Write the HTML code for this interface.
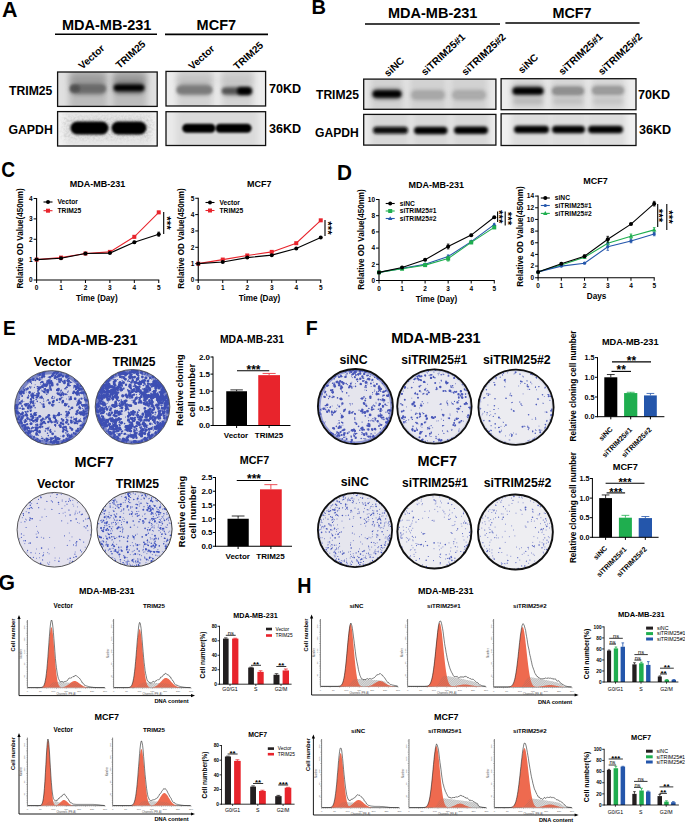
<!DOCTYPE html>
<html><head><meta charset="utf-8"><style>
html,body{margin:0;padding:0;background:#fff;}
body{width:685px;height:823px;overflow:hidden;}
svg{display:block;font-family:"Liberation Sans",sans-serif;font-weight:700;}
</style></head><body>
<svg width="685" height="823" viewBox="0 0 685 823">
<defs>
<filter id="bl1" x="-50%" y="-100%" width="200%" height="300%"><feGaussianBlur stdDeviation="1.6"/></filter>
<filter id="bl2" x="-50%" y="-100%" width="200%" height="300%"><feGaussianBlur stdDeviation="3"/></filter>
<filter id="bl3" x="-50%" y="-100%" width="200%" height="300%"><feGaussianBlur stdDeviation="0.9"/></filter>
<filter id="grain" x="-20%" y="-40%" width="140%" height="180%"><feGaussianBlur in="SourceGraphic" stdDeviation="3" result="b"/><feTurbulence type="fractalNoise" baseFrequency="0.45" numOctaves="2" seed="7" result="n"/><feColorMatrix in="n" type="matrix" values="0 0 0 0 0.6  0 0 0 0 0.6  0 0 0 0 0.6  2.5 0 0 0 -0.95" result="s"/><feComposite in="s" in2="b" operator="in"/></filter>
<filter id="bl4" x="-50%" y="-100%" width="200%" height="300%"><feGaussianBlur stdDeviation="2.2"/></filter>
<clipPath id="c57_72"><rect x="57.6" y="72" width="99.6" height="34.4"/></clipPath>
<clipPath id="c57_111"><rect x="57.6" y="111.6" width="99.6" height="34.4"/></clipPath>
<clipPath id="c166_71"><rect x="166" y="71.4" width="99.6" height="34.6"/></clipPath>
<clipPath id="c166_111"><rect x="166" y="111.7" width="99.6" height="33.8"/></clipPath>
<clipPath id="c363_79"><rect x="363.7" y="79.1" width="132.2" height="30.2"/></clipPath>
<clipPath id="c363_114"><rect x="363.7" y="114.4" width="132.2" height="30.7"/></clipPath>
<clipPath id="c501_78"><rect x="501.1" y="78.7" width="134.9" height="31"/></clipPath>
<clipPath id="c501_113"><rect x="501.1" y="113.8" width="134.9" height="31.7"/></clipPath>
<pattern id="hatch" width="1.6" height="1.6" patternUnits="userSpaceOnUse" patternTransform="rotate(45)"><line x1="0" y1="0" x2="0" y2="1.6" stroke="#6d6d6d" stroke-width="0.45"/></pattern>
<clipPath id="pq21"><circle cx="51.85" cy="407.8" r="37.2"/></clipPath>
<filter id="pb21" x="-5%" y="-5%" width="110%" height="110%"><feGaussianBlur stdDeviation="0.3"/></filter>
<clipPath id="pq22"><circle cx="132.5" cy="406.8" r="37.3"/></clipPath>
<filter id="pb22" x="-5%" y="-5%" width="110%" height="110%"><feGaussianBlur stdDeviation="0.3"/></filter>
<clipPath id="pl23"><circle cx="54.4" cy="529.75" r="37.2"/></clipPath>
<clipPath id="pl24"><circle cx="134.5" cy="529.1" r="37.5"/></clipPath>
<clipPath id="pq31"><circle cx="355.4" cy="406.5" r="38"/></clipPath>
<filter id="pb31" x="-5%" y="-5%" width="110%" height="110%"><feGaussianBlur stdDeviation="0.3"/></filter>
<clipPath id="pq32"><circle cx="434.4" cy="406.5" r="37.7"/></clipPath>
<filter id="pb32" x="-5%" y="-5%" width="110%" height="110%"><feGaussianBlur stdDeviation="0.3"/></filter>
<clipPath id="pq33"><circle cx="516" cy="407.25" r="38.1"/></clipPath>
<filter id="pb33" x="-5%" y="-5%" width="110%" height="110%"><feGaussianBlur stdDeviation="0.3"/></filter>
<clipPath id="pl34"><circle cx="355" cy="530" r="37.5"/></clipPath>
<clipPath id="pl35"><circle cx="434.4" cy="531.5" r="37.5"/></clipPath>
<clipPath id="pl36"><circle cx="515.4" cy="532" r="37.9"/></clipPath>
</defs>
<text transform="translate(2.08 16.89) scale(0.99 1)" font-size="21.7">A</text>
<text transform="translate(311.56 13.97) scale(0.95 1)" font-size="21.1">B</text>
<text transform="translate(1.18 177.21) scale(0.9 1)" font-size="21.3">C</text>
<text transform="translate(337.12 180.1) scale(0.93 1)" font-size="22.3">D</text>
<text transform="translate(2.93 334.89) scale(0.93 1)" font-size="20.4">E</text>
<text transform="translate(305.7 334.71) scale(0.93 1)" font-size="21">F</text>
<text transform="translate(-1.51 589.54) scale(1 1)" font-size="21.2">G</text>
<text transform="translate(297.19 592.58) scale(0.92 1)" font-size="21.4">H</text>
<text x="62" y="30.4" font-size="14.5">MDA-MB-231</text>
<line x1="55" y1="34.3" x2="157" y2="34.3" stroke="#000" stroke-width="1.6"/>
<text x="196.6" y="30.4" font-size="14.5">MCF7</text>
<line x1="165" y1="34.4" x2="268" y2="34.4" stroke="#000" stroke-width="1.6"/>
<text x="82.3" y="69.8" font-size="10.1" transform="rotate(-42 82.3 69.8)">Vector</text>
<text x="119.6" y="69" font-size="10.1" transform="rotate(-42 119.6 69)">TRIM25</text>
<text x="192.3" y="70.3" font-size="10.1" transform="rotate(-42 192.3 70.3)">Vector</text>
<text x="237.3" y="70.3" font-size="10.1" transform="rotate(-42 237.3 70.3)">TRIM25</text>
<text x="9" y="95.4" font-size="12.2">TRIM25</text>
<text x="8.4" y="134.4" font-size="12.3">GAPDH</text>
<text x="269" y="93" font-size="12.6">70KD</text>
<text x="269" y="133" font-size="12.6">36KD</text>
<g clip-path="url(#c57_72)">
<rect x="57.6" y="72" width="99.6" height="34.4" fill="#e0e0e0"/>
<rect x="69" y="68" width="39" height="42.4" fill="#bcbcbc" filter="url(#bl2)"/>
<rect x="112" y="68" width="35" height="42.4" fill="#bcbcbc" filter="url(#bl2)"/>
<rect x="70" y="74" width="36" height="12" rx="6" fill="#9c9c9c" filter="url(#bl2)"/>
<rect x="113" y="74" width="33" height="12" rx="6" fill="#989898" filter="url(#bl2)"/>
<rect x="70" y="83.5" width="36" height="11" rx="5.5" fill="#7a7a7a" filter="url(#bl4)"/>
<rect x="70.5" y="84.75" width="35" height="7.5" rx="3.75" fill="#6a6a6a" filter="url(#bl1)"/>
<rect x="70.5" y="85" width="9.5" height="7" rx="3.5" fill="#505050" filter="url(#bl1)"/>
<rect x="113" y="82.5" width="32" height="11" rx="5.5" fill="#5a5a5a" filter="url(#bl4)"/>
<rect x="114" y="84.8" width="30" height="6" rx="3" fill="#050505" filter="url(#bl1)"/>
</g>
<rect x="57.6" y="72" width="99.6" height="34.4" fill="none" stroke="#111" stroke-width="1.3"/>
<g clip-path="url(#c57_111)">
<rect x="57.6" y="111.6" width="99.6" height="34.4" fill="#f3f3f3"/>
<rect x="64" y="107.6" width="88" height="42.4" fill="#e6e6e6" filter="url(#bl2)"/>
<rect x="66" y="119" width="84" height="18" rx="9" fill="#dedede" filter="url(#bl2)"/>
<rect x="63" y="116" width="90" height="24" fill="#000" filter="url(#grain)"/>
<rect x="70.5" y="121.5" width="38" height="13" rx="6.5" fill="#000" filter="url(#bl3)"/>
<rect x="111.5" y="121.5" width="35" height="13" rx="6.5" fill="#000" filter="url(#bl3)"/>
</g>
<rect x="57.6" y="111.6" width="99.6" height="34.4" fill="none" stroke="#111" stroke-width="1.3"/>
<g clip-path="url(#c166_71)">
<rect x="166" y="71.4" width="99.6" height="34.6" fill="#ececec"/>
<rect x="176.8" y="67.4" width="36" height="42.6" fill="#d3d3d3" filter="url(#bl2)"/>
<rect x="221.3" y="67.4" width="32.2" height="42.6" fill="#d3d3d3" filter="url(#bl2)"/>
<rect x="177" y="76" width="36" height="8" rx="4" fill="#c0c0c0" filter="url(#bl2)"/>
<rect x="221" y="76" width="32" height="8" rx="4" fill="#c4c4c4" filter="url(#bl2)"/>
<rect x="177" y="84" width="35" height="11" rx="5.5" fill="#8a8a8a" filter="url(#bl4)"/>
<rect x="177" y="86.5" width="35" height="7" rx="3.5" fill="#7a7a7a" filter="url(#bl1)"/>
<rect x="222" y="86.5" width="30" height="9" rx="4.5" fill="#8a8a8a" filter="url(#bl4)"/>
<rect x="222" y="88" width="18" height="6" rx="3" fill="#555555" filter="url(#bl1)"/>
<rect x="237" y="87" width="15" height="8" rx="4" fill="#030303" filter="url(#bl1)"/>
</g>
<rect x="166" y="71.4" width="99.6" height="34.6" fill="none" stroke="#111" stroke-width="1.3"/>
<g clip-path="url(#c166_111)">
<rect x="166" y="111.7" width="99.6" height="33.8" fill="#eaeaea"/>
<rect x="176" y="107.7" width="82" height="41.8" fill="#dadada" filter="url(#bl2)"/>
<rect x="182.2" y="123.7" width="33.3" height="9" rx="4.5" fill="#000" filter="url(#bl3)"/>
<rect x="215.5" y="123.7" width="36.1" height="9" rx="4.5" fill="#000" filter="url(#bl3)"/>
</g>
<rect x="166" y="111.7" width="99.6" height="33.8" fill="none" stroke="#111" stroke-width="1.3"/>
<text x="388" y="18.4" font-size="14.5">MDA-MB-231</text>
<line x1="365" y1="24" x2="500" y2="24" stroke="#000" stroke-width="1.6"/>
<text x="552.4" y="17.5" font-size="14.4">MCF7</text>
<line x1="505.4" y1="23" x2="639.6" y2="23" stroke="#000" stroke-width="1.6"/>
<text x="388" y="77.3" font-size="10.2" transform="rotate(-43 388 77.3)">siNC</text>
<text x="425" y="76" font-size="10.2" transform="rotate(-43 425 76)">siTRIM25#1</text>
<text x="465.5" y="76" font-size="10.2" transform="rotate(-43 465.5 76)">siTRIM25#2</text>
<text x="522" y="74" font-size="10.2" transform="rotate(-43 522 74)">siNC</text>
<text x="562.5" y="75.5" font-size="10.2" transform="rotate(-43 562.5 75.5)">siTRIM25#1</text>
<text x="602" y="75.5" font-size="10.2" transform="rotate(-43 602 75.5)">siTRIM25#2</text>
<text x="316" y="99.4" font-size="12.1">TRIM25</text>
<text x="315" y="136.6" font-size="12.1">GAPDH</text>
<text x="638" y="99" font-size="12.6">70KD</text>
<text x="639" y="134.4" font-size="12.6">36KD</text>
<g clip-path="url(#c363_79)">
<rect x="363.7" y="79.1" width="132.2" height="30.2" fill="#e8e8e8"/>
<rect x="370" y="75.1" width="34" height="38.2" fill="#d2d2d2" filter="url(#bl2)"/>
<rect x="409" y="75.1" width="38" height="38.2" fill="#d2d2d2" filter="url(#bl2)"/>
<rect x="450" y="75.1" width="38" height="38.2" fill="#d2d2d2" filter="url(#bl2)"/>
<rect x="372" y="89" width="30" height="10" rx="5" fill="#5a5a5a" filter="url(#bl4)"/>
<rect x="373" y="90.75" width="28" height="6.5" rx="3.25" fill="#050505" filter="url(#bl1)"/>
<rect x="411" y="90" width="34" height="10" rx="5" fill="#a6a6a6" filter="url(#bl4)"/>
<rect x="413" y="92" width="30" height="6" rx="3" fill="#a8a8a8" filter="url(#bl1)"/>
<rect x="452" y="90" width="34" height="10" rx="5" fill="#a8a8a8" filter="url(#bl4)"/>
<rect x="454" y="92" width="30" height="6" rx="3" fill="#acacac" filter="url(#bl1)"/>
</g>
<rect x="363.7" y="79.1" width="132.2" height="30.2" fill="none" stroke="#111" stroke-width="1.3"/>
<g clip-path="url(#c363_114)">
<rect x="363.7" y="114.4" width="132.2" height="30.7" fill="#ededed"/>
<rect x="370" y="110.4" width="40" height="38.7" fill="#d8d8d8" filter="url(#bl2)"/>
<rect x="412" y="110.4" width="38" height="38.7" fill="#d8d8d8" filter="url(#bl2)"/>
<rect x="452" y="110.4" width="38" height="38.7" fill="#d8d8d8" filter="url(#bl2)"/>
<rect x="373" y="126.8" width="35" height="7" rx="3.5" fill="#0a0a0a" filter="url(#bl1)"/>
<rect x="414" y="126.75" width="33.5" height="7.5" rx="3.75" fill="#050505" filter="url(#bl1)"/>
<rect x="454" y="126.55" width="34" height="7.5" rx="3.75" fill="#050505" filter="url(#bl1)"/>
</g>
<rect x="363.7" y="114.4" width="132.2" height="30.7" fill="none" stroke="#111" stroke-width="1.3"/>
<g clip-path="url(#c501_78)">
<rect x="501.1" y="78.7" width="134.9" height="31" fill="#ececec"/>
<rect x="511" y="74.7" width="34" height="39" fill="#d8d8d8" filter="url(#bl2)"/>
<rect x="550" y="74.7" width="36" height="39" fill="#d8d8d8" filter="url(#bl2)"/>
<rect x="591" y="74.7" width="34" height="39" fill="#d8d8d8" filter="url(#bl2)"/>
<rect x="512" y="86" width="32" height="10" rx="5" fill="#606060" filter="url(#bl4)"/>
<rect x="513" y="87.75" width="30" height="6.5" rx="3.25" fill="#050505" filter="url(#bl1)"/>
<rect x="552" y="86.5" width="32" height="9" rx="4.5" fill="#8a8a8a" filter="url(#bl4)"/>
<rect x="553" y="88" width="30" height="6" rx="3" fill="#909090" filter="url(#bl1)"/>
<rect x="592" y="86" width="32" height="9" rx="4.5" fill="#959595" filter="url(#bl4)"/>
<rect x="593" y="87.5" width="30" height="6" rx="3" fill="#9c9c9c" filter="url(#bl1)"/>
<rect x="513" y="97.5" width="30" height="7" rx="3.5" fill="#b8b8b8" filter="url(#bl4)"/>
<rect x="553" y="97.5" width="30" height="7" rx="3.5" fill="#c0c0c0" filter="url(#bl4)"/>
<rect x="593" y="97.5" width="30" height="7" rx="3.5" fill="#c4c4c4" filter="url(#bl4)"/>
</g>
<rect x="501.1" y="78.7" width="134.9" height="31" fill="none" stroke="#111" stroke-width="1.3"/>
<g clip-path="url(#c501_113)">
<rect x="501.1" y="113.8" width="134.9" height="31.7" fill="#f0f0f0"/>
<rect x="511" y="109.8" width="40" height="39.7" fill="#dddddd" filter="url(#bl2)"/>
<rect x="550" y="109.8" width="37" height="39.7" fill="#dddddd" filter="url(#bl2)"/>
<rect x="586" y="109.8" width="40" height="39.7" fill="#dddddd" filter="url(#bl2)"/>
<rect x="514" y="125.85" width="35" height="7.5" rx="3.75" fill="#030303" filter="url(#bl1)"/>
<rect x="552" y="125.85" width="33" height="7.5" rx="3.75" fill="#030303" filter="url(#bl1)"/>
<rect x="588" y="125.85" width="35" height="7.5" rx="3.75" fill="#050505" filter="url(#bl1)"/>
</g>
<rect x="501.1" y="113.8" width="134.9" height="31.7" fill="none" stroke="#111" stroke-width="1.3"/>
<line x1="36.6" y1="198" x2="36.6" y2="280.5" stroke="#000" stroke-width="1.1"/>
<line x1="36.1" y1="280" x2="159.25" y2="280" stroke="#000" stroke-width="1.1"/>
<line x1="33.6" y1="280" x2="36.6" y2="280" stroke="#000" stroke-width="1"/>
<text x="32.6" y="282.3" font-size="6.5" text-anchor="end">0</text>
<line x1="33.6" y1="259.62" x2="36.6" y2="259.62" stroke="#000" stroke-width="1"/>
<text x="32.6" y="261.93" font-size="6.5" text-anchor="end">1</text>
<line x1="33.6" y1="239.25" x2="36.6" y2="239.25" stroke="#000" stroke-width="1"/>
<text x="32.6" y="241.55" font-size="6.5" text-anchor="end">2</text>
<line x1="33.6" y1="218.88" x2="36.6" y2="218.88" stroke="#000" stroke-width="1"/>
<text x="32.6" y="221.18" font-size="6.5" text-anchor="end">3</text>
<line x1="33.6" y1="198.5" x2="36.6" y2="198.5" stroke="#000" stroke-width="1"/>
<text x="32.6" y="200.8" font-size="6.5" text-anchor="end">4</text>
<line x1="36.6" y1="280" x2="36.6" y2="283" stroke="#000" stroke-width="1"/>
<text x="36.6" y="290" font-size="6.5" text-anchor="middle">0</text>
<line x1="61.03" y1="280" x2="61.03" y2="283" stroke="#000" stroke-width="1"/>
<text x="61.03" y="290" font-size="6.5" text-anchor="middle">1</text>
<line x1="85.46" y1="280" x2="85.46" y2="283" stroke="#000" stroke-width="1"/>
<text x="85.46" y="290" font-size="6.5" text-anchor="middle">2</text>
<line x1="109.89" y1="280" x2="109.89" y2="283" stroke="#000" stroke-width="1"/>
<text x="109.89" y="290" font-size="6.5" text-anchor="middle">3</text>
<line x1="134.32" y1="280" x2="134.32" y2="283" stroke="#000" stroke-width="1"/>
<text x="134.32" y="290" font-size="6.5" text-anchor="middle">4</text>
<line x1="158.75" y1="280" x2="158.75" y2="283" stroke="#000" stroke-width="1"/>
<text x="158.75" y="290" font-size="6.5" text-anchor="middle">5</text>
<text x="96.8" y="301" font-size="8.2" text-anchor="middle">Time (Day)</text>
<text x="22.8" y="238.5" font-size="8.15" text-anchor="middle" transform="rotate(-90 22.8 238.5)">Relative OD Value(450nm)</text>
<text x="97.5" y="187" font-size="9" text-anchor="middle">MDA-MB-231</text>
<path d="M36.6 259.6 61 257.6 85.5 253.5 109.9 251.9 134.3 236.8 158.8 212.4" fill="none" stroke="#e8242c" stroke-width="1.1"/>
<rect x="34.6" y="257.62" width="4" height="4" fill="#e8242c"/>
<rect x="59.03" y="255.59" width="4" height="4" fill="#e8242c"/>
<rect x="83.46" y="251.51" width="4" height="4" fill="#e8242c"/>
<rect x="107.89" y="249.88" width="4" height="4" fill="#e8242c"/>
<line x1="134.32" y1="238.03" x2="134.32" y2="235.58" stroke="#e8242c" stroke-width="0.8"/>
<line x1="133.02" y1="235.58" x2="135.62" y2="235.58" stroke="#e8242c" stroke-width="0.8"/>
<line x1="133.02" y1="238.03" x2="135.62" y2="238.03" stroke="#e8242c" stroke-width="0.8"/>
<rect x="132.32" y="234.81" width="4" height="4" fill="#e8242c"/>
<line x1="158.75" y1="213.37" x2="158.75" y2="211.34" stroke="#e8242c" stroke-width="0.8"/>
<line x1="157.45" y1="211.34" x2="160.05" y2="211.34" stroke="#e8242c" stroke-width="0.8"/>
<line x1="157.45" y1="213.37" x2="160.05" y2="213.37" stroke="#e8242c" stroke-width="0.8"/>
<rect x="156.75" y="210.36" width="4" height="4" fill="#e8242c"/>
<path d="M36.6 259.6 61 258.2 85.5 253.5 109.9 253.1 134.3 242.3 158.8 234.2" fill="none" stroke="#000" stroke-width="1.1"/>
<circle cx="36.6" cy="259.62" r="2" fill="#000"/>
<circle cx="61.03" cy="258.2" r="2" fill="#000"/>
<circle cx="85.46" cy="253.51" r="2" fill="#000"/>
<circle cx="109.89" cy="253.1" r="2" fill="#000"/>
<line x1="134.32" y1="243.32" x2="134.32" y2="241.29" stroke="#000" stroke-width="0.8"/>
<line x1="133.02" y1="241.29" x2="135.62" y2="241.29" stroke="#000" stroke-width="0.8"/>
<line x1="133.02" y1="243.32" x2="135.62" y2="243.32" stroke="#000" stroke-width="0.8"/>
<circle cx="134.32" cy="242.31" r="2" fill="#000"/>
<line x1="158.75" y1="236.19" x2="158.75" y2="232.12" stroke="#000" stroke-width="0.8"/>
<line x1="157.45" y1="232.12" x2="160.05" y2="232.12" stroke="#000" stroke-width="0.8"/>
<line x1="157.45" y1="236.19" x2="160.05" y2="236.19" stroke="#000" stroke-width="0.8"/>
<circle cx="158.75" cy="234.16" r="2" fill="#000"/>
<line x1="43.5" y1="202" x2="52.5" y2="202" stroke="#000" stroke-width="1.1"/>
<circle cx="48" cy="202" r="2" fill="#000"/>
<text x="57.5" y="204.3" font-size="6.7">Vector</text>
<line x1="43.5" y1="210.7" x2="52.5" y2="210.7" stroke="#e8242c" stroke-width="1.1"/>
<rect x="46" y="208.7" width="4" height="4" fill="#e8242c"/>
<text x="57.5" y="213" font-size="6.7">TRIM25</text>
<line x1="163.7" y1="212" x2="163.7" y2="234" stroke="#000" stroke-width="1.1"/>
<text x="162.94" y="223" font-size="11.5" text-anchor="middle" transform="rotate(90 162.94 223)">***</text>
<line x1="198.25" y1="197.75" x2="198.25" y2="280.5" stroke="#000" stroke-width="1.1"/>
<line x1="197.75" y1="280" x2="321.25" y2="280" stroke="#000" stroke-width="1.1"/>
<line x1="195.25" y1="280" x2="198.25" y2="280" stroke="#000" stroke-width="1"/>
<text x="194.25" y="282.3" font-size="6.5" text-anchor="end">0</text>
<line x1="195.25" y1="263.65" x2="198.25" y2="263.65" stroke="#000" stroke-width="1"/>
<text x="194.25" y="265.95" font-size="6.5" text-anchor="end">1</text>
<line x1="195.25" y1="247.3" x2="198.25" y2="247.3" stroke="#000" stroke-width="1"/>
<text x="194.25" y="249.6" font-size="6.5" text-anchor="end">2</text>
<line x1="195.25" y1="230.95" x2="198.25" y2="230.95" stroke="#000" stroke-width="1"/>
<text x="194.25" y="233.25" font-size="6.5" text-anchor="end">3</text>
<line x1="195.25" y1="214.6" x2="198.25" y2="214.6" stroke="#000" stroke-width="1"/>
<text x="194.25" y="216.9" font-size="6.5" text-anchor="end">4</text>
<line x1="195.25" y1="198.25" x2="198.25" y2="198.25" stroke="#000" stroke-width="1"/>
<text x="194.25" y="200.55" font-size="6.5" text-anchor="end">5</text>
<line x1="198.25" y1="280" x2="198.25" y2="283" stroke="#000" stroke-width="1"/>
<text x="198.25" y="290" font-size="6.5" text-anchor="middle">0</text>
<line x1="222.75" y1="280" x2="222.75" y2="283" stroke="#000" stroke-width="1"/>
<text x="222.75" y="290" font-size="6.5" text-anchor="middle">1</text>
<line x1="247.25" y1="280" x2="247.25" y2="283" stroke="#000" stroke-width="1"/>
<text x="247.25" y="290" font-size="6.5" text-anchor="middle">2</text>
<line x1="271.75" y1="280" x2="271.75" y2="283" stroke="#000" stroke-width="1"/>
<text x="271.75" y="290" font-size="6.5" text-anchor="middle">3</text>
<line x1="296.25" y1="280" x2="296.25" y2="283" stroke="#000" stroke-width="1"/>
<text x="296.25" y="290" font-size="6.5" text-anchor="middle">4</text>
<line x1="320.75" y1="280" x2="320.75" y2="283" stroke="#000" stroke-width="1"/>
<text x="320.75" y="290" font-size="6.5" text-anchor="middle">5</text>
<text x="259.5" y="301" font-size="8.2" text-anchor="middle">Time (Day)</text>
<text x="183.8" y="238.5" font-size="8.15" text-anchor="middle" transform="rotate(-90 183.8 238.5)">Relative OD Value(450nm)</text>
<text x="259.3" y="187" font-size="9" text-anchor="middle">MCF7</text>
<path d="M198.2 263.6 222.8 259.6 247.2 255.5 271.8 251.9 296.2 243.2 320.8 220.3" fill="none" stroke="#e8242c" stroke-width="1.1"/>
<rect x="196.25" y="261.65" width="4" height="4" fill="#e8242c"/>
<rect x="220.75" y="257.56" width="4" height="4" fill="#e8242c"/>
<rect x="245.25" y="253.47" width="4" height="4" fill="#e8242c"/>
<rect x="269.75" y="249.88" width="4" height="4" fill="#e8242c"/>
<rect x="294.25" y="241.21" width="4" height="4" fill="#e8242c"/>
<rect x="318.75" y="218.32" width="4" height="4" fill="#e8242c"/>
<path d="M198.2 263.6 222.8 262 247.2 257.6 271.8 255.1 296.2 248.6 320.8 237.5" fill="none" stroke="#000" stroke-width="1.1"/>
<circle cx="198.25" cy="263.65" r="2" fill="#000"/>
<circle cx="222.75" cy="262.01" r="2" fill="#000"/>
<circle cx="247.25" cy="257.6" r="2" fill="#000"/>
<circle cx="271.75" cy="255.15" r="2" fill="#000"/>
<circle cx="296.25" cy="248.61" r="2" fill="#000"/>
<circle cx="320.75" cy="237.49" r="2" fill="#000"/>
<line x1="205.5" y1="202.5" x2="214.5" y2="202.5" stroke="#000" stroke-width="1.1"/>
<circle cx="210" cy="202.5" r="2" fill="#000"/>
<text x="219.5" y="204.8" font-size="6.7">Vector</text>
<line x1="205.5" y1="210.5" x2="214.5" y2="210.5" stroke="#e8242c" stroke-width="1.1"/>
<rect x="208" y="208.5" width="4" height="4" fill="#e8242c"/>
<text x="219.5" y="212.8" font-size="6.7">TRIM25</text>
<line x1="325" y1="220" x2="325" y2="236" stroke="#000" stroke-width="1.1"/>
<text x="323.94" y="228" font-size="11.5" text-anchor="middle" transform="rotate(90 323.94 228)">***</text>
<line x1="379" y1="199" x2="379" y2="281" stroke="#000" stroke-width="1.1"/>
<line x1="378.5" y1="280.5" x2="494.75" y2="280.5" stroke="#000" stroke-width="1.1"/>
<line x1="376" y1="280.5" x2="379" y2="280.5" stroke="#000" stroke-width="1"/>
<text x="375" y="282.8" font-size="6.5" text-anchor="end">0</text>
<line x1="376" y1="264.3" x2="379" y2="264.3" stroke="#000" stroke-width="1"/>
<text x="375" y="266.6" font-size="6.5" text-anchor="end">2</text>
<line x1="376" y1="248.1" x2="379" y2="248.1" stroke="#000" stroke-width="1"/>
<text x="375" y="250.4" font-size="6.5" text-anchor="end">4</text>
<line x1="376" y1="231.9" x2="379" y2="231.9" stroke="#000" stroke-width="1"/>
<text x="375" y="234.2" font-size="6.5" text-anchor="end">6</text>
<line x1="376" y1="215.7" x2="379" y2="215.7" stroke="#000" stroke-width="1"/>
<text x="375" y="218" font-size="6.5" text-anchor="end">8</text>
<line x1="376" y1="199.5" x2="379" y2="199.5" stroke="#000" stroke-width="1"/>
<text x="375" y="201.8" font-size="6.5" text-anchor="end">10</text>
<line x1="379" y1="280.5" x2="379" y2="283.5" stroke="#000" stroke-width="1"/>
<text x="379" y="290.5" font-size="6.5" text-anchor="middle">0</text>
<line x1="402.05" y1="280.5" x2="402.05" y2="283.5" stroke="#000" stroke-width="1"/>
<text x="402.05" y="290.5" font-size="6.5" text-anchor="middle">1</text>
<line x1="425.1" y1="280.5" x2="425.1" y2="283.5" stroke="#000" stroke-width="1"/>
<text x="425.1" y="290.5" font-size="6.5" text-anchor="middle">2</text>
<line x1="448.15" y1="280.5" x2="448.15" y2="283.5" stroke="#000" stroke-width="1"/>
<text x="448.15" y="290.5" font-size="6.5" text-anchor="middle">3</text>
<line x1="471.2" y1="280.5" x2="471.2" y2="283.5" stroke="#000" stroke-width="1"/>
<text x="471.2" y="290.5" font-size="6.5" text-anchor="middle">4</text>
<line x1="494.25" y1="280.5" x2="494.25" y2="283.5" stroke="#000" stroke-width="1"/>
<text x="494.25" y="290.5" font-size="6.5" text-anchor="middle">5</text>
<text x="436.5" y="301.5" font-size="8.2" text-anchor="middle">Time (Day)</text>
<text x="363.8" y="239.5" font-size="8.15" text-anchor="middle" transform="rotate(-90 363.8 239.5)">Relative OD Value(450nm)</text>
<text x="436.3" y="188" font-size="9" text-anchor="middle">MDA-MB-231</text>
<path d="M379 272.4 402.1 268.4 425.1 264.3 448.1 256.6 471.2 241.6 494.2 224.6" fill="none" stroke="#2456ab" stroke-width="1.1"/>
<path d="M379 270.1 381.2 273.9 376.8 273.9" fill="#2456ab" stroke="none" stroke-width="1"/>
<path d="M402.1 266.1 404.2 269.9 399.9 269.9" fill="#2456ab" stroke="none" stroke-width="1"/>
<line x1="425.1" y1="265.11" x2="425.1" y2="263.49" stroke="#2456ab" stroke-width="0.8"/>
<line x1="423.8" y1="263.49" x2="426.4" y2="263.49" stroke="#2456ab" stroke-width="0.8"/>
<line x1="423.8" y1="265.11" x2="426.4" y2="265.11" stroke="#2456ab" stroke-width="0.8"/>
<path d="M425.1 262 427.3 265.8 422.9 265.8" fill="#2456ab" stroke="none" stroke-width="1"/>
<line x1="448.15" y1="258.23" x2="448.15" y2="254.98" stroke="#2456ab" stroke-width="0.8"/>
<line x1="446.85" y1="254.98" x2="449.45" y2="254.98" stroke="#2456ab" stroke-width="0.8"/>
<line x1="446.85" y1="258.23" x2="449.45" y2="258.23" stroke="#2456ab" stroke-width="0.8"/>
<path d="M448.1 254.3 450.3 258.1 445.9 258.1" fill="#2456ab" stroke="none" stroke-width="1"/>
<line x1="471.2" y1="242.43" x2="471.2" y2="240.81" stroke="#2456ab" stroke-width="0.8"/>
<line x1="469.9" y1="240.81" x2="472.5" y2="240.81" stroke="#2456ab" stroke-width="0.8"/>
<line x1="469.9" y1="242.43" x2="472.5" y2="242.43" stroke="#2456ab" stroke-width="0.8"/>
<path d="M471.2 239.3 473.4 243.1 469 243.1" fill="#2456ab" stroke="none" stroke-width="1"/>
<line x1="494.25" y1="225.42" x2="494.25" y2="223.8" stroke="#2456ab" stroke-width="0.8"/>
<line x1="492.95" y1="223.8" x2="495.55" y2="223.8" stroke="#2456ab" stroke-width="0.8"/>
<line x1="492.95" y1="225.42" x2="495.55" y2="225.42" stroke="#2456ab" stroke-width="0.8"/>
<path d="M494.2 222.3 496.4 226.1 492.1 226.1" fill="#2456ab" stroke="none" stroke-width="1"/>
<path d="M379 272.4 402.1 268.8 425.1 265.1 448.1 258.6 471.2 242.4 494.2 227.4" fill="none" stroke="#1fae4f" stroke-width="1.1"/>
<rect x="377" y="270.4" width="4" height="4" fill="#1fae4f"/>
<rect x="400.05" y="266.75" width="4" height="4" fill="#1fae4f"/>
<line x1="425.1" y1="265.92" x2="425.1" y2="264.3" stroke="#1fae4f" stroke-width="0.8"/>
<line x1="423.8" y1="264.3" x2="426.4" y2="264.3" stroke="#1fae4f" stroke-width="0.8"/>
<line x1="423.8" y1="265.92" x2="426.4" y2="265.92" stroke="#1fae4f" stroke-width="0.8"/>
<rect x="423.1" y="263.11" width="4" height="4" fill="#1fae4f"/>
<line x1="448.15" y1="261.06" x2="448.15" y2="256.2" stroke="#1fae4f" stroke-width="0.8"/>
<line x1="446.85" y1="256.2" x2="449.45" y2="256.2" stroke="#1fae4f" stroke-width="0.8"/>
<line x1="446.85" y1="261.06" x2="449.45" y2="261.06" stroke="#1fae4f" stroke-width="0.8"/>
<rect x="446.15" y="256.63" width="4" height="4" fill="#1fae4f"/>
<line x1="471.2" y1="243.64" x2="471.2" y2="241.22" stroke="#1fae4f" stroke-width="0.8"/>
<line x1="469.9" y1="241.22" x2="472.5" y2="241.22" stroke="#1fae4f" stroke-width="0.8"/>
<line x1="469.9" y1="243.64" x2="472.5" y2="243.64" stroke="#1fae4f" stroke-width="0.8"/>
<rect x="469.2" y="240.43" width="4" height="4" fill="#1fae4f"/>
<line x1="494.25" y1="228.25" x2="494.25" y2="226.63" stroke="#1fae4f" stroke-width="0.8"/>
<line x1="492.95" y1="226.63" x2="495.55" y2="226.63" stroke="#1fae4f" stroke-width="0.8"/>
<line x1="492.95" y1="228.25" x2="495.55" y2="228.25" stroke="#1fae4f" stroke-width="0.8"/>
<rect x="492.25" y="225.44" width="4" height="4" fill="#1fae4f"/>
<path d="M379 272.4 402.1 267.5 425.1 259.8 448.1 246.5 471.2 235.1 494.2 217.3" fill="none" stroke="#000" stroke-width="1.1"/>
<circle cx="379" cy="272.4" r="2" fill="#000"/>
<circle cx="402.05" cy="267.54" r="2" fill="#000"/>
<line x1="425.1" y1="260.65" x2="425.1" y2="259.04" stroke="#000" stroke-width="0.8"/>
<line x1="423.8" y1="259.04" x2="426.4" y2="259.04" stroke="#000" stroke-width="0.8"/>
<line x1="423.8" y1="260.65" x2="426.4" y2="260.65" stroke="#000" stroke-width="0.8"/>
<circle cx="425.1" cy="259.85" r="2" fill="#000"/>
<line x1="448.15" y1="248.91" x2="448.15" y2="244.05" stroke="#000" stroke-width="0.8"/>
<line x1="446.85" y1="244.05" x2="449.45" y2="244.05" stroke="#000" stroke-width="0.8"/>
<line x1="446.85" y1="248.91" x2="449.45" y2="248.91" stroke="#000" stroke-width="0.8"/>
<circle cx="448.15" cy="246.48" r="2" fill="#000"/>
<line x1="471.2" y1="235.95" x2="471.2" y2="234.33" stroke="#000" stroke-width="0.8"/>
<line x1="469.9" y1="234.33" x2="472.5" y2="234.33" stroke="#000" stroke-width="0.8"/>
<line x1="469.9" y1="235.95" x2="472.5" y2="235.95" stroke="#000" stroke-width="0.8"/>
<circle cx="471.2" cy="235.14" r="2" fill="#000"/>
<line x1="494.25" y1="218.13" x2="494.25" y2="216.51" stroke="#000" stroke-width="0.8"/>
<line x1="492.95" y1="216.51" x2="495.55" y2="216.51" stroke="#000" stroke-width="0.8"/>
<line x1="492.95" y1="218.13" x2="495.55" y2="218.13" stroke="#000" stroke-width="0.8"/>
<circle cx="494.25" cy="217.32" r="2" fill="#000"/>
<line x1="385.7" y1="203.5" x2="394.7" y2="203.5" stroke="#000" stroke-width="1.1"/>
<circle cx="390.2" cy="203.5" r="2" fill="#000"/>
<text x="399.7" y="205.8" font-size="6.7">siNC</text>
<line x1="385.7" y1="211" x2="394.7" y2="211" stroke="#1fae4f" stroke-width="1.1"/>
<rect x="388.2" y="209" width="4" height="4" fill="#1fae4f"/>
<text x="399.7" y="213.3" font-size="6.7">siTRIM25#1</text>
<line x1="385.7" y1="218.5" x2="394.7" y2="218.5" stroke="#2456ab" stroke-width="1.1"/>
<path d="M390.2 216.2 392.4 220 388 220" fill="#2456ab" stroke="none" stroke-width="1"/>
<text x="399.7" y="220.8" font-size="6.7">siTRIM25#2</text>
<line x1="497.6" y1="211.5" x2="497.6" y2="222" stroke="#000" stroke-width="1.1"/>
<text x="495.13" y="216.75" font-size="11.5" text-anchor="middle" transform="rotate(90 495.13 216.75)">***</text>
<line x1="505.2" y1="211.5" x2="505.2" y2="225.5" stroke="#000" stroke-width="1.1"/>
<text x="504.13" y="218.5" font-size="11.5" text-anchor="middle" transform="rotate(90 504.13 218.5)">***</text>
<line x1="538.1" y1="195.6" x2="538.1" y2="278.25" stroke="#000" stroke-width="1.1"/>
<line x1="537.6" y1="277.75" x2="654.7" y2="277.75" stroke="#000" stroke-width="1.1"/>
<line x1="535.1" y1="277.75" x2="538.1" y2="277.75" stroke="#000" stroke-width="1"/>
<text x="534.1" y="280.05" font-size="6.5" text-anchor="end">0</text>
<line x1="535.1" y1="266.09" x2="538.1" y2="266.09" stroke="#000" stroke-width="1"/>
<text x="534.1" y="268.39" font-size="6.5" text-anchor="end">2</text>
<line x1="535.1" y1="254.42" x2="538.1" y2="254.42" stroke="#000" stroke-width="1"/>
<text x="534.1" y="256.72" font-size="6.5" text-anchor="end">4</text>
<line x1="535.1" y1="242.76" x2="538.1" y2="242.76" stroke="#000" stroke-width="1"/>
<text x="534.1" y="245.06" font-size="6.5" text-anchor="end">6</text>
<line x1="535.1" y1="231.09" x2="538.1" y2="231.09" stroke="#000" stroke-width="1"/>
<text x="534.1" y="233.39" font-size="6.5" text-anchor="end">8</text>
<line x1="535.1" y1="219.43" x2="538.1" y2="219.43" stroke="#000" stroke-width="1"/>
<text x="534.1" y="221.73" font-size="6.5" text-anchor="end">10</text>
<line x1="535.1" y1="207.76" x2="538.1" y2="207.76" stroke="#000" stroke-width="1"/>
<text x="534.1" y="210.06" font-size="6.5" text-anchor="end">12</text>
<line x1="535.1" y1="196.1" x2="538.1" y2="196.1" stroke="#000" stroke-width="1"/>
<text x="534.1" y="198.4" font-size="6.5" text-anchor="end">14</text>
<line x1="538.1" y1="277.75" x2="538.1" y2="280.75" stroke="#000" stroke-width="1"/>
<text x="538.1" y="287.75" font-size="6.5" text-anchor="middle">0</text>
<line x1="561.32" y1="277.75" x2="561.32" y2="280.75" stroke="#000" stroke-width="1"/>
<text x="561.32" y="287.75" font-size="6.5" text-anchor="middle">1</text>
<line x1="584.54" y1="277.75" x2="584.54" y2="280.75" stroke="#000" stroke-width="1"/>
<text x="584.54" y="287.75" font-size="6.5" text-anchor="middle">2</text>
<line x1="607.76" y1="277.75" x2="607.76" y2="280.75" stroke="#000" stroke-width="1"/>
<text x="607.76" y="287.75" font-size="6.5" text-anchor="middle">3</text>
<line x1="630.98" y1="277.75" x2="630.98" y2="280.75" stroke="#000" stroke-width="1"/>
<text x="630.98" y="287.75" font-size="6.5" text-anchor="middle">4</text>
<line x1="654.2" y1="277.75" x2="654.2" y2="280.75" stroke="#000" stroke-width="1"/>
<text x="654.2" y="287.75" font-size="6.5" text-anchor="middle">5</text>
<text x="596.6" y="298.75" font-size="8.2" text-anchor="middle">Days</text>
<text x="522.5" y="236.5" font-size="8.15" text-anchor="middle" transform="rotate(-90 522.5 236.5)">Relative OD Value(450nm)</text>
<text x="595.5" y="184" font-size="9" text-anchor="middle">MCF7</text>
<path d="M538.1 271.9 561.3 264.9 584.5 257.3 607.8 243.3 631 236.3 654.2 229.9" fill="none" stroke="#1fae4f" stroke-width="1.1"/>
<path d="M538.1 269.6 540.3 273.4 535.9 273.4" fill="#1fae4f" stroke="none" stroke-width="1"/>
<line x1="561.32" y1="265.5" x2="561.32" y2="264.34" stroke="#1fae4f" stroke-width="0.8"/>
<line x1="560.02" y1="264.34" x2="562.62" y2="264.34" stroke="#1fae4f" stroke-width="0.8"/>
<line x1="560.02" y1="265.5" x2="562.62" y2="265.5" stroke="#1fae4f" stroke-width="0.8"/>
<path d="M561.3 262.6 563.5 266.4 559.1 266.4" fill="#1fae4f" stroke="none" stroke-width="1"/>
<line x1="584.54" y1="258.5" x2="584.54" y2="256.17" stroke="#1fae4f" stroke-width="0.8"/>
<line x1="583.24" y1="256.17" x2="585.84" y2="256.17" stroke="#1fae4f" stroke-width="0.8"/>
<line x1="583.24" y1="258.5" x2="585.84" y2="258.5" stroke="#1fae4f" stroke-width="0.8"/>
<path d="M584.5 255 586.7 258.8 582.3 258.8" fill="#1fae4f" stroke="none" stroke-width="1"/>
<line x1="607.76" y1="245.67" x2="607.76" y2="241.01" stroke="#1fae4f" stroke-width="0.8"/>
<line x1="606.46" y1="241.01" x2="609.06" y2="241.01" stroke="#1fae4f" stroke-width="0.8"/>
<line x1="606.46" y1="245.67" x2="609.06" y2="245.67" stroke="#1fae4f" stroke-width="0.8"/>
<path d="M607.8 241 610 244.8 605.6 244.8" fill="#1fae4f" stroke="none" stroke-width="1"/>
<line x1="630.98" y1="238.67" x2="630.98" y2="234.01" stroke="#1fae4f" stroke-width="0.8"/>
<line x1="629.68" y1="234.01" x2="632.28" y2="234.01" stroke="#1fae4f" stroke-width="0.8"/>
<line x1="629.68" y1="238.67" x2="632.28" y2="238.67" stroke="#1fae4f" stroke-width="0.8"/>
<path d="M631 234 633.2 237.8 628.8 237.8" fill="#1fae4f" stroke="none" stroke-width="1"/>
<line x1="654.2" y1="232.26" x2="654.2" y2="227.59" stroke="#1fae4f" stroke-width="0.8"/>
<line x1="652.9" y1="227.59" x2="655.5" y2="227.59" stroke="#1fae4f" stroke-width="0.8"/>
<line x1="652.9" y1="232.26" x2="655.5" y2="232.26" stroke="#1fae4f" stroke-width="0.8"/>
<path d="M654.2 227.6 656.4 231.4 652 231.4" fill="#1fae4f" stroke="none" stroke-width="1"/>
<path d="M538.1 271.9 561.3 266.1 584.5 263.2 607.8 246.8 631 241 654.2 234" fill="none" stroke="#2456ab" stroke-width="1.1"/>
<circle cx="538.1" cy="271.92" r="1.6" fill="#2456ab"/>
<line x1="561.32" y1="266.67" x2="561.32" y2="265.5" stroke="#2456ab" stroke-width="0.8"/>
<line x1="560.02" y1="265.5" x2="562.62" y2="265.5" stroke="#2456ab" stroke-width="0.8"/>
<line x1="560.02" y1="266.67" x2="562.62" y2="266.67" stroke="#2456ab" stroke-width="0.8"/>
<circle cx="561.32" cy="266.09" r="1.6" fill="#2456ab"/>
<line x1="584.54" y1="263.75" x2="584.54" y2="262.59" stroke="#2456ab" stroke-width="0.8"/>
<line x1="583.24" y1="262.59" x2="585.84" y2="262.59" stroke="#2456ab" stroke-width="0.8"/>
<line x1="583.24" y1="263.75" x2="585.84" y2="263.75" stroke="#2456ab" stroke-width="0.8"/>
<circle cx="584.54" cy="263.17" r="1.6" fill="#2456ab"/>
<line x1="607.76" y1="250.34" x2="607.76" y2="243.34" stroke="#2456ab" stroke-width="0.8"/>
<line x1="606.46" y1="243.34" x2="609.06" y2="243.34" stroke="#2456ab" stroke-width="0.8"/>
<line x1="606.46" y1="250.34" x2="609.06" y2="250.34" stroke="#2456ab" stroke-width="0.8"/>
<circle cx="607.76" cy="246.84" r="1.6" fill="#2456ab"/>
<line x1="630.98" y1="242.76" x2="630.98" y2="239.26" stroke="#2456ab" stroke-width="0.8"/>
<line x1="629.68" y1="239.26" x2="632.28" y2="239.26" stroke="#2456ab" stroke-width="0.8"/>
<line x1="629.68" y1="242.76" x2="632.28" y2="242.76" stroke="#2456ab" stroke-width="0.8"/>
<circle cx="630.98" cy="241.01" r="1.6" fill="#2456ab"/>
<line x1="654.2" y1="235.76" x2="654.2" y2="232.26" stroke="#2456ab" stroke-width="0.8"/>
<line x1="652.9" y1="232.26" x2="655.5" y2="232.26" stroke="#2456ab" stroke-width="0.8"/>
<line x1="652.9" y1="235.76" x2="655.5" y2="235.76" stroke="#2456ab" stroke-width="0.8"/>
<circle cx="654.2" cy="234.01" r="1.6" fill="#2456ab"/>
<path d="M538.1 271.9 561.3 263.8 584.5 256.2 607.8 239.3 631 224.1 654.2 203.7" fill="none" stroke="#000" stroke-width="1.1"/>
<circle cx="538.1" cy="271.92" r="2" fill="#000"/>
<line x1="561.32" y1="264.34" x2="561.32" y2="263.17" stroke="#000" stroke-width="0.8"/>
<line x1="560.02" y1="263.17" x2="562.62" y2="263.17" stroke="#000" stroke-width="0.8"/>
<line x1="560.02" y1="264.34" x2="562.62" y2="264.34" stroke="#000" stroke-width="0.8"/>
<circle cx="561.32" cy="263.75" r="2" fill="#000"/>
<line x1="584.54" y1="257.34" x2="584.54" y2="255" stroke="#000" stroke-width="0.8"/>
<line x1="583.24" y1="255" x2="585.84" y2="255" stroke="#000" stroke-width="0.8"/>
<line x1="583.24" y1="257.34" x2="585.84" y2="257.34" stroke="#000" stroke-width="0.8"/>
<circle cx="584.54" cy="256.17" r="2" fill="#000"/>
<line x1="607.76" y1="242.17" x2="607.76" y2="236.34" stroke="#000" stroke-width="0.8"/>
<line x1="606.46" y1="236.34" x2="609.06" y2="236.34" stroke="#000" stroke-width="0.8"/>
<line x1="606.46" y1="242.17" x2="609.06" y2="242.17" stroke="#000" stroke-width="0.8"/>
<circle cx="607.76" cy="239.26" r="2" fill="#000"/>
<line x1="630.98" y1="224.68" x2="630.98" y2="223.51" stroke="#000" stroke-width="0.8"/>
<line x1="629.68" y1="223.51" x2="632.28" y2="223.51" stroke="#000" stroke-width="0.8"/>
<line x1="629.68" y1="224.68" x2="632.28" y2="224.68" stroke="#000" stroke-width="0.8"/>
<circle cx="630.98" cy="224.09" r="2" fill="#000"/>
<line x1="654.2" y1="206.01" x2="654.2" y2="201.35" stroke="#000" stroke-width="0.8"/>
<line x1="652.9" y1="201.35" x2="655.5" y2="201.35" stroke="#000" stroke-width="0.8"/>
<line x1="652.9" y1="206.01" x2="655.5" y2="206.01" stroke="#000" stroke-width="0.8"/>
<circle cx="654.2" cy="203.68" r="2" fill="#000"/>
<line x1="540.8" y1="198" x2="549.8" y2="198" stroke="#000" stroke-width="1.1"/>
<circle cx="545.3" cy="198" r="2" fill="#000"/>
<text x="554.8" y="200.3" font-size="6.7">siNC</text>
<line x1="540.8" y1="205.5" x2="549.8" y2="205.5" stroke="#2456ab" stroke-width="1.1"/>
<circle cx="545.3" cy="205.5" r="1.6" fill="#2456ab"/>
<text x="554.8" y="207.8" font-size="6.7">siTRIM25#1</text>
<line x1="540.8" y1="213.4" x2="549.8" y2="213.4" stroke="#1fae4f" stroke-width="1.1"/>
<path d="M545.3 211.1 547.5 214.9 543.1 214.9" fill="#1fae4f" stroke="none" stroke-width="1"/>
<text x="554.8" y="215.7" font-size="6.7">siTRIM25#2</text>
<line x1="657.7" y1="204" x2="657.7" y2="227" stroke="#000" stroke-width="1.1"/>
<text x="655.13" y="215.5" font-size="11.5" text-anchor="middle" transform="rotate(90 655.13 215.5)">***</text>
<line x1="666.8" y1="204" x2="666.8" y2="230" stroke="#000" stroke-width="1.1"/>
<text x="664.63" y="217" font-size="11.5" text-anchor="middle" transform="rotate(90 664.63 217)">***</text>
<rect x="226.25" y="391.25" width="20.75" height="34.25" fill="#000"/>
<line x1="236.62" y1="391.25" x2="236.62" y2="389.88" stroke="#000" stroke-width="0.8"/>
<line x1="230.4" y1="389.88" x2="242.85" y2="389.88" stroke="#000" stroke-width="0.8"/>
<rect x="258.25" y="375.15" width="21.75" height="50.35" fill="#e8242c"/>
<line x1="269.12" y1="375.15" x2="269.12" y2="373.44" stroke="#e8242c" stroke-width="0.8"/>
<line x1="262.6" y1="373.44" x2="275.65" y2="373.44" stroke="#e8242c" stroke-width="0.8"/>
<line x1="213" y1="356.5" x2="213" y2="426" stroke="#000" stroke-width="1"/>
<line x1="212.5" y1="425.5" x2="290.5" y2="425.5" stroke="#000" stroke-width="1"/>
<line x1="210.5" y1="425.5" x2="213" y2="425.5" stroke="#000" stroke-width="1"/>
<text x="210" y="428.3" font-size="8" text-anchor="end">0.0</text>
<line x1="210.5" y1="408.38" x2="213" y2="408.38" stroke="#000" stroke-width="1"/>
<text x="210" y="411.18" font-size="8" text-anchor="end">0.5</text>
<line x1="210.5" y1="391.25" x2="213" y2="391.25" stroke="#000" stroke-width="1"/>
<text x="210" y="394.05" font-size="8" text-anchor="end">1.0</text>
<line x1="210.5" y1="374.12" x2="213" y2="374.12" stroke="#000" stroke-width="1"/>
<text x="210" y="376.93" font-size="8" text-anchor="end">1.5</text>
<line x1="210.5" y1="357" x2="213" y2="357" stroke="#000" stroke-width="1"/>
<text x="210" y="359.8" font-size="8" text-anchor="end">2.0</text>
<line x1="236.6" y1="425.5" x2="236.6" y2="428" stroke="#000" stroke-width="1"/>
<line x1="269.1" y1="425.5" x2="269.1" y2="428" stroke="#000" stroke-width="1"/>
<line x1="237" y1="370.75" x2="269.25" y2="370.75" stroke="#000" stroke-width="1.2"/>
<text x="253.5" y="373.6" font-size="12" text-anchor="middle">***</text>
<text x="252" y="343" font-size="10.4" text-anchor="middle">MDA-MB-231</text>
<text x="183.2" y="390" font-size="9.3" text-anchor="middle" transform="rotate(-90 183.2 390)">Relative cloning</text>
<text x="194.5" y="390.5" font-size="9.5" text-anchor="middle" transform="rotate(-90 194.5 390.5)">cell number</text>
<text x="236" y="438" font-size="8" text-anchor="middle">Vector</text>
<text x="269" y="438" font-size="8" text-anchor="middle">TRIM25</text>
<rect x="227.5" y="518.75" width="21.25" height="27.5" fill="#000"/>
<line x1="238.12" y1="518.75" x2="238.12" y2="516" stroke="#000" stroke-width="0.8"/>
<line x1="231.75" y1="516" x2="244.5" y2="516" stroke="#000" stroke-width="0.8"/>
<rect x="260" y="489.32" width="21.75" height="56.93" fill="#e8242c"/>
<line x1="270.88" y1="489.32" x2="270.88" y2="484.65" stroke="#e8242c" stroke-width="0.8"/>
<line x1="264.35" y1="484.65" x2="277.4" y2="484.65" stroke="#e8242c" stroke-width="0.8"/>
<line x1="215.5" y1="477" x2="215.5" y2="546.75" stroke="#000" stroke-width="1"/>
<line x1="215" y1="546.25" x2="292" y2="546.25" stroke="#000" stroke-width="1"/>
<line x1="213" y1="546.25" x2="215.5" y2="546.25" stroke="#000" stroke-width="1"/>
<text x="212.5" y="549.05" font-size="8" text-anchor="end">0.0</text>
<line x1="213" y1="532.5" x2="215.5" y2="532.5" stroke="#000" stroke-width="1"/>
<text x="212.5" y="535.3" font-size="8" text-anchor="end">0.5</text>
<line x1="213" y1="518.75" x2="215.5" y2="518.75" stroke="#000" stroke-width="1"/>
<text x="212.5" y="521.55" font-size="8" text-anchor="end">1.0</text>
<line x1="213" y1="505" x2="215.5" y2="505" stroke="#000" stroke-width="1"/>
<text x="212.5" y="507.8" font-size="8" text-anchor="end">1.5</text>
<line x1="213" y1="491.25" x2="215.5" y2="491.25" stroke="#000" stroke-width="1"/>
<text x="212.5" y="494.05" font-size="8" text-anchor="end">2.0</text>
<line x1="213" y1="477.5" x2="215.5" y2="477.5" stroke="#000" stroke-width="1"/>
<text x="212.5" y="480.3" font-size="8" text-anchor="end">2.5</text>
<line x1="238.1" y1="546.25" x2="238.1" y2="549" stroke="#000" stroke-width="1"/>
<line x1="270.9" y1="546.25" x2="270.9" y2="549" stroke="#000" stroke-width="1"/>
<line x1="236.75" y1="480.5" x2="271.25" y2="480.5" stroke="#000" stroke-width="1.2"/>
<text x="254" y="483.4" font-size="12" text-anchor="middle">***</text>
<text x="254.5" y="463.75" font-size="10.8" text-anchor="middle">MCF7</text>
<text x="185" y="511.5" font-size="9.3" text-anchor="middle" transform="rotate(-90 185 511.5)">Relative cloning</text>
<text x="196.2" y="512" font-size="9.5" text-anchor="middle" transform="rotate(-90 196.2 512)">cell number</text>
<text x="237.75" y="558.75" font-size="8" text-anchor="middle">Vector</text>
<text x="270.5" y="558.75" font-size="8" text-anchor="middle">TRIM25</text>
<rect x="604.3" y="377.3" width="13" height="39.4" fill="#000"/>
<line x1="610.8" y1="377.3" x2="610.8" y2="374.54" stroke="#000" stroke-width="0.8"/>
<line x1="606.9" y1="374.54" x2="614.7" y2="374.54" stroke="#000" stroke-width="0.8"/>
<rect x="624.1" y="393.06" width="13.2" height="23.64" fill="#1fae4f"/>
<line x1="630.7" y1="393.06" x2="630.7" y2="392.27" stroke="#1fae4f" stroke-width="0.8"/>
<line x1="626.74" y1="392.27" x2="634.66" y2="392.27" stroke="#1fae4f" stroke-width="0.8"/>
<rect x="644" y="395.42" width="12.8" height="21.28" fill="#2456ab"/>
<line x1="650.4" y1="395.42" x2="650.4" y2="393.45" stroke="#2456ab" stroke-width="0.8"/>
<line x1="646.56" y1="393.45" x2="654.24" y2="393.45" stroke="#2456ab" stroke-width="0.8"/>
<line x1="597.5" y1="357.1" x2="597.5" y2="417.2" stroke="#000" stroke-width="1"/>
<line x1="597" y1="416.7" x2="664.4" y2="416.7" stroke="#000" stroke-width="1"/>
<line x1="595" y1="416.7" x2="597.5" y2="416.7" stroke="#000" stroke-width="1"/>
<text x="594.5" y="419.22" font-size="7.2" text-anchor="end">0.0</text>
<line x1="595" y1="397" x2="597.5" y2="397" stroke="#000" stroke-width="1"/>
<text x="594.5" y="399.52" font-size="7.2" text-anchor="end">0.5</text>
<line x1="595" y1="377.3" x2="597.5" y2="377.3" stroke="#000" stroke-width="1"/>
<text x="594.5" y="379.82" font-size="7.2" text-anchor="end">1.0</text>
<line x1="595" y1="357.6" x2="597.5" y2="357.6" stroke="#000" stroke-width="1"/>
<text x="594.5" y="360.12" font-size="7.2" text-anchor="end">1.5</text>
<line x1="610.8" y1="416.7" x2="610.8" y2="419.3" stroke="#000" stroke-width="1"/>
<line x1="630.7" y1="416.7" x2="630.7" y2="419.3" stroke="#000" stroke-width="1"/>
<line x1="650.4" y1="416.7" x2="650.4" y2="419.3" stroke="#000" stroke-width="1"/>
<line x1="612" y1="361.9" x2="651" y2="361.9" stroke="#000" stroke-width="1.1"/>
<text x="631.5" y="364.8" font-size="12" text-anchor="middle">**</text>
<line x1="611.5" y1="371.4" x2="631" y2="371.4" stroke="#000" stroke-width="1.1"/>
<text x="621.2" y="374.3" font-size="12" text-anchor="middle">**</text>
<text x="630.25" y="345.1" font-size="9.2" text-anchor="middle">MDA-MB-231</text>
<text x="575.8" y="386" font-size="8.2" text-anchor="middle" transform="rotate(-90 575.8 386)">Relative cloning cell number</text>
<text x="613.1" y="429.8" font-size="7.1" text-anchor="end" transform="rotate(-45 613.1 429.8)">siNC</text>
<text x="632.6" y="430.3" font-size="7.1" text-anchor="end" transform="rotate(-45 632.6 430.3)">siTRIM25#1</text>
<text x="652" y="430.3" font-size="7.1" text-anchor="end" transform="rotate(-45 652 430.3)">siTRIM25#2</text>
<rect x="599.2" y="498.1" width="12.8" height="39.2" fill="#000"/>
<line x1="605.6" y1="498.1" x2="605.6" y2="494.96" stroke="#000" stroke-width="0.8"/>
<line x1="601.76" y1="494.96" x2="609.44" y2="494.96" stroke="#000" stroke-width="0.8"/>
<rect x="618.9" y="517.7" width="13" height="19.6" fill="#1fae4f"/>
<line x1="625.4" y1="517.7" x2="625.4" y2="515.35" stroke="#1fae4f" stroke-width="0.8"/>
<line x1="621.5" y1="515.35" x2="629.3" y2="515.35" stroke="#1fae4f" stroke-width="0.8"/>
<rect x="638.7" y="518.09" width="13.3" height="19.21" fill="#2456ab"/>
<line x1="645.35" y1="518.09" x2="645.35" y2="516.52" stroke="#2456ab" stroke-width="0.8"/>
<line x1="641.36" y1="516.52" x2="649.34" y2="516.52" stroke="#2456ab" stroke-width="0.8"/>
<line x1="592.4" y1="478" x2="592.4" y2="537.8" stroke="#000" stroke-width="1"/>
<line x1="591.9" y1="537.3" x2="658.6" y2="537.3" stroke="#000" stroke-width="1"/>
<line x1="589.9" y1="537.3" x2="592.4" y2="537.3" stroke="#000" stroke-width="1"/>
<text x="589.4" y="539.82" font-size="7.2" text-anchor="end">0.0</text>
<line x1="589.9" y1="517.7" x2="592.4" y2="517.7" stroke="#000" stroke-width="1"/>
<text x="589.4" y="520.22" font-size="7.2" text-anchor="end">0.5</text>
<line x1="589.9" y1="498.1" x2="592.4" y2="498.1" stroke="#000" stroke-width="1"/>
<text x="589.4" y="500.62" font-size="7.2" text-anchor="end">1.0</text>
<line x1="589.9" y1="478.5" x2="592.4" y2="478.5" stroke="#000" stroke-width="1"/>
<text x="589.4" y="481.02" font-size="7.2" text-anchor="end">1.5</text>
<line x1="605.6" y1="537.3" x2="605.6" y2="539.9" stroke="#000" stroke-width="1"/>
<line x1="625.4" y1="537.3" x2="625.4" y2="539.9" stroke="#000" stroke-width="1"/>
<line x1="645.3" y1="537.3" x2="645.3" y2="539.9" stroke="#000" stroke-width="1"/>
<line x1="605.6" y1="483.2" x2="644.5" y2="483.2" stroke="#000" stroke-width="1.1"/>
<text x="625" y="486" font-size="11.2" text-anchor="middle">***</text>
<line x1="606.6" y1="492.9" x2="625.1" y2="492.9" stroke="#000" stroke-width="1.1"/>
<text x="615.9" y="495.7" font-size="11.2" text-anchor="middle">***</text>
<text x="625.3" y="469.6" font-size="9.2" text-anchor="middle">MCF7</text>
<text x="575.8" y="507.6" font-size="8.2" text-anchor="middle" transform="rotate(-90 575.8 507.6)">Relative cloning  cell number</text>
<text x="607.7" y="548.8" font-size="7.1" text-anchor="end" transform="rotate(-45 607.7 548.8)">siNC</text>
<text x="627.1" y="549.8" font-size="7.1" text-anchor="end" transform="rotate(-45 627.1 549.8)">siTRIM25#1</text>
<text x="647.2" y="549.8" font-size="7.1" text-anchor="end" transform="rotate(-45 647.2 549.8)">siTRIM25#2</text>
<rect x="223" y="638.6" width="5.6" height="45.6" fill="#231f20"/>
<line x1="225.8" y1="638.6" x2="225.8" y2="637.88" stroke="#231f20" stroke-width="0.8"/>
<line x1="224.12" y1="637.88" x2="227.48" y2="637.88" stroke="#231f20" stroke-width="0.8"/>
<rect x="232.1" y="638.6" width="6.3" height="45.6" fill="#e8242c"/>
<line x1="235.25" y1="638.6" x2="235.25" y2="638.24" stroke="#e8242c" stroke-width="0.8"/>
<line x1="233.36" y1="638.24" x2="237.14" y2="638.24" stroke="#e8242c" stroke-width="0.8"/>
<rect x="248.2" y="667.55" width="5.7" height="16.65" fill="#231f20"/>
<line x1="251.05" y1="667.55" x2="251.05" y2="667.19" stroke="#231f20" stroke-width="0.8"/>
<line x1="249.34" y1="667.19" x2="252.76" y2="667.19" stroke="#231f20" stroke-width="0.8"/>
<rect x="257.4" y="671.9" width="6.3" height="12.3" fill="#e8242c"/>
<line x1="260.55" y1="671.9" x2="260.55" y2="670.81" stroke="#e8242c" stroke-width="0.8"/>
<line x1="258.66" y1="670.81" x2="262.44" y2="670.81" stroke="#e8242c" stroke-width="0.8"/>
<rect x="273.5" y="674.79" width="6" height="9.41" fill="#231f20"/>
<line x1="276.5" y1="674.79" x2="276.5" y2="673.71" stroke="#231f20" stroke-width="0.8"/>
<line x1="274.7" y1="673.71" x2="278.3" y2="673.71" stroke="#231f20" stroke-width="0.8"/>
<rect x="282.6" y="670.45" width="6.4" height="13.75" fill="#e8242c"/>
<line x1="285.8" y1="670.45" x2="285.8" y2="669" stroke="#e8242c" stroke-width="0.8"/>
<line x1="283.88" y1="669" x2="287.72" y2="669" stroke="#e8242c" stroke-width="0.8"/>
<line x1="219.5" y1="625.8" x2="219.5" y2="684.6" stroke="#000" stroke-width="0.8"/>
<line x1="219.1" y1="684.2" x2="291.6" y2="684.2" stroke="#000" stroke-width="0.8"/>
<line x1="217.5" y1="684.2" x2="219.5" y2="684.2" stroke="#000" stroke-width="0.8"/>
<text x="217" y="685.88" font-size="4.8" text-anchor="end">0</text>
<line x1="217.5" y1="669.73" x2="219.5" y2="669.73" stroke="#000" stroke-width="0.8"/>
<text x="217" y="671.4" font-size="4.8" text-anchor="end">20</text>
<line x1="217.5" y1="655.25" x2="219.5" y2="655.25" stroke="#000" stroke-width="0.8"/>
<text x="217" y="656.93" font-size="4.8" text-anchor="end">40</text>
<line x1="217.5" y1="640.77" x2="219.5" y2="640.77" stroke="#000" stroke-width="0.8"/>
<text x="217" y="642.45" font-size="4.8" text-anchor="end">60</text>
<line x1="217.5" y1="626.3" x2="219.5" y2="626.3" stroke="#000" stroke-width="0.8"/>
<text x="217" y="627.98" font-size="4.8" text-anchor="end">80</text>
<line x1="225.8" y1="635.3" x2="235.7" y2="635.3" stroke="#000" stroke-width="0.8"/>
<text x="230.75" y="634.7" font-size="5.7" text-anchor="middle" font-weight="400">ns</text>
<line x1="251" y1="665.3" x2="261" y2="665.3" stroke="#000" stroke-width="0.8"/>
<text x="256" y="667" font-size="7.8" text-anchor="middle">**</text>
<line x1="276.3" y1="666.5" x2="286.3" y2="666.5" stroke="#000" stroke-width="0.8"/>
<text x="281.3" y="668.2" font-size="7.8" text-anchor="middle">**</text>
<text x="255.5" y="617.9" font-size="7.2" text-anchor="middle">MDA-MB-231</text>
<text x="230" y="691.4" font-size="5.2" text-anchor="middle" font-weight="400">G0/G1</text>
<line x1="230" y1="684.2" x2="230" y2="686" stroke="#000" stroke-width="0.7"/>
<text x="255.8" y="691.4" font-size="5.2" text-anchor="middle" font-weight="400">S</text>
<line x1="255.8" y1="684.2" x2="255.8" y2="686" stroke="#000" stroke-width="0.7"/>
<text x="281" y="691.4" font-size="5.2" text-anchor="middle" font-weight="400">G2/M</text>
<line x1="281" y1="684.2" x2="281" y2="686" stroke="#000" stroke-width="0.7"/>
<rect x="266" y="627.7" width="6" height="2.6" fill="#231f20"/>
<text x="275.5" y="630.7" font-size="4.8" font-weight="400">Vector</text>
<rect x="266" y="634.2" width="6" height="2.6" fill="#e8242c"/>
<text x="275.5" y="637.2" font-size="4.8" font-weight="400">TRIM25</text>
<text x="205" y="655" font-size="6.4" text-anchor="middle" transform="rotate(-90 205 655)">Cell number(%)</text>
<rect x="224.9" y="756.51" width="6.1" height="47.69" fill="#231f20"/>
<line x1="227.95" y1="756.51" x2="227.95" y2="756.14" stroke="#231f20" stroke-width="0.8"/>
<line x1="226.12" y1="756.14" x2="229.78" y2="756.14" stroke="#231f20" stroke-width="0.8"/>
<rect x="234.1" y="760.91" width="6.6" height="43.29" fill="#e8242c"/>
<line x1="237.4" y1="760.91" x2="237.4" y2="759.81" stroke="#e8242c" stroke-width="0.8"/>
<line x1="235.42" y1="759.81" x2="239.38" y2="759.81" stroke="#e8242c" stroke-width="0.8"/>
<rect x="250.2" y="786.59" width="5.8" height="17.61" fill="#231f20"/>
<line x1="253.1" y1="786.59" x2="253.1" y2="785.86" stroke="#231f20" stroke-width="0.8"/>
<line x1="251.36" y1="785.86" x2="254.84" y2="785.86" stroke="#231f20" stroke-width="0.8"/>
<rect x="259" y="790.99" width="6.8" height="13.21" fill="#e8242c"/>
<line x1="262.4" y1="790.99" x2="262.4" y2="790.26" stroke="#e8242c" stroke-width="0.8"/>
<line x1="260.36" y1="790.26" x2="264.44" y2="790.26" stroke="#e8242c" stroke-width="0.8"/>
<rect x="275.2" y="796.13" width="6.4" height="8.07" fill="#231f20"/>
<line x1="278.4" y1="796.13" x2="278.4" y2="795.39" stroke="#231f20" stroke-width="0.8"/>
<line x1="276.48" y1="795.39" x2="280.32" y2="795.39" stroke="#231f20" stroke-width="0.8"/>
<rect x="284.7" y="787.69" width="6.6" height="16.51" fill="#e8242c"/>
<line x1="288" y1="787.69" x2="288" y2="787.32" stroke="#e8242c" stroke-width="0.8"/>
<line x1="286.02" y1="787.32" x2="289.98" y2="787.32" stroke="#e8242c" stroke-width="0.8"/>
<line x1="221.5" y1="745" x2="221.5" y2="804.6" stroke="#000" stroke-width="0.8"/>
<line x1="221.1" y1="804.2" x2="294.6" y2="804.2" stroke="#000" stroke-width="0.8"/>
<line x1="219.5" y1="804.2" x2="221.5" y2="804.2" stroke="#000" stroke-width="0.8"/>
<text x="219" y="805.88" font-size="4.8" text-anchor="end">0</text>
<line x1="219.5" y1="789.53" x2="221.5" y2="789.53" stroke="#000" stroke-width="0.8"/>
<text x="219" y="791.21" font-size="4.8" text-anchor="end">20</text>
<line x1="219.5" y1="774.85" x2="221.5" y2="774.85" stroke="#000" stroke-width="0.8"/>
<text x="219" y="776.53" font-size="4.8" text-anchor="end">40</text>
<line x1="219.5" y1="760.17" x2="221.5" y2="760.17" stroke="#000" stroke-width="0.8"/>
<text x="219" y="761.85" font-size="4.8" text-anchor="end">60</text>
<line x1="219.5" y1="745.5" x2="221.5" y2="745.5" stroke="#000" stroke-width="0.8"/>
<text x="219" y="747.18" font-size="4.8" text-anchor="end">80</text>
<line x1="227.6" y1="754" x2="237.6" y2="754" stroke="#000" stroke-width="0.8"/>
<text x="232.6" y="755.7" font-size="7.8" text-anchor="middle">**</text>
<line x1="253" y1="783.5" x2="263.2" y2="783.5" stroke="#000" stroke-width="0.8"/>
<text x="258.1" y="785.2" font-size="7.8" text-anchor="middle">**</text>
<line x1="278.2" y1="785" x2="288.2" y2="785" stroke="#000" stroke-width="0.8"/>
<text x="283.2" y="786.7" font-size="7.8" text-anchor="middle">***</text>
<text x="257.6" y="737.1" font-size="6.9" text-anchor="middle">MCF7</text>
<text x="232.6" y="812.4" font-size="5.2" text-anchor="middle" font-weight="400">G0/G1</text>
<line x1="232.6" y1="804.2" x2="232.6" y2="806" stroke="#000" stroke-width="0.7"/>
<text x="257.8" y="812.4" font-size="5.2" text-anchor="middle" font-weight="400">S</text>
<line x1="257.8" y1="804.2" x2="257.8" y2="806" stroke="#000" stroke-width="0.7"/>
<text x="283.1" y="812.4" font-size="5.2" text-anchor="middle" font-weight="400">G2/M</text>
<line x1="283.1" y1="804.2" x2="283.1" y2="806" stroke="#000" stroke-width="0.7"/>
<rect x="267.8" y="747.3" width="6.2" height="2.6" fill="#231f20"/>
<text x="277.8" y="750.3" font-size="4.8" font-weight="400">Vector</text>
<rect x="267.8" y="752.9" width="6.2" height="2.6" fill="#e8242c"/>
<text x="277.8" y="755.9" font-size="4.8" font-weight="400">TRIM25</text>
<text x="207" y="775" font-size="6.4" text-anchor="middle" transform="rotate(-90 207 775)">Cell number(%)</text>
<rect x="607" y="650.59" width="4.1" height="31.41" fill="#231f20"/>
<line x1="609.05" y1="650.59" x2="609.05" y2="650.04" stroke="#231f20" stroke-width="0.8"/>
<line x1="607.82" y1="650.04" x2="610.28" y2="650.04" stroke="#231f20" stroke-width="0.8"/>
<rect x="613.8" y="648.39" width="4.3" height="33.61" fill="#1fae4f"/>
<line x1="615.95" y1="648.39" x2="615.95" y2="647.01" stroke="#1fae4f" stroke-width="0.8"/>
<line x1="614.66" y1="647.01" x2="617.24" y2="647.01" stroke="#1fae4f" stroke-width="0.8"/>
<rect x="620.6" y="646.74" width="4.4" height="35.26" fill="#2456ab"/>
<line x1="622.8" y1="646.74" x2="622.8" y2="642.88" stroke="#2456ab" stroke-width="0.8"/>
<line x1="621.48" y1="642.88" x2="624.12" y2="642.88" stroke="#2456ab" stroke-width="0.8"/>
<rect x="632.3" y="664.37" width="4.3" height="17.63" fill="#231f20"/>
<line x1="634.45" y1="664.37" x2="634.45" y2="662.72" stroke="#231f20" stroke-width="0.8"/>
<line x1="633.16" y1="662.72" x2="635.74" y2="662.72" stroke="#231f20" stroke-width="0.8"/>
<rect x="639.1" y="663.27" width="4.5" height="18.73" fill="#1fae4f"/>
<line x1="641.35" y1="663.27" x2="641.35" y2="662.16" stroke="#1fae4f" stroke-width="0.8"/>
<line x1="640" y1="662.16" x2="642.7" y2="662.16" stroke="#1fae4f" stroke-width="0.8"/>
<rect x="646.1" y="664.92" width="4.4" height="17.08" fill="#2456ab"/>
<line x1="648.3" y1="664.92" x2="648.3" y2="661.61" stroke="#2456ab" stroke-width="0.8"/>
<line x1="646.98" y1="661.61" x2="649.62" y2="661.61" stroke="#2456ab" stroke-width="0.8"/>
<rect x="657.8" y="676.49" width="4" height="5.51" fill="#231f20"/>
<line x1="659.8" y1="676.49" x2="659.8" y2="675.94" stroke="#231f20" stroke-width="0.8"/>
<line x1="658.6" y1="675.94" x2="661" y2="675.94" stroke="#231f20" stroke-width="0.8"/>
<rect x="664.6" y="679.8" width="4.4" height="2.2" fill="#1fae4f"/>
<line x1="666.8" y1="679.8" x2="666.8" y2="679.52" stroke="#1fae4f" stroke-width="0.8"/>
<line x1="665.48" y1="679.52" x2="668.12" y2="679.52" stroke="#1fae4f" stroke-width="0.8"/>
<rect x="671.6" y="679.8" width="4.4" height="2.2" fill="#2456ab"/>
<line x1="673.8" y1="679.8" x2="673.8" y2="679.52" stroke="#2456ab" stroke-width="0.8"/>
<line x1="672.48" y1="679.52" x2="675.12" y2="679.52" stroke="#2456ab" stroke-width="0.8"/>
<line x1="604.1" y1="626.4" x2="604.1" y2="682.4" stroke="#000" stroke-width="0.8"/>
<line x1="603.7" y1="682" x2="678.4" y2="682" stroke="#000" stroke-width="0.8"/>
<line x1="602.1" y1="682" x2="604.1" y2="682" stroke="#000" stroke-width="0.8"/>
<text x="601.6" y="683.68" font-size="4.8" text-anchor="end">0</text>
<line x1="602.1" y1="670.98" x2="604.1" y2="670.98" stroke="#000" stroke-width="0.8"/>
<text x="601.6" y="672.66" font-size="4.8" text-anchor="end">20</text>
<line x1="602.1" y1="659.96" x2="604.1" y2="659.96" stroke="#000" stroke-width="0.8"/>
<text x="601.6" y="661.64" font-size="4.8" text-anchor="end">40</text>
<line x1="602.1" y1="648.94" x2="604.1" y2="648.94" stroke="#000" stroke-width="0.8"/>
<text x="601.6" y="650.62" font-size="4.8" text-anchor="end">60</text>
<line x1="602.1" y1="637.92" x2="604.1" y2="637.92" stroke="#000" stroke-width="0.8"/>
<text x="601.6" y="639.6" font-size="4.8" text-anchor="end">80</text>
<line x1="602.1" y1="626.9" x2="604.1" y2="626.9" stroke="#000" stroke-width="0.8"/>
<text x="601.6" y="628.58" font-size="4.8" text-anchor="end">100</text>
<line x1="609.2" y1="638.3" x2="622.8" y2="638.3" stroke="#000" stroke-width="0.8"/>
<text x="616" y="637.7" font-size="5.7" text-anchor="middle" font-weight="400">ns</text>
<line x1="609.2" y1="644.1" x2="616" y2="644.1" stroke="#000" stroke-width="0.8"/>
<text x="612.6" y="643.5" font-size="5.7" text-anchor="middle" font-weight="400">ns</text>
<line x1="634.4" y1="654.6" x2="647.8" y2="654.6" stroke="#000" stroke-width="0.8"/>
<text x="641.1" y="654" font-size="5.7" text-anchor="middle" font-weight="400">ns</text>
<line x1="634.4" y1="660.1" x2="641.3" y2="660.1" stroke="#000" stroke-width="0.8"/>
<text x="637.85" y="659.5" font-size="5.7" text-anchor="middle" font-weight="400">ns</text>
<line x1="660" y1="668.2" x2="673.8" y2="668.2" stroke="#000" stroke-width="0.8"/>
<text x="666.9" y="669.9" font-size="7.8" text-anchor="middle">**</text>
<line x1="660" y1="674" x2="667" y2="674" stroke="#000" stroke-width="0.8"/>
<text x="663.5" y="675.7" font-size="7.8" text-anchor="middle">**</text>
<text x="641.3" y="617.2" font-size="7.6" text-anchor="middle">MDA-MB-231</text>
<text x="615.5" y="690.6" font-size="5.2" text-anchor="middle" font-weight="400">G0/G1</text>
<line x1="615.5" y1="682" x2="615.5" y2="683.8" stroke="#000" stroke-width="0.7"/>
<text x="641" y="690.6" font-size="5.2" text-anchor="middle" font-weight="400">S</text>
<line x1="641" y1="682" x2="641" y2="683.8" stroke="#000" stroke-width="0.7"/>
<text x="666.5" y="690.6" font-size="5.2" text-anchor="middle" font-weight="400">G2/M</text>
<line x1="666.5" y1="682" x2="666.5" y2="683.8" stroke="#000" stroke-width="0.7"/>
<rect x="646.1" y="626.6" width="6.9" height="3" fill="#231f20"/>
<text x="657" y="629.8" font-size="5.3" font-weight="400">siNC</text>
<rect x="646.1" y="632.1" width="6.9" height="3" fill="#1fae4f"/>
<text x="657" y="635.3" font-size="5.3" font-weight="400">siTRIM25#1</text>
<rect x="646.1" y="637.5" width="6.9" height="3" fill="#2456ab"/>
<text x="657" y="640.7" font-size="5.3" font-weight="400">siTRIM25#2</text>
<text x="588.5" y="654" font-size="6.9" text-anchor="middle" transform="rotate(-90 588.5 654)">Cell number(%)</text>
<rect x="606.9" y="769.91" width="4" height="35.09" fill="#231f20"/>
<line x1="608.9" y1="769.91" x2="608.9" y2="769.35" stroke="#231f20" stroke-width="0.8"/>
<line x1="607.7" y1="769.35" x2="610.1" y2="769.35" stroke="#231f20" stroke-width="0.8"/>
<rect x="613.6" y="768.24" width="4.5" height="36.76" fill="#1fae4f"/>
<line x1="615.85" y1="768.24" x2="615.85" y2="766.29" stroke="#1fae4f" stroke-width="0.8"/>
<line x1="614.5" y1="766.29" x2="617.2" y2="766.29" stroke="#1fae4f" stroke-width="0.8"/>
<rect x="620.6" y="766.57" width="4.5" height="38.43" fill="#2456ab"/>
<line x1="622.85" y1="766.57" x2="622.85" y2="766.29" stroke="#2456ab" stroke-width="0.8"/>
<line x1="621.5" y1="766.29" x2="624.2" y2="766.29" stroke="#2456ab" stroke-width="0.8"/>
<rect x="632.3" y="793.86" width="4.3" height="11.14" fill="#231f20"/>
<line x1="634.45" y1="793.86" x2="634.45" y2="791.63" stroke="#231f20" stroke-width="0.8"/>
<line x1="633.16" y1="791.63" x2="635.74" y2="791.63" stroke="#231f20" stroke-width="0.8"/>
<rect x="639.3" y="790.52" width="4.5" height="14.48" fill="#1fae4f"/>
<line x1="641.55" y1="790.52" x2="641.55" y2="788.29" stroke="#1fae4f" stroke-width="0.8"/>
<line x1="640.2" y1="788.29" x2="642.9" y2="788.29" stroke="#1fae4f" stroke-width="0.8"/>
<rect x="646" y="791.63" width="4.5" height="13.37" fill="#2456ab"/>
<line x1="648.25" y1="791.63" x2="648.25" y2="791.08" stroke="#2456ab" stroke-width="0.8"/>
<line x1="646.9" y1="791.08" x2="649.6" y2="791.08" stroke="#2456ab" stroke-width="0.8"/>
<rect x="657.5" y="796.09" width="4.5" height="8.91" fill="#231f20"/>
<line x1="659.75" y1="796.09" x2="659.75" y2="794.42" stroke="#231f20" stroke-width="0.8"/>
<line x1="658.4" y1="794.42" x2="661.1" y2="794.42" stroke="#231f20" stroke-width="0.8"/>
<rect x="664.2" y="801.66" width="4.5" height="3.34" fill="#1fae4f"/>
<line x1="666.45" y1="801.66" x2="666.45" y2="800.82" stroke="#1fae4f" stroke-width="0.8"/>
<line x1="665.1" y1="800.82" x2="667.8" y2="800.82" stroke="#1fae4f" stroke-width="0.8"/>
<rect x="671.1" y="802.22" width="4.5" height="2.78" fill="#2456ab"/>
<line x1="673.35" y1="802.22" x2="673.35" y2="801.66" stroke="#2456ab" stroke-width="0.8"/>
<line x1="672" y1="801.66" x2="674.7" y2="801.66" stroke="#2456ab" stroke-width="0.8"/>
<line x1="604.2" y1="748.8" x2="604.2" y2="805.4" stroke="#000" stroke-width="0.8"/>
<line x1="603.8" y1="805" x2="678.9" y2="805" stroke="#000" stroke-width="0.8"/>
<line x1="602.2" y1="805" x2="604.2" y2="805" stroke="#000" stroke-width="0.8"/>
<text x="601.7" y="806.68" font-size="4.8" text-anchor="end">0</text>
<line x1="602.2" y1="793.86" x2="604.2" y2="793.86" stroke="#000" stroke-width="0.8"/>
<text x="601.7" y="795.54" font-size="4.8" text-anchor="end">20</text>
<line x1="602.2" y1="782.72" x2="604.2" y2="782.72" stroke="#000" stroke-width="0.8"/>
<text x="601.7" y="784.4" font-size="4.8" text-anchor="end">40</text>
<line x1="602.2" y1="771.58" x2="604.2" y2="771.58" stroke="#000" stroke-width="0.8"/>
<text x="601.7" y="773.26" font-size="4.8" text-anchor="end">60</text>
<line x1="602.2" y1="760.44" x2="604.2" y2="760.44" stroke="#000" stroke-width="0.8"/>
<text x="601.7" y="762.12" font-size="4.8" text-anchor="end">80</text>
<line x1="602.2" y1="749.3" x2="604.2" y2="749.3" stroke="#000" stroke-width="0.8"/>
<text x="601.7" y="750.98" font-size="4.8" text-anchor="end">100</text>
<line x1="608.7" y1="759" x2="622.9" y2="759" stroke="#000" stroke-width="0.8"/>
<text x="615.8" y="760.7" font-size="7.8" text-anchor="middle">***</text>
<line x1="608.7" y1="765" x2="616.1" y2="765" stroke="#000" stroke-width="0.8"/>
<text x="612.4" y="764.4" font-size="5.7" text-anchor="middle" font-weight="400">ns</text>
<line x1="634" y1="781.4" x2="647.5" y2="781.4" stroke="#000" stroke-width="0.8"/>
<text x="640.75" y="780.8" font-size="5.7" text-anchor="middle" font-weight="400">ns</text>
<line x1="634" y1="787.4" x2="640.8" y2="787.4" stroke="#000" stroke-width="0.8"/>
<text x="637.4" y="786.8" font-size="5.7" text-anchor="middle" font-weight="400">ns</text>
<line x1="659.5" y1="786.9" x2="673.3" y2="786.9" stroke="#000" stroke-width="0.8"/>
<text x="666.4" y="788.6" font-size="7.8" text-anchor="middle">**</text>
<line x1="659.5" y1="793.4" x2="666.9" y2="793.4" stroke="#000" stroke-width="0.8"/>
<text x="663.2" y="795.1" font-size="7.8" text-anchor="middle">**</text>
<text x="641.1" y="740" font-size="7.4" text-anchor="middle">MCF7</text>
<text x="615.4" y="813.6" font-size="5.2" text-anchor="middle" font-weight="400">G0/G1</text>
<line x1="615.4" y1="805" x2="615.4" y2="806.8" stroke="#000" stroke-width="0.7"/>
<text x="640.8" y="813.6" font-size="5.2" text-anchor="middle" font-weight="400">S</text>
<line x1="640.8" y1="805" x2="640.8" y2="806.8" stroke="#000" stroke-width="0.7"/>
<text x="666.2" y="813.6" font-size="5.2" text-anchor="middle" font-weight="400">G2/M</text>
<line x1="666.2" y1="805" x2="666.2" y2="806.8" stroke="#000" stroke-width="0.7"/>
<rect x="646" y="749.7" width="6.7" height="3" fill="#231f20"/>
<text x="656.5" y="752.9" font-size="5.3" font-weight="400">siNC</text>
<rect x="646" y="755.3" width="6.7" height="3" fill="#1fae4f"/>
<text x="656.5" y="758.5" font-size="5.3" font-weight="400">siTRIM25#1</text>
<rect x="646" y="760.5" width="6.7" height="3" fill="#2456ab"/>
<text x="656.5" y="763.7" font-size="5.3" font-weight="400">siTRIM25#2</text>
<text x="588.7" y="777" font-size="6.9" text-anchor="middle" transform="rotate(-90 588.7 777)">Cell number(%)</text>
<text x="79" y="594.4" font-size="9">MDA-MB-231</text>
<text x="53.6" y="608" font-size="6.3">Vector</text>
<text x="143" y="608.4" font-size="6.2">TRIM25</text>
<line x1="19" y1="617" x2="19" y2="695.6" stroke="#000" stroke-width="0.9"/>
<line x1="19" y1="695.6" x2="193" y2="695.6" stroke="#000" stroke-width="0.9"/>
<path d="M19 615 17.4 619 20.6 619" fill="#000" stroke="none" stroke-width="1"/>
<path d="M195 695.6 191 694 191 697.2" fill="#000" stroke="none" stroke-width="1"/>
<text x="15.2" y="635" font-size="5.7" text-anchor="middle" transform="rotate(-90 15.2 635)">Cell number</text>
<text x="154.4" y="703" font-size="5.7">DNA content</text>
<line x1="27.4" y1="620" x2="27.4" y2="687.6" stroke="#333" stroke-width="0.6"/>
<line x1="27.4" y1="687.6" x2="105" y2="687.6" stroke="#333" stroke-width="0.6"/>
<path d="M26 622h1.4M26.6 624.2h0.8M26.6 626.5h0.8M26.6 628.8h0.8M26.6 631h0.8M26 633.2h1.4M26.6 635.5h0.8M26.6 637.8h0.8M26.6 640h0.8M26.6 642.2h0.8M26 644.5h1.4M26.6 646.8h0.8M26.6 649h0.8M26.6 651.2h0.8M26.6 653.5h0.8M26 655.8h1.4M26.6 658h0.8M26.6 660.2h0.8M26.6 662.5h0.8M26.6 664.8h0.8M26 667h1.4M26.6 669.2h0.8M26.6 671.5h0.8M26.6 673.8h0.8M26.6 676h0.8M26 678.2h1.4M26.6 680.5h0.8M26.6 682.8h0.8M26.6 685h0.8M27.4 687.6v1.4M29.3 687.6v0.8M31.3 687.6v0.8M33.2 687.6v0.8M35.2 687.6v0.8M37.1 687.6v1.4M39 687.6v0.8M41 687.6v0.8M42.9 687.6v0.8M44.9 687.6v0.8M46.8 687.6v1.4M48.7 687.6v0.8M50.7 687.6v0.8M52.6 687.6v0.8M54.6 687.6v0.8M56.5 687.6v1.4M58.4 687.6v0.8M60.4 687.6v0.8M62.3 687.6v0.8M64.3 687.6v0.8M66.2 687.6v1.4M68.1 687.6v0.8M70.1 687.6v0.8M72 687.6v0.8M74 687.6v0.8M75.9 687.6v1.4M77.8 687.6v0.8M79.8 687.6v0.8M81.7 687.6v0.8M83.7 687.6v0.8M85.6 687.6v1.4M87.5 687.6v0.8M89.5 687.6v0.8M91.4 687.6v0.8M93.4 687.6v0.8M95.3 687.6v1.4M97.2 687.6v0.8M99.2 687.6v0.8M101.1 687.6v0.8M103.1 687.6v0.8M105 687.6v1.4" stroke="#555" stroke-width="0.35"/>
<text x="27.4" y="692.2" font-size="2.4" text-anchor="middle" font-weight="400" fill="#666">0</text>
<text x="40.33" y="692.2" font-size="2.4" text-anchor="middle" font-weight="400" fill="#666">50</text>
<text x="53.27" y="692.2" font-size="2.4" text-anchor="middle" font-weight="400" fill="#666">100</text>
<text x="66.2" y="692.2" font-size="2.4" text-anchor="middle" font-weight="400" fill="#666">150</text>
<text x="79.13" y="692.2" font-size="2.4" text-anchor="middle" font-weight="400" fill="#666">200</text>
<text x="92.07" y="692.2" font-size="2.4" text-anchor="middle" font-weight="400" fill="#666">250</text>
<text x="105" y="692.2" font-size="2.4" text-anchor="middle" font-weight="400" fill="#666">300</text>
<text x="66.2" y="695.2" font-size="2.6" text-anchor="middle" font-weight="400" fill="#555">Channels (PE-A)</text>
<text x="25.4" y="676.31" font-size="2.4" text-anchor="middle" font-weight="400" fill="#666" transform="rotate(-90 25.4 676.31)">40</text>
<text x="25.4" y="664.02" font-size="2.4" text-anchor="middle" font-weight="400" fill="#666" transform="rotate(-90 25.4 664.02)">80</text>
<text x="25.4" y="651.73" font-size="2.4" text-anchor="middle" font-weight="400" fill="#666" transform="rotate(-90 25.4 651.73)">120</text>
<text x="25.4" y="639.44" font-size="2.4" text-anchor="middle" font-weight="400" fill="#666" transform="rotate(-90 25.4 639.44)">160</text>
<text x="25.4" y="627.15" font-size="2.4" text-anchor="middle" font-weight="400" fill="#666" transform="rotate(-90 25.4 627.15)">200</text>
<text x="22.4" y="653.8" font-size="2.6" text-anchor="middle" font-weight="400" fill="#555" transform="rotate(-90 22.4 653.8)">Number</text>
<path d="M42.9 687.6 42.9 687.5 43.4 687.5 43.9 687.5 44.4 687.5 44.9 687.4 45.4 687.3 45.9 687.2 46.4 687.1 46.9 686.9 47.4 686.7 47.9 686.4 48.4 686.1 48.9 685.7 49.4 685.2 49.9 684.7 50.4 684.2 50.9 683.8 51.4 683.4 51.9 683 52.4 682.7 52.9 682.5 53.4 682.3 53.9 682.2 54.4 682.1 54.9 682.1 55.4 682.1 55.9 682 56.4 682 56.9 682 57.4 682.1 57.9 682.1 58.4 682.1 58.9 682.1 59.4 682.1 59.9 682.2 60.4 682.2 60.9 682.2 61.4 682.2 61.9 682.3 62.4 682.3 62.9 682.3 63.4 682.4 63.9 682.4 64.4 682.4 64.9 682.4 65.4 682.5 65.9 682.5 66.4 682.5 66.9 682.6 67.4 682.6 67.9 682.6 68.4 682.6 68.9 682.7 69.4 682.7 69.9 682.7 70.4 682.7 70.9 682.8 71.4 682.8 71.9 682.8 72.4 682.9 72.9 682.9 73.4 682.9 73.9 683 74.4 683 74.9 683 75.4 683.1 75.9 683.1 76.4 683.2 76.9 683.3 77.4 683.3 77.9 683.4 78.4 683.6 78.9 683.7 79.4 683.9 79.9 684.1 80.4 684.4 80.9 684.7 81.4 685.1 81.9 685.4 82.4 685.8 82.9 686.1 83.4 686.4 83.9 686.7 84.4 686.9 84.9 687.1 85.4 687.2 85.9 687.3 86.4 687.4 86.9 687.4 87.4 687.5 87.9 687.5 88.4 687.5 88.4 687.6" fill="#dcdcdc" stroke="none" stroke-width="1"/>
<path d="M40.9 687.6 40.9 687.5 41.4 687.4 41.9 687.3 42.4 687.1 42.9 686.8 43.4 686.3 43.9 685.5 44.4 684.3 44.9 682.7 45.4 680.5 45.9 677.6 46.4 673.9 46.9 669.4 47.4 664.2 47.9 658.3 48.4 652.1 48.9 645.8 49.4 639.8 49.9 634.6 50.4 630.5 50.9 627.9 51.4 627 51.9 627.9 52.4 630.5 52.9 634.6 53.4 639.8 53.9 645.8 54.4 652.1 54.9 658.3 55.4 664.2 55.9 669.4 56.4 673.9 56.9 677.6 57.4 680.5 57.9 682.7 58.4 684.3 58.9 685.5 59.4 686.3 59.9 686.8 60.4 687.1 60.9 687.3 61.4 687.4 61.9 687.5 61.9 687.6" fill="#ee6a4f" stroke="none" stroke-width="1"/>
<path d="M59.4 687.6 59.4 687.5 59.9 687.5 60.4 687.5 60.9 687.4 61.4 687.4 61.9 687.3 62.4 687.3 62.9 687.2 63.4 687.1 63.9 686.9 64.4 686.8 64.9 686.6 65.4 686.4 65.9 686.1 66.4 685.9 66.9 685.6 67.4 685.3 67.9 684.9 68.4 684.5 68.9 684.2 69.4 683.8 69.9 683.4 70.4 683 70.9 682.6 71.4 682.2 71.9 681.9 72.4 681.6 72.9 681.4 73.4 681.2 73.9 681.1 74.4 681 74.9 681 75.4 681.1 75.9 681.2 76.4 681.4 76.9 681.7 77.4 682 77.9 682.3 78.4 682.7 78.9 683 79.4 683.4 79.9 683.8 80.4 684.2 80.9 684.6 81.4 685 81.9 685.3 82.4 685.6 82.9 685.9 83.4 686.2 83.9 686.4 84.4 686.6 84.9 686.8 85.4 687 85.9 687.1 86.4 687.2 86.9 687.3 87.4 687.4 87.9 687.4 88.4 687.5 88.9 687.5 89.4 687.5 89.9 687.5 89.9 687.6" fill="#ee6a4f" stroke="none" stroke-width="1"/>
<path d="M42.9 687.6 42.9 687.5 43.4 687.5 43.9 687.5 44.4 687.5 44.9 687.4 45.4 687.3 45.9 687.2 46.4 687.1 46.9 686.9 47.4 686.7 47.9 686.4 48.4 686.1 48.9 685.7 49.4 685.2 49.9 684.7 50.4 684.2 50.9 683.8 51.4 683.4 51.9 683 52.4 682.7 52.9 682.5 53.4 682.3 53.9 682.2 54.4 682.1 54.9 682.1 55.4 682.1 55.9 682 56.4 682 56.9 682 57.4 682.1 57.9 682.1 58.4 682.1 58.9 682.1 59.4 682.1 59.9 682.2 60.4 682.2 60.9 682.2 61.4 682.2 61.9 682.3 62.4 682.3 62.9 682.3 63.4 682.4 63.9 682.4 64.4 682.4 64.9 682.4 65.4 682.5 65.9 682.5 66.4 682.5 66.9 682.6 67.4 682.6 67.9 682.6 68.4 682.6 68.9 682.7 69.4 682.7 69.9 682.7 70.4 682.7 70.9 682.8 71.4 682.8 71.9 682.8 72.4 682.9 72.9 682.9 73.4 682.9 73.9 683 74.4 683 74.9 683 75.4 683.1 75.9 683.1 76.4 683.2 76.9 683.3 77.4 683.3 77.9 683.4 78.4 683.6 78.9 683.7 79.4 683.9 79.9 684.1 80.4 684.4 80.9 684.7 81.4 685.1 81.9 685.4 82.4 685.8 82.9 686.1 83.4 686.4 83.9 686.7 84.4 686.9 84.9 687.1 85.4 687.2 85.9 687.3 86.4 687.4 86.9 687.4 87.4 687.5 87.9 687.5 88.4 687.5 88.4 687.6" fill="url(#hatch)" stroke="none" stroke-width="1"/>
<path d="M27.9 687.6 28.4 687.6 28.9 687.6 29.4 687.6 29.9 687.6 30.4 687.6 30.9 687.6 31.4 687.6 31.9 687.6 32.4 687.6 32.9 687.6 33.4 687.6 33.9 687.6 34.4 687.6 34.9 687.6 35.4 687.6 35.9 687.6 36.4 687.6 36.9 687.6 37.4 687.6 37.9 687.6 38.4 687.6 38.9 687.6 39.4 687.6 39.9 687.6 40.4 687.5 40.9 687.5 41.4 687.4 41.9 687.3 42.4 687.1 42.9 686.7 43.4 686.2 43.9 685.4 44.4 684.2 44.9 682.5 45.4 680.2 45.9 677.2 46.4 673.4 46.9 668.7 47.4 663.2 47.9 656.7 48.4 650 48.9 642.8 49.4 636.3 49.9 629.9 50.4 625 50.9 621.7 51.4 620 51.9 620.6 52.4 622.8 52.9 627.1 53.4 632.4 53.9 638.7 54.4 645 54.9 651.7 55.4 658.4 55.9 663.3 56.4 667.4 56.9 671 57.4 674.2 57.9 676.5 58.4 678.7 58.9 679.5 59.4 680.4 59.9 681.3 60.4 682.1 60.9 681.7 61.4 681.2 61.9 682 62.4 681.6 62.9 681.8 63.4 682.2 63.9 682.2 64.4 681.5 64.9 681 65.4 681.5 65.9 681 66.4 681.3 66.9 680.6 67.4 680.5 67.9 679.6 68.4 678.8 68.9 678.7 69.4 677.9 69.9 678.1 70.4 678.3 70.9 677.7 71.4 677.8 71.9 677.6 72.4 677.1 72.9 676.5 73.4 676.6 73.9 676.8 74.4 675.9 74.9 676.1 75.4 675.5 75.9 675.3 76.4 675.9 76.9 676.3 77.4 676.6 77.9 676.9 78.4 677.3 78.9 677.9 79.4 678.4 79.9 678.6 80.4 679.5 80.9 680.4 81.4 680.9 81.9 682.1 82.4 683 82.9 682.9 83.4 683.6 83.9 684.1 84.4 685.2 84.9 685.5 85.4 685.6 85.9 685.7 86.4 685.9 86.9 686.1 87.4 686.2 87.9 686.4 88.4 686.5 88.9 686.6 89.4 686.7 89.9 686.8 90.4 686.9 90.9 687 91.4 687.1 91.9 687.2 92.4 687.2 92.9 687.3 93.4 687.4 93.9 687.4 94.4 687.4 94.9 687.5 95.4 687.5 95.9 687.5 96.4 687.5 96.9 687.6 97.4 687.6 97.9 687.6 98.4 687.6 98.9 687.6 99.4 687.6 99.9 687.6 100.4 687.6 100.9 687.6 101.4 687.6 101.9 687.6 102.4 687.6 102.9 687.6 103.4 687.6 103.9 687.6 104.4 687.6" fill="none" stroke="#111" stroke-width="0.55"/>
<line x1="113.6" y1="619" x2="113.6" y2="687.6" stroke="#333" stroke-width="0.6"/>
<line x1="113.6" y1="687.6" x2="191" y2="687.6" stroke="#333" stroke-width="0.6"/>
<path d="M112.2 621h1.4M112.8 623.2h0.8M112.8 625.5h0.8M112.8 627.8h0.8M112.8 630h0.8M112.2 632.2h1.4M112.8 634.5h0.8M112.8 636.8h0.8M112.8 639h0.8M112.8 641.2h0.8M112.2 643.5h1.4M112.8 645.8h0.8M112.8 648h0.8M112.8 650.2h0.8M112.8 652.5h0.8M112.2 654.8h1.4M112.8 657h0.8M112.8 659.2h0.8M112.8 661.5h0.8M112.8 663.8h0.8M112.2 666h1.4M112.8 668.2h0.8M112.8 670.5h0.8M112.8 672.8h0.8M112.8 675h0.8M112.2 677.2h1.4M112.8 679.5h0.8M112.8 681.8h0.8M112.8 684h0.8M112.8 686.2h0.8M113.6 687.6v1.4M115.5 687.6v0.8M117.5 687.6v0.8M119.4 687.6v0.8M121.3 687.6v0.8M123.3 687.6v1.4M125.2 687.6v0.8M127.1 687.6v0.8M129.1 687.6v0.8M131 687.6v0.8M133 687.6v1.4M134.9 687.6v0.8M136.8 687.6v0.8M138.8 687.6v0.8M140.7 687.6v0.8M142.6 687.6v1.4M144.6 687.6v0.8M146.5 687.6v0.8M148.4 687.6v0.8M150.4 687.6v0.8M152.3 687.6v1.4M154.2 687.6v0.8M156.2 687.6v0.8M158.1 687.6v0.8M160 687.6v0.8M162 687.6v1.4M163.9 687.6v0.8M165.8 687.6v0.8M167.8 687.6v0.8M169.7 687.6v0.8M171.7 687.6v1.4M173.6 687.6v0.8M175.5 687.6v0.8M177.5 687.6v0.8M179.4 687.6v0.8M181.3 687.6v1.4M183.3 687.6v0.8M185.2 687.6v0.8M187.1 687.6v0.8M189.1 687.6v0.8M191 687.6v1.4" stroke="#555" stroke-width="0.35"/>
<text x="113.6" y="692.2" font-size="2.4" text-anchor="middle" font-weight="400" fill="#666">0</text>
<text x="126.5" y="692.2" font-size="2.4" text-anchor="middle" font-weight="400" fill="#666">50</text>
<text x="139.4" y="692.2" font-size="2.4" text-anchor="middle" font-weight="400" fill="#666">100</text>
<text x="152.3" y="692.2" font-size="2.4" text-anchor="middle" font-weight="400" fill="#666">150</text>
<text x="165.2" y="692.2" font-size="2.4" text-anchor="middle" font-weight="400" fill="#666">200</text>
<text x="178.1" y="692.2" font-size="2.4" text-anchor="middle" font-weight="400" fill="#666">250</text>
<text x="191" y="692.2" font-size="2.4" text-anchor="middle" font-weight="400" fill="#666">300</text>
<text x="152.3" y="695.2" font-size="2.6" text-anchor="middle" font-weight="400" fill="#555">Channels (PE-A)</text>
<text x="111.6" y="676.13" font-size="2.4" text-anchor="middle" font-weight="400" fill="#666" transform="rotate(-90 111.6 676.13)">40</text>
<text x="111.6" y="663.65" font-size="2.4" text-anchor="middle" font-weight="400" fill="#666" transform="rotate(-90 111.6 663.65)">80</text>
<text x="111.6" y="651.18" font-size="2.4" text-anchor="middle" font-weight="400" fill="#666" transform="rotate(-90 111.6 651.18)">120</text>
<text x="111.6" y="638.71" font-size="2.4" text-anchor="middle" font-weight="400" fill="#666" transform="rotate(-90 111.6 638.71)">160</text>
<text x="111.6" y="626.24" font-size="2.4" text-anchor="middle" font-weight="400" fill="#666" transform="rotate(-90 111.6 626.24)">200</text>
<text x="108.6" y="653.3" font-size="2.6" text-anchor="middle" font-weight="400" fill="#555" transform="rotate(-90 108.6 653.3)">Number</text>
<path d="M132.1 687.6 132.1 687.5 132.6 687.5 133.1 687.5 133.6 687.5 134.1 687.4 134.6 687.3 135.1 687.2 135.6 687.1 136.1 686.9 136.6 686.7 137.1 686.4 137.6 686 138.1 685.7 138.6 685.2 139.1 684.8 139.6 684.3 140.1 683.9 140.6 683.6 141.1 683.3 141.6 683 142.1 682.9 142.6 682.7 143.1 682.6 143.6 682.6 144.1 682.5 144.6 682.5 145.1 682.5 145.6 682.5 146.1 682.5 146.6 682.5 147.1 682.5 147.6 682.5 148.1 682.6 148.6 682.6 149.1 682.6 149.6 682.6 150.1 682.7 150.6 682.7 151.1 682.7 151.6 682.7 152.1 682.8 152.6 682.8 153.1 682.8 153.6 682.8 154.1 682.9 154.6 682.9 155.1 682.9 155.6 682.9 156.1 683 156.6 683 157.1 683 157.6 683 158.1 683.1 158.6 683.1 159.1 683.1 159.6 683.1 160.1 683.2 160.6 683.2 161.1 683.2 161.6 683.2 162.1 683.3 162.6 683.3 163.1 683.3 163.6 683.3 164.1 683.4 164.6 683.4 165.1 683.4 165.6 683.5 166.1 683.5 166.6 683.6 167.1 683.7 167.6 683.7 168.1 683.8 168.6 684 169.1 684.1 169.6 684.3 170.1 684.5 170.6 684.8 171.1 685.1 171.6 685.4 172.1 685.7 172.6 686.1 173.1 686.4 173.6 686.6 174.1 686.8 174.6 687 175.1 687.2 175.6 687.3 176.1 687.4 176.6 687.4 177.1 687.5 177.6 687.5 178.1 687.5 178.1 687.6" fill="#dcdcdc" stroke="none" stroke-width="1"/>
<path d="M128.1 687.6 128.1 687.5 128.6 687.5 129.1 687.4 129.6 687.3 130.1 687.1 130.6 686.7 131.1 686.2 131.6 685.5 132.1 684.5 132.6 683 133.1 681.1 133.6 678.6 134.1 675.5 134.6 671.6 135.1 667.2 135.6 662.1 136.1 656.6 136.6 650.9 137.1 645.3 137.6 640 138.1 635.5 138.6 632 139.1 629.8 139.6 629 140.1 629.8 140.6 632 141.1 635.5 141.6 640 142.1 645.3 142.6 650.9 143.1 656.6 143.6 662.1 144.1 667.2 144.6 671.6 145.1 675.5 145.6 678.6 146.1 681.1 146.6 683 147.1 684.5 147.6 685.5 148.1 686.2 148.6 686.7 149.1 687.1 149.6 687.3 150.1 687.4 150.6 687.5 151.1 687.5 151.1 687.6" fill="#ee6a4f" stroke="none" stroke-width="1"/>
<path d="M149.6 687.6 149.6 687.5 150.1 687.5 150.6 687.5 151.1 687.4 151.6 687.4 152.1 687.3 152.6 687.3 153.1 687.2 153.6 687 154.1 686.9 154.6 686.7 155.1 686.5 155.6 686.3 156.1 686 156.6 685.7 157.1 685.4 157.6 685 158.1 684.6 158.6 684.1 159.1 683.6 159.6 683.1 160.1 682.6 160.6 682 161.1 681.4 161.6 680.9 162.1 680.4 162.6 679.8 163.1 679.4 163.6 679 164.1 678.6 164.6 678.3 165.1 678.1 165.6 678 166.1 678 166.6 678.1 167.1 678.2 167.6 678.4 168.1 678.8 168.6 679.1 169.1 679.6 169.6 680 170.1 680.6 170.6 681.1 171.1 681.7 171.6 682.2 172.1 682.8 172.6 683.3 173.1 683.8 173.6 684.3 174.1 684.7 174.6 685.2 175.1 685.5 175.6 685.9 176.1 686.1 176.6 686.4 177.1 686.6 177.6 686.8 178.1 687 178.6 687.1 179.1 687.2 179.6 687.3 180.1 687.4 180.6 687.4 181.1 687.5 181.6 687.5 182.1 687.5 182.6 687.5 182.6 687.6" fill="#ee6a4f" stroke="none" stroke-width="1"/>
<path d="M132.1 687.6 132.1 687.5 132.6 687.5 133.1 687.5 133.6 687.5 134.1 687.4 134.6 687.3 135.1 687.2 135.6 687.1 136.1 686.9 136.6 686.7 137.1 686.4 137.6 686 138.1 685.7 138.6 685.2 139.1 684.8 139.6 684.3 140.1 683.9 140.6 683.6 141.1 683.3 141.6 683 142.1 682.9 142.6 682.7 143.1 682.6 143.6 682.6 144.1 682.5 144.6 682.5 145.1 682.5 145.6 682.5 146.1 682.5 146.6 682.5 147.1 682.5 147.6 682.5 148.1 682.6 148.6 682.6 149.1 682.6 149.6 682.6 150.1 682.7 150.6 682.7 151.1 682.7 151.6 682.7 152.1 682.8 152.6 682.8 153.1 682.8 153.6 682.8 154.1 682.9 154.6 682.9 155.1 682.9 155.6 682.9 156.1 683 156.6 683 157.1 683 157.6 683 158.1 683.1 158.6 683.1 159.1 683.1 159.6 683.1 160.1 683.2 160.6 683.2 161.1 683.2 161.6 683.2 162.1 683.3 162.6 683.3 163.1 683.3 163.6 683.3 164.1 683.4 164.6 683.4 165.1 683.4 165.6 683.5 166.1 683.5 166.6 683.6 167.1 683.7 167.6 683.7 168.1 683.8 168.6 684 169.1 684.1 169.6 684.3 170.1 684.5 170.6 684.8 171.1 685.1 171.6 685.4 172.1 685.7 172.6 686.1 173.1 686.4 173.6 686.6 174.1 686.8 174.6 687 175.1 687.2 175.6 687.3 176.1 687.4 176.6 687.4 177.1 687.5 177.6 687.5 178.1 687.5 178.1 687.6" fill="url(#hatch)" stroke="none" stroke-width="1"/>
<path d="M114.1 687.6 114.6 687.6 115.1 687.6 115.6 687.6 116.1 687.6 116.6 687.6 117.1 687.6 117.6 687.6 118.1 687.6 118.6 687.6 119.1 687.6 119.6 687.6 120.1 687.6 120.6 687.6 121.1 687.6 121.6 687.6 122.1 687.6 122.6 687.6 123.1 687.6 123.6 687.6 124.1 687.6 124.6 687.6 125.1 687.6 125.6 687.6 126.1 687.6 126.6 687.6 127.1 687.6 127.6 687.6 128.1 687.5 128.6 687.5 129.1 687.4 129.6 687.3 130.1 687.1 130.6 686.7 131.1 686.2 131.6 685.5 132.1 684.4 132.6 682.9 133.1 681 133.6 678.4 134.1 675.2 134.6 671.3 135.1 666.7 135.6 661.4 136.1 655.6 136.6 649.4 137.1 642.9 137.6 637.3 138.1 632.1 138.6 627 139.1 624 139.6 622.4 140.1 622.9 140.6 625.3 141.1 628.4 141.6 633.9 142.1 639.6 142.6 645.9 143.1 651.4 143.6 657.3 144.1 662.4 144.6 666.4 145.1 670.5 145.6 673.5 146.1 675.5 146.6 678.1 147.1 680 147.6 681.1 148.1 681.3 148.6 681.6 149.1 682.3 149.6 682.6 150.1 683 150.6 682.9 151.1 683.3 151.6 682.7 152.1 682.1 152.6 681.7 153.1 681.6 153.6 681.3 154.1 682.1 154.6 682.3 155.1 681.4 155.6 681 156.1 681.1 156.6 680.4 157.1 680.2 157.6 679.7 158.1 679.8 158.6 679.8 159.1 679.3 159.6 679.2 160.1 678.5 160.6 677.2 161.1 677 161.6 677 162.1 676.8 162.6 676.3 163.1 675.1 163.6 674.7 164.1 674.5 164.6 674.5 165.1 673.4 165.6 673.4 166.1 673.7 166.6 674.1 167.1 674.5 167.6 674.7 168.1 674.5 168.6 675.2 169.1 676 169.6 676.3 170.1 677.1 170.6 677 171.1 678.4 171.6 679.1 172.1 679.5 172.6 680.6 173.1 680.8 173.6 681.8 174.1 682.9 174.6 683.6 175.1 684.6 175.6 684.9 176.1 685.4 176.6 685 177.1 684.9 177.6 685.6 178.1 685.8 178.6 686 179.1 686.2 179.6 686.3 180.1 686.5 180.6 686.6 181.1 686.7 181.6 686.8 182.1 686.9 182.6 687 183.1 687.1 183.6 687.2 184.1 687.3 184.6 687.3 185.1 687.4 185.6 687.4 186.1 687.5 186.6 687.5 187.1 687.5 187.6 687.5 188.1 687.5 188.6 687.6 189.1 687.6 189.6 687.6 190.1 687.6" fill="none" stroke="#111" stroke-width="0.55"/>
<text x="94.4" y="720" font-size="9">MCF7</text>
<text x="53.6" y="731.6" font-size="6.3">Vector</text>
<text x="143" y="732" font-size="6.2">TRIM25</text>
<line x1="19" y1="735" x2="19" y2="814" stroke="#000" stroke-width="0.9"/>
<line x1="19" y1="814" x2="193" y2="814" stroke="#000" stroke-width="0.9"/>
<path d="M19 733 17.4 737 20.6 737" fill="#000" stroke="none" stroke-width="1"/>
<path d="M195 814 191 812.4 191 815.6" fill="#000" stroke="none" stroke-width="1"/>
<text x="15.2" y="753.5" font-size="5.7" text-anchor="middle" transform="rotate(-90 15.2 753.5)">Cell number</text>
<text x="154.4" y="821.4" font-size="5.7">DNA content</text>
<line x1="27.4" y1="737.6" x2="27.4" y2="805.6" stroke="#333" stroke-width="0.6"/>
<line x1="27.4" y1="805.6" x2="105" y2="805.6" stroke="#333" stroke-width="0.6"/>
<path d="M26 739.6h1.4M26.6 741.9h0.8M26.6 744.1h0.8M26.6 746.4h0.8M26.6 748.6h0.8M26 750.9h1.4M26.6 753.1h0.8M26.6 755.4h0.8M26.6 757.6h0.8M26.6 759.9h0.8M26 762.1h1.4M26.6 764.4h0.8M26.6 766.6h0.8M26.6 768.9h0.8M26.6 771.1h0.8M26 773.4h1.4M26.6 775.6h0.8M26.6 777.9h0.8M26.6 780.1h0.8M26.6 782.4h0.8M26 784.6h1.4M26.6 786.9h0.8M26.6 789.1h0.8M26.6 791.4h0.8M26.6 793.6h0.8M26 795.9h1.4M26.6 798.1h0.8M26.6 800.4h0.8M26.6 802.6h0.8M27.4 805.6v1.4M29.3 805.6v0.8M31.3 805.6v0.8M33.2 805.6v0.8M35.2 805.6v0.8M37.1 805.6v1.4M39 805.6v0.8M41 805.6v0.8M42.9 805.6v0.8M44.9 805.6v0.8M46.8 805.6v1.4M48.7 805.6v0.8M50.7 805.6v0.8M52.6 805.6v0.8M54.6 805.6v0.8M56.5 805.6v1.4M58.4 805.6v0.8M60.4 805.6v0.8M62.3 805.6v0.8M64.3 805.6v0.8M66.2 805.6v1.4M68.1 805.6v0.8M70.1 805.6v0.8M72 805.6v0.8M74 805.6v0.8M75.9 805.6v1.4M77.8 805.6v0.8M79.8 805.6v0.8M81.7 805.6v0.8M83.7 805.6v0.8M85.6 805.6v1.4M87.5 805.6v0.8M89.5 805.6v0.8M91.4 805.6v0.8M93.4 805.6v0.8M95.3 805.6v1.4M97.2 805.6v0.8M99.2 805.6v0.8M101.1 805.6v0.8M103.1 805.6v0.8M105 805.6v1.4" stroke="#555" stroke-width="0.35"/>
<text x="27.4" y="810.2" font-size="2.4" text-anchor="middle" font-weight="400" fill="#666">0</text>
<text x="40.33" y="810.2" font-size="2.4" text-anchor="middle" font-weight="400" fill="#666">50</text>
<text x="53.27" y="810.2" font-size="2.4" text-anchor="middle" font-weight="400" fill="#666">100</text>
<text x="66.2" y="810.2" font-size="2.4" text-anchor="middle" font-weight="400" fill="#666">150</text>
<text x="79.13" y="810.2" font-size="2.4" text-anchor="middle" font-weight="400" fill="#666">200</text>
<text x="92.07" y="810.2" font-size="2.4" text-anchor="middle" font-weight="400" fill="#666">250</text>
<text x="105" y="810.2" font-size="2.4" text-anchor="middle" font-weight="400" fill="#666">300</text>
<text x="66.2" y="813.2" font-size="2.6" text-anchor="middle" font-weight="400" fill="#555">Channels (PE-A)</text>
<text x="25.4" y="794.24" font-size="2.4" text-anchor="middle" font-weight="400" fill="#666" transform="rotate(-90 25.4 794.24)">40</text>
<text x="25.4" y="781.87" font-size="2.4" text-anchor="middle" font-weight="400" fill="#666" transform="rotate(-90 25.4 781.87)">80</text>
<text x="25.4" y="769.51" font-size="2.4" text-anchor="middle" font-weight="400" fill="#666" transform="rotate(-90 25.4 769.51)">120</text>
<text x="25.4" y="757.15" font-size="2.4" text-anchor="middle" font-weight="400" fill="#666" transform="rotate(-90 25.4 757.15)">160</text>
<text x="25.4" y="744.78" font-size="2.4" text-anchor="middle" font-weight="400" fill="#666" transform="rotate(-90 25.4 744.78)">200</text>
<text x="22.4" y="771.6" font-size="2.6" text-anchor="middle" font-weight="400" fill="#555" transform="rotate(-90 22.4 771.6)">Number</text>
<path d="M40.4 805.6 40.4 805.5 40.9 805.5 41.4 805.5 41.9 805.4 42.4 805.4 42.9 805.3 43.4 805.2 43.9 805 44.4 804.8 44.9 804.6 45.4 804.3 45.9 804 46.4 803.6 46.9 803.2 47.4 802.8 47.9 802.4 48.4 802.1 48.9 801.8 49.4 801.6 49.9 801.5 50.4 801.4 50.9 801.3 51.4 801.3 51.9 801.3 52.4 801.3 52.9 801.3 53.4 801.3 53.9 801.4 54.4 801.4 54.9 801.4 55.4 801.5 55.9 801.6 56.4 801.6 56.9 801.7 57.4 801.8 57.9 801.9 58.4 802.1 58.9 802.2 59.4 802.4 59.9 802.6 60.4 802.9 60.9 803.2 61.4 803.5 61.9 803.8 62.4 804.1 62.9 804.4 63.4 804.6 63.9 804.8 64.4 805 64.9 805.2 65.4 805.3 65.9 805.4 66.4 805.4 66.9 805.5 67.4 805.5 67.9 805.5 67.9 805.6" fill="#dcdcdc" stroke="none" stroke-width="1"/>
<path d="M39.9 805.6 39.9 805.5 40.4 805.4 40.9 805.2 41.4 804.9 41.9 804.2 42.4 803 42.9 801.1 43.4 798.2 43.9 794 44.4 788.4 44.9 781.3 45.4 773 45.9 764 46.4 755.2 46.9 747.7 47.4 742.4 47.9 740.1 48.4 741.1 48.9 745.3 49.4 752 49.9 760.4 50.4 769.4 50.9 778.1 51.4 785.7 51.9 792 52.4 796.7 52.9 800.1 53.4 802.4 53.9 803.8 54.4 804.6 54.9 805.1 55.4 805.4 55.9 805.5 55.9 805.6" fill="#ee6a4f" stroke="none" stroke-width="1"/>
<path d="M53.4 805.6 53.4 805.5 53.9 805.5 54.4 805.5 54.9 805.4 55.4 805.3 55.9 805.2 56.4 805.1 56.9 804.9 57.4 804.7 57.9 804.4 58.4 804 58.9 803.7 59.4 803.2 59.9 802.8 60.4 802.3 60.9 801.8 61.4 801.4 61.9 800.9 62.4 800.6 62.9 800.3 63.4 800.1 63.9 800 64.4 800 64.9 800.2 65.4 800.4 65.9 800.8 66.4 801.2 66.9 801.6 67.4 802.1 67.9 802.6 68.4 803.1 68.9 803.5 69.4 803.9 69.9 804.2 70.4 804.5 70.9 804.8 71.4 805 71.9 805.2 72.4 805.3 72.9 805.4 73.4 805.4 73.9 805.5 74.4 805.5 74.4 805.6" fill="#ee6a4f" stroke="none" stroke-width="1"/>
<path d="M40.4 805.6 40.4 805.5 40.9 805.5 41.4 805.5 41.9 805.4 42.4 805.4 42.9 805.3 43.4 805.2 43.9 805 44.4 804.8 44.9 804.6 45.4 804.3 45.9 804 46.4 803.6 46.9 803.2 47.4 802.8 47.9 802.4 48.4 802.1 48.9 801.8 49.4 801.6 49.9 801.5 50.4 801.4 50.9 801.3 51.4 801.3 51.9 801.3 52.4 801.3 52.9 801.3 53.4 801.3 53.9 801.4 54.4 801.4 54.9 801.4 55.4 801.5 55.9 801.6 56.4 801.6 56.9 801.7 57.4 801.8 57.9 801.9 58.4 802.1 58.9 802.2 59.4 802.4 59.9 802.6 60.4 802.9 60.9 803.2 61.4 803.5 61.9 803.8 62.4 804.1 62.9 804.4 63.4 804.6 63.9 804.8 64.4 805 64.9 805.2 65.4 805.3 65.9 805.4 66.4 805.4 66.9 805.5 67.4 805.5 67.9 805.5 67.9 805.6" fill="url(#hatch)" stroke="none" stroke-width="1"/>
<path d="M27.9 805.6 28.4 805.6 28.9 805.6 29.4 805.6 29.9 805.6 30.4 805.6 30.9 805.6 31.4 805.6 31.9 805.6 32.4 805.6 32.9 805.6 33.4 805.6 33.9 805.6 34.4 805.6 34.9 805.6 35.4 805.6 35.9 805.6 36.4 805.6 36.9 805.6 37.4 805.6 37.9 805.6 38.4 805.6 38.9 805.6 39.4 805.5 39.9 805.5 40.4 805.4 40.9 805.2 41.4 804.8 41.9 804.1 42.4 802.9 42.9 801 43.4 798.2 43.9 794 44.4 788.5 44.9 781.5 45.4 772.8 45.9 764.4 46.4 755.1 46.9 747.5 47.4 741.7 47.9 739 48.4 740.3 48.9 744.3 49.4 751 49.9 759.1 50.4 767.8 50.9 775.9 51.4 782.7 51.9 789 52.4 793 52.9 796.3 53.4 798.5 53.9 799.3 54.4 800.1 54.9 800.7 55.4 800.8 55.9 800.5 56.4 800.9 56.9 799.9 57.4 800.3 57.9 799.4 58.4 798.6 58.9 798.8 59.4 797.8 59.9 797.5 60.4 796.8 60.9 796.8 61.4 796.7 61.9 796.3 62.4 795 62.9 795.1 63.4 794.5 63.9 794.1 64.4 793.9 64.9 794.8 65.4 795.5 65.9 796.1 66.4 796.4 66.9 797.8 67.4 798.1 67.9 798.6 68.4 799.2 68.9 800.7 69.4 800.8 69.9 802.1 70.4 802.7 70.9 802.9 71.4 802.7 71.9 803.5 72.4 803.7 72.9 803.9 73.4 804.1 73.9 804.2 74.4 804.2 74.9 804.3 75.4 804.3 75.9 804.4 76.4 804.4 76.9 804.4 77.4 804.4 77.9 804.4 78.4 804.4 78.9 804.4 79.4 804.4 79.9 804.4 80.4 804.4 80.9 804.4 81.4 804.4 81.9 804.4 82.4 804.4 82.9 804.4 83.4 804.4 83.9 804.4 84.4 804.4 84.9 804.4 85.4 804.4 85.9 804.4 86.4 804.4 86.9 804.4 87.4 804.4 87.9 804.4 88.4 804.4 88.9 804.4 89.4 804.4 89.9 804.4 90.4 804.4 90.9 804.4 91.4 804.4 91.9 804.4 92.4 804.4 92.9 804.4 93.4 804.4 93.9 804.5 94.4 804.5 94.9 804.5 95.4 804.5 95.9 804.5 96.4 804.6 96.9 804.6 97.4 804.7 97.9 804.7 98.4 804.8 98.9 804.8 99.4 804.9 99.9 805 100.4 805.1 100.9 805.1 101.4 805.2 101.9 805.3 102.4 805.3 102.9 805.4 103.4 805.4 103.9 805.5 104.4 805.5" fill="none" stroke="#111" stroke-width="0.55"/>
<line x1="112.6" y1="737.6" x2="112.6" y2="805.6" stroke="#333" stroke-width="0.6"/>
<line x1="112.6" y1="805.6" x2="191" y2="805.6" stroke="#333" stroke-width="0.6"/>
<path d="M111.2 739.6h1.4M111.8 741.9h0.8M111.8 744.1h0.8M111.8 746.4h0.8M111.8 748.6h0.8M111.2 750.9h1.4M111.8 753.1h0.8M111.8 755.4h0.8M111.8 757.6h0.8M111.8 759.9h0.8M111.2 762.1h1.4M111.8 764.4h0.8M111.8 766.6h0.8M111.8 768.9h0.8M111.8 771.1h0.8M111.2 773.4h1.4M111.8 775.6h0.8M111.8 777.9h0.8M111.8 780.1h0.8M111.8 782.4h0.8M111.2 784.6h1.4M111.8 786.9h0.8M111.8 789.1h0.8M111.8 791.4h0.8M111.8 793.6h0.8M111.2 795.9h1.4M111.8 798.1h0.8M111.8 800.4h0.8M111.8 802.6h0.8M112.6 805.6v1.4M114.6 805.6v0.8M116.5 805.6v0.8M118.5 805.6v0.8M120.4 805.6v0.8M122.4 805.6v1.4M124.4 805.6v0.8M126.3 805.6v0.8M128.3 805.6v0.8M130.2 805.6v0.8M132.2 805.6v1.4M134.2 805.6v0.8M136.1 805.6v0.8M138.1 805.6v0.8M140 805.6v0.8M142 805.6v1.4M144 805.6v0.8M145.9 805.6v0.8M147.9 805.6v0.8M149.8 805.6v0.8M151.8 805.6v1.4M153.8 805.6v0.8M155.7 805.6v0.8M157.7 805.6v0.8M159.6 805.6v0.8M161.6 805.6v1.4M163.6 805.6v0.8M165.5 805.6v0.8M167.5 805.6v0.8M169.4 805.6v0.8M171.4 805.6v1.4M173.4 805.6v0.8M175.3 805.6v0.8M177.3 805.6v0.8M179.2 805.6v0.8M181.2 805.6v1.4M183.2 805.6v0.8M185.1 805.6v0.8M187.1 805.6v0.8M189 805.6v0.8M191 805.6v1.4" stroke="#555" stroke-width="0.35"/>
<text x="112.6" y="810.2" font-size="2.4" text-anchor="middle" font-weight="400" fill="#666">0</text>
<text x="125.67" y="810.2" font-size="2.4" text-anchor="middle" font-weight="400" fill="#666">50</text>
<text x="138.73" y="810.2" font-size="2.4" text-anchor="middle" font-weight="400" fill="#666">100</text>
<text x="151.8" y="810.2" font-size="2.4" text-anchor="middle" font-weight="400" fill="#666">150</text>
<text x="164.87" y="810.2" font-size="2.4" text-anchor="middle" font-weight="400" fill="#666">200</text>
<text x="177.93" y="810.2" font-size="2.4" text-anchor="middle" font-weight="400" fill="#666">250</text>
<text x="191" y="810.2" font-size="2.4" text-anchor="middle" font-weight="400" fill="#666">300</text>
<text x="151.8" y="813.2" font-size="2.6" text-anchor="middle" font-weight="400" fill="#555">Channels (PE-A)</text>
<text x="110.6" y="794.24" font-size="2.4" text-anchor="middle" font-weight="400" fill="#666" transform="rotate(-90 110.6 794.24)">40</text>
<text x="110.6" y="781.87" font-size="2.4" text-anchor="middle" font-weight="400" fill="#666" transform="rotate(-90 110.6 781.87)">80</text>
<text x="110.6" y="769.51" font-size="2.4" text-anchor="middle" font-weight="400" fill="#666" transform="rotate(-90 110.6 769.51)">120</text>
<text x="110.6" y="757.15" font-size="2.4" text-anchor="middle" font-weight="400" fill="#666" transform="rotate(-90 110.6 757.15)">160</text>
<text x="110.6" y="744.78" font-size="2.4" text-anchor="middle" font-weight="400" fill="#666" transform="rotate(-90 110.6 744.78)">200</text>
<text x="107.6" y="771.6" font-size="2.6" text-anchor="middle" font-weight="400" fill="#555" transform="rotate(-90 107.6 771.6)">Number</text>
<path d="M133.6 805.6 133.6 805.5 134.1 805.5 134.6 805.5 135.1 805.4 135.6 805.3 136.1 805.3 136.6 805.1 137.1 805 137.6 804.8 138.1 804.5 138.6 804.2 139.1 803.8 139.6 803.4 140.1 803 140.6 802.6 141.1 802.3 141.6 801.9 142.1 801.7 142.6 801.5 143.1 801.3 143.6 801.2 144.1 801.1 144.6 801 145.1 801 145.6 801 146.1 801 146.6 801 147.1 801 147.6 801 148.1 801 148.6 801 149.1 801.1 149.6 801.1 150.1 801.1 150.6 801.1 151.1 801.2 151.6 801.2 152.1 801.2 152.6 801.2 153.1 801.3 153.6 801.3 154.1 801.3 154.6 801.3 155.1 801.4 155.6 801.4 156.1 801.4 156.6 801.4 157.1 801.5 157.6 801.5 158.1 801.5 158.6 801.5 159.1 801.6 159.6 801.6 160.1 801.6 160.6 801.6 161.1 801.7 161.6 801.7 162.1 801.7 162.6 801.8 163.1 801.8 163.6 801.8 164.1 801.9 164.6 801.9 165.1 802 165.6 802.1 166.1 802.2 166.6 802.3 167.1 802.4 167.6 802.6 168.1 802.8 168.6 803 169.1 803.3 169.6 803.6 170.1 803.9 170.6 804.2 171.1 804.5 171.6 804.7 172.1 804.9 172.6 805.1 173.1 805.2 173.6 805.3 174.1 805.4 174.6 805.4 175.1 805.5 175.6 805.5 176.1 805.5 176.1 805.6" fill="#dcdcdc" stroke="none" stroke-width="1"/>
<path d="M130.6 805.6 130.6 805.5 131.1 805.4 131.6 805.3 132.1 805.1 132.6 804.8 133.1 804.4 133.6 803.7 134.1 802.7 134.6 801.3 135.1 799.4 135.6 796.9 136.1 793.7 136.6 789.9 137.1 785.3 137.6 780.2 138.1 774.7 138.6 769 139.1 763.4 139.6 758.3 140.1 754.1 140.6 751 141.1 749.3 141.6 749.1 142.1 750.5 142.6 753.4 143.1 757.4 143.6 762.3 144.1 767.8 144.6 773.6 145.1 779.1 145.6 784.4 146.1 789 146.6 793 147.1 796.3 147.6 798.9 148.1 800.9 148.6 802.4 149.1 803.5 149.6 804.2 150.1 804.8 150.6 805.1 151.1 805.3 151.6 805.4 152.1 805.5 152.6 805.5 152.6 805.6" fill="#ee6a4f" stroke="none" stroke-width="1"/>
<path d="M149.6 805.6 149.6 805.5 150.1 805.5 150.6 805.5 151.1 805.4 151.6 805.4 152.1 805.3 152.6 805.2 153.1 805.1 153.6 804.9 154.1 804.7 154.6 804.4 155.1 804.1 155.6 803.7 156.1 803.3 156.6 802.8 157.1 802.2 157.6 801.6 158.1 800.9 158.6 800.1 159.1 799.3 159.6 798.5 160.1 797.6 160.6 796.8 161.1 796 161.6 795.2 162.1 794.5 162.6 794 163.1 793.5 163.6 793.2 164.1 793 164.6 793 165.1 793.2 165.6 793.4 166.1 793.9 166.6 794.4 167.1 795.1 167.6 795.8 168.1 796.6 168.6 797.4 169.1 798.3 169.6 799.1 170.1 800 170.6 800.7 171.1 801.4 171.6 802.1 172.1 802.7 172.6 803.2 173.1 803.7 173.6 804 174.1 804.4 174.6 804.6 175.1 804.9 175.6 805 176.1 805.2 176.6 805.3 177.1 805.4 177.6 805.4 178.1 805.5 178.6 805.5 179.1 805.5 179.1 805.6" fill="#ee6a4f" stroke="none" stroke-width="1"/>
<path d="M133.6 805.6 133.6 805.5 134.1 805.5 134.6 805.5 135.1 805.4 135.6 805.3 136.1 805.3 136.6 805.1 137.1 805 137.6 804.8 138.1 804.5 138.6 804.2 139.1 803.8 139.6 803.4 140.1 803 140.6 802.6 141.1 802.3 141.6 801.9 142.1 801.7 142.6 801.5 143.1 801.3 143.6 801.2 144.1 801.1 144.6 801 145.1 801 145.6 801 146.1 801 146.6 801 147.1 801 147.6 801 148.1 801 148.6 801 149.1 801.1 149.6 801.1 150.1 801.1 150.6 801.1 151.1 801.2 151.6 801.2 152.1 801.2 152.6 801.2 153.1 801.3 153.6 801.3 154.1 801.3 154.6 801.3 155.1 801.4 155.6 801.4 156.1 801.4 156.6 801.4 157.1 801.5 157.6 801.5 158.1 801.5 158.6 801.5 159.1 801.6 159.6 801.6 160.1 801.6 160.6 801.6 161.1 801.7 161.6 801.7 162.1 801.7 162.6 801.8 163.1 801.8 163.6 801.8 164.1 801.9 164.6 801.9 165.1 802 165.6 802.1 166.1 802.2 166.6 802.3 167.1 802.4 167.6 802.6 168.1 802.8 168.6 803 169.1 803.3 169.6 803.6 170.1 803.9 170.6 804.2 171.1 804.5 171.6 804.7 172.1 804.9 172.6 805.1 173.1 805.2 173.6 805.3 174.1 805.4 174.6 805.4 175.1 805.5 175.6 805.5 176.1 805.5 176.1 805.6" fill="url(#hatch)" stroke="none" stroke-width="1"/>
<path d="M113.1 805.6 113.6 805.6 114.1 805.6 114.6 805.6 115.1 805.6 115.6 805.6 116.1 805.6 116.6 805.6 117.1 805.6 117.6 805.6 118.1 805.6 118.6 805.6 119.1 805.6 119.6 805.6 120.1 805.6 120.6 805.6 121.1 805.6 121.6 805.6 122.1 805.6 122.6 805.6 123.1 805.6 123.6 805.6 124.1 805.6 124.6 805.6 125.1 805.6 125.6 805.6 126.1 805.6 126.6 805.6 127.1 805.6 127.6 805.6 128.1 805.6 128.6 805.6 129.1 805.6 129.6 805.6 130.1 805.5 130.6 805.5 131.1 805.4 131.6 805.3 132.1 805.1 132.6 804.8 133.1 804.3 133.6 803.6 134.1 802.6 134.6 801.1 135.1 799.2 135.6 796.6 136.1 793.3 136.6 789.3 137.1 784.6 137.6 779.1 138.1 772.8 138.6 766.3 139.1 760.2 139.6 753.5 140.1 748 140.6 744 141.1 741.2 141.6 741 142.1 742.7 142.6 745.3 143.1 749.9 143.6 756.4 144.1 762 144.6 768.8 145.1 774.7 145.6 779.4 146.1 784.1 146.6 788.4 147.1 791.9 147.6 794.6 148.1 796.9 148.6 797.6 149.1 799.3 149.6 800 150.1 800.1 150.6 800.6 151.1 800.2 151.6 800.8 152.1 800.2 152.6 799.9 153.1 800 153.6 799.7 154.1 799.9 154.6 799.5 155.1 799.1 155.6 799 156.1 798.8 156.6 798.2 157.1 797.9 157.6 797.8 158.1 796.7 158.6 796.2 159.1 795.3 159.6 794.1 160.1 793.8 160.6 793.4 161.1 792.7 161.6 791.5 162.1 790.8 162.6 790.3 163.1 789.7 163.6 788.7 164.1 788.9 164.6 788.9 165.1 788.5 165.6 788.8 166.1 789.7 166.6 790.3 167.1 791 167.6 792.3 168.1 793.2 168.6 794.3 169.1 794.8 169.6 796.2 170.1 797 170.6 797.6 171.1 798.3 171.6 799.7 172.1 800.5 172.6 801.5 173.1 802.2 173.6 802.7 174.1 802.7 174.6 802.6 175.1 803.6 175.6 803.9 176.1 804 176.6 804.2 177.1 804.3 177.6 804.4 178.1 804.6 178.6 804.6 179.1 804.7 179.6 804.8 180.1 804.9 180.6 805 181.1 805.1 181.6 805.2 182.1 805.2 182.6 805.3 183.1 805.4 183.6 805.4 184.1 805.4 184.6 805.5 185.1 805.5 185.6 805.5 186.1 805.5 186.6 805.5 187.1 805.6 187.6 805.6 188.1 805.6 188.6 805.6 189.1 805.6 189.6 805.6 190.1 805.6" fill="none" stroke="#111" stroke-width="0.55"/>
<text x="418" y="594.4" font-size="9">MDA-MB-231</text>
<text x="349.4" y="607.6" font-size="6.2">siNC</text>
<text x="427" y="608" font-size="6.1">siTRIM25#1</text>
<text x="513" y="608" font-size="6.1">siTRIM25#2</text>
<line x1="311.6" y1="616.4" x2="311.6" y2="695" stroke="#000" stroke-width="0.9"/>
<line x1="311.6" y1="695" x2="576.6" y2="695" stroke="#000" stroke-width="0.9"/>
<path d="M311.6 614.4 310 618.4 313.2 618.4" fill="#000" stroke="none" stroke-width="1"/>
<path d="M578.6 695 574.6 693.4 574.6 696.6" fill="#000" stroke="none" stroke-width="1"/>
<text x="307.8" y="635" font-size="5.7" text-anchor="middle" transform="rotate(-90 307.8 635)">Cell number</text>
<text x="538" y="703.6" font-size="5.7">DNA content</text>
<line x1="320.4" y1="619" x2="320.4" y2="686.4" stroke="#333" stroke-width="0.6"/>
<line x1="320.4" y1="686.4" x2="398" y2="686.4" stroke="#333" stroke-width="0.6"/>
<path d="M319 621h1.4M319.6 623.2h0.8M319.6 625.5h0.8M319.6 627.8h0.8M319.6 630h0.8M319 632.2h1.4M319.6 634.5h0.8M319.6 636.8h0.8M319.6 639h0.8M319.6 641.2h0.8M319 643.5h1.4M319.6 645.8h0.8M319.6 648h0.8M319.6 650.2h0.8M319.6 652.5h0.8M319 654.8h1.4M319.6 657h0.8M319.6 659.2h0.8M319.6 661.5h0.8M319.6 663.8h0.8M319 666h1.4M319.6 668.2h0.8M319.6 670.5h0.8M319.6 672.8h0.8M319.6 675h0.8M319 677.2h1.4M319.6 679.5h0.8M319.6 681.8h0.8M319.6 684h0.8M320.4 686.4v1.4M322.3 686.4v0.8M324.3 686.4v0.8M326.2 686.4v0.8M328.2 686.4v0.8M330.1 686.4v1.4M332 686.4v0.8M334 686.4v0.8M335.9 686.4v0.8M337.9 686.4v0.8M339.8 686.4v1.4M341.7 686.4v0.8M343.7 686.4v0.8M345.6 686.4v0.8M347.6 686.4v0.8M349.5 686.4v1.4M351.4 686.4v0.8M353.4 686.4v0.8M355.3 686.4v0.8M357.3 686.4v0.8M359.2 686.4v1.4M361.1 686.4v0.8M363.1 686.4v0.8M365 686.4v0.8M367 686.4v0.8M368.9 686.4v1.4M370.8 686.4v0.8M372.8 686.4v0.8M374.7 686.4v0.8M376.7 686.4v0.8M378.6 686.4v1.4M380.5 686.4v0.8M382.5 686.4v0.8M384.4 686.4v0.8M386.4 686.4v0.8M388.3 686.4v1.4M390.2 686.4v0.8M392.2 686.4v0.8M394.1 686.4v0.8M396.1 686.4v0.8M398 686.4v1.4" stroke="#555" stroke-width="0.35"/>
<text x="320.4" y="691" font-size="2.4" text-anchor="middle" font-weight="400" fill="#666">0</text>
<text x="333.33" y="691" font-size="2.4" text-anchor="middle" font-weight="400" fill="#666">50</text>
<text x="346.27" y="691" font-size="2.4" text-anchor="middle" font-weight="400" fill="#666">100</text>
<text x="359.2" y="691" font-size="2.4" text-anchor="middle" font-weight="400" fill="#666">150</text>
<text x="372.13" y="691" font-size="2.4" text-anchor="middle" font-weight="400" fill="#666">200</text>
<text x="385.07" y="691" font-size="2.4" text-anchor="middle" font-weight="400" fill="#666">250</text>
<text x="398" y="691" font-size="2.4" text-anchor="middle" font-weight="400" fill="#666">300</text>
<text x="359.2" y="694" font-size="2.6" text-anchor="middle" font-weight="400" fill="#555">Channels (PE-A)</text>
<text x="318.4" y="675.15" font-size="2.4" text-anchor="middle" font-weight="400" fill="#666" transform="rotate(-90 318.4 675.15)">40</text>
<text x="318.4" y="662.89" font-size="2.4" text-anchor="middle" font-weight="400" fill="#666" transform="rotate(-90 318.4 662.89)">80</text>
<text x="318.4" y="650.64" font-size="2.4" text-anchor="middle" font-weight="400" fill="#666" transform="rotate(-90 318.4 650.64)">120</text>
<text x="318.4" y="638.38" font-size="2.4" text-anchor="middle" font-weight="400" fill="#666" transform="rotate(-90 318.4 638.38)">160</text>
<text x="318.4" y="626.13" font-size="2.4" text-anchor="middle" font-weight="400" fill="#666" transform="rotate(-90 318.4 626.13)">200</text>
<text x="315.4" y="652.7" font-size="2.6" text-anchor="middle" font-weight="400" fill="#555" transform="rotate(-90 315.4 652.7)">Number</text>
<path d="M343.4 686.4 343.4 686.3 343.9 686.3 344.4 686.3 344.9 686.3 345.4 686.2 345.9 686.1 346.4 686 346.9 685.9 347.4 685.7 347.9 685.5 348.4 685.2 348.9 684.8 349.4 684.4 349.9 683.8 350.4 683.2 350.9 682.5 351.4 681.9 351.9 681.3 352.4 680.7 352.9 680.3 353.4 679.9 353.9 679.6 354.4 679.4 354.9 679.2 355.4 679.1 355.9 679 356.4 679 356.9 678.9 357.4 678.9 357.9 678.9 358.4 678.9 358.9 679 359.4 679 359.9 679 360.4 679 360.9 679.1 361.4 679.1 361.9 679.1 362.4 679.2 362.9 679.2 363.4 679.2 363.9 679.3 364.4 679.3 364.9 679.3 365.4 679.4 365.9 679.4 366.4 679.4 366.9 679.5 367.4 679.5 367.9 679.5 368.4 679.6 368.9 679.6 369.4 679.6 369.9 679.7 370.4 679.7 370.9 679.7 371.4 679.8 371.9 679.8 372.4 679.8 372.9 679.9 373.4 679.9 373.9 679.9 374.4 680 374.9 680 375.4 680 375.9 680.1 376.4 680.1 376.9 680.1 377.4 680.2 377.9 680.2 378.4 680.2 378.9 680.3 379.4 680.3 379.9 680.4 380.4 680.4 380.9 680.5 381.4 680.6 381.9 680.7 382.4 680.8 382.9 680.9 383.4 681 383.9 681.2 384.4 681.5 384.9 681.8 385.4 682.2 385.9 682.6 386.4 683 386.9 683.5 387.4 684 387.9 684.4 388.4 684.8 388.9 685.2 389.4 685.5 389.9 685.7 390.4 685.9 390.9 686 391.4 686.1 391.9 686.2 392.4 686.3 392.9 686.3 393.4 686.3 393.9 686.3 393.9 686.4" fill="#dcdcdc" stroke="none" stroke-width="1"/>
<path d="M338.4 686.4 338.4 686.3 338.9 686.3 339.4 686.2 339.9 686 340.4 685.8 340.9 685.5 341.4 685 341.9 684.3 342.4 683.3 342.9 682 343.4 680.2 343.9 678 344.4 675.1 344.9 671.6 345.4 667.5 345.9 662.8 346.4 657.6 346.9 652 347.4 646.3 347.9 640.7 348.4 635.4 348.9 630.9 349.4 627.4 349.9 625 350.4 624 350.9 624.5 351.4 626.3 351.9 629.4 352.4 633.5 352.9 638.5 353.4 644 353.9 649.7 354.4 655.4 354.9 660.7 355.4 665.7 355.9 670 356.4 673.8 356.9 676.9 357.4 679.4 357.9 681.4 358.4 682.8 358.9 684 359.4 684.8 359.9 685.3 360.4 685.7 360.9 686 361.4 686.1 361.9 686.2 362.4 686.3 362.9 686.3 362.9 686.4" fill="#ee6a4f" stroke="none" stroke-width="1"/>
<path d="M364.9 686.4 364.9 686.3 365.4 686.3 365.9 686.3 366.4 686.3 366.9 686.2 367.4 686.2 367.9 686.1 368.4 686 368.9 685.9 369.4 685.8 369.9 685.7 370.4 685.5 370.9 685.4 371.4 685.2 371.9 684.9 372.4 684.7 372.9 684.4 373.4 684.1 373.9 683.8 374.4 683.5 374.9 683.2 375.4 682.9 375.9 682.5 376.4 682.2 376.9 681.9 377.4 681.7 377.9 681.5 378.4 681.3 378.9 681.1 379.4 681 379.9 681 380.4 681 380.9 681.1 381.4 681.2 381.9 681.4 382.4 681.6 382.9 681.8 383.4 682.1 383.9 682.4 384.4 682.7 384.9 683.1 385.4 683.4 385.9 683.7 386.4 684 386.9 684.3 387.4 684.6 387.9 684.9 388.4 685.1 388.9 685.3 389.4 685.5 389.9 685.6 390.4 685.8 390.9 685.9 391.4 686 391.9 686.1 392.4 686.2 392.9 686.2 393.4 686.3 393.9 686.3 394.4 686.3 394.9 686.3 394.9 686.4" fill="#ee6a4f" stroke="none" stroke-width="1"/>
<path d="M343.4 686.4 343.4 686.3 343.9 686.3 344.4 686.3 344.9 686.3 345.4 686.2 345.9 686.1 346.4 686 346.9 685.9 347.4 685.7 347.9 685.5 348.4 685.2 348.9 684.8 349.4 684.4 349.9 683.8 350.4 683.2 350.9 682.5 351.4 681.9 351.9 681.3 352.4 680.7 352.9 680.3 353.4 679.9 353.9 679.6 354.4 679.4 354.9 679.2 355.4 679.1 355.9 679 356.4 679 356.9 678.9 357.4 678.9 357.9 678.9 358.4 678.9 358.9 679 359.4 679 359.9 679 360.4 679 360.9 679.1 361.4 679.1 361.9 679.1 362.4 679.2 362.9 679.2 363.4 679.2 363.9 679.3 364.4 679.3 364.9 679.3 365.4 679.4 365.9 679.4 366.4 679.4 366.9 679.5 367.4 679.5 367.9 679.5 368.4 679.6 368.9 679.6 369.4 679.6 369.9 679.7 370.4 679.7 370.9 679.7 371.4 679.8 371.9 679.8 372.4 679.8 372.9 679.9 373.4 679.9 373.9 679.9 374.4 680 374.9 680 375.4 680 375.9 680.1 376.4 680.1 376.9 680.1 377.4 680.2 377.9 680.2 378.4 680.2 378.9 680.3 379.4 680.3 379.9 680.4 380.4 680.4 380.9 680.5 381.4 680.6 381.9 680.7 382.4 680.8 382.9 680.9 383.4 681 383.9 681.2 384.4 681.5 384.9 681.8 385.4 682.2 385.9 682.6 386.4 683 386.9 683.5 387.4 684 387.9 684.4 388.4 684.8 388.9 685.2 389.4 685.5 389.9 685.7 390.4 685.9 390.9 686 391.4 686.1 391.9 686.2 392.4 686.3 392.9 686.3 393.4 686.3 393.9 686.3 393.9 686.4" fill="url(#hatch)" stroke="none" stroke-width="1"/>
<path d="M320.9 686.4 321.4 686.4 321.9 686.4 322.4 686.4 322.9 686.4 323.4 686.4 323.9 686.4 324.4 686.4 324.9 686.4 325.4 686.4 325.9 686.4 326.4 686.4 326.9 686.4 327.4 686.4 327.9 686.4 328.4 686.4 328.9 686.4 329.4 686.4 329.9 686.4 330.4 686.4 330.9 686.4 331.4 686.4 331.9 686.4 332.4 686.4 332.9 686.4 333.4 686.4 333.9 686.4 334.4 686.4 334.9 686.4 335.4 686.4 335.9 686.4 336.4 686.4 336.9 686.4 337.4 686.4 337.9 686.4 338.4 686.3 338.9 686.3 339.4 686.2 339.9 686.1 340.4 685.9 340.9 685.5 341.4 685.1 341.9 684.4 342.4 683.5 342.9 682.2 343.4 680.5 343.9 678.4 344.4 675.7 344.9 672.3 345.4 668.4 345.9 663.9 346.4 658.9 346.9 653.5 347.4 647.9 347.9 642.4 348.4 637.4 348.9 633.2 349.4 628.8 349.9 625.6 350.4 623.9 350.9 623 351.4 624.2 351.9 625.8 352.4 628.6 352.9 632.1 353.4 636.1 353.9 639.9 354.4 643.7 354.9 648.1 355.4 651.8 355.9 656.1 356.4 659 356.9 661.8 357.4 664.1 357.9 666.5 358.4 669.4 358.9 671.6 359.4 673.2 359.9 675.3 360.4 676.3 360.9 677.5 361.4 678.5 361.9 679.2 362.4 678.9 362.9 679.4 363.4 679.7 363.9 679.7 364.4 679.1 364.9 679.7 365.4 679.6 365.9 679.4 366.4 678.9 366.9 678.7 367.4 678.5 367.9 679 368.4 679.2 368.9 679.3 369.4 678.7 369.9 678.2 370.4 678.8 370.9 679 371.4 679.1 371.9 679 372.4 678.5 372.9 678 373.4 678 373.9 678.1 374.4 677.6 374.9 677.2 375.4 676.6 375.9 675.7 376.4 675.3 376.9 675.2 377.4 674.9 377.9 674.5 378.4 675 378.9 674.3 379.4 673.9 379.9 673.6 380.4 673.6 380.9 674.1 381.4 674.5 381.9 675.2 382.4 675.1 382.9 675.9 383.4 676.6 383.9 677.1 384.4 677.7 384.9 678.1 385.4 679 385.9 679.9 386.4 680.6 386.9 681.4 387.4 681.9 387.9 682.8 388.4 682.5 388.9 682.9 389.4 683.8 389.9 684.3 390.4 684.6 390.9 684.4 391.4 684.6 391.9 684.8 392.4 685 392.9 685.1 393.4 685.2 393.9 685.3 394.4 685.4 394.9 685.5 395.4 685.6 395.9 685.7 396.4 685.8 396.9 685.9 397.4 686" fill="none" stroke="#111" stroke-width="0.55"/>
<line x1="407.6" y1="619" x2="407.6" y2="686.4" stroke="#333" stroke-width="0.6"/>
<line x1="407.6" y1="686.4" x2="486" y2="686.4" stroke="#333" stroke-width="0.6"/>
<path d="M406.2 621h1.4M406.8 623.2h0.8M406.8 625.5h0.8M406.8 627.8h0.8M406.8 630h0.8M406.2 632.2h1.4M406.8 634.5h0.8M406.8 636.8h0.8M406.8 639h0.8M406.8 641.2h0.8M406.2 643.5h1.4M406.8 645.8h0.8M406.8 648h0.8M406.8 650.2h0.8M406.8 652.5h0.8M406.2 654.8h1.4M406.8 657h0.8M406.8 659.2h0.8M406.8 661.5h0.8M406.8 663.8h0.8M406.2 666h1.4M406.8 668.2h0.8M406.8 670.5h0.8M406.8 672.8h0.8M406.8 675h0.8M406.2 677.2h1.4M406.8 679.5h0.8M406.8 681.8h0.8M406.8 684h0.8M407.6 686.4v1.4M409.6 686.4v0.8M411.5 686.4v0.8M413.5 686.4v0.8M415.4 686.4v0.8M417.4 686.4v1.4M419.4 686.4v0.8M421.3 686.4v0.8M423.3 686.4v0.8M425.2 686.4v0.8M427.2 686.4v1.4M429.2 686.4v0.8M431.1 686.4v0.8M433.1 686.4v0.8M435 686.4v0.8M437 686.4v1.4M439 686.4v0.8M440.9 686.4v0.8M442.9 686.4v0.8M444.8 686.4v0.8M446.8 686.4v1.4M448.8 686.4v0.8M450.7 686.4v0.8M452.7 686.4v0.8M454.6 686.4v0.8M456.6 686.4v1.4M458.6 686.4v0.8M460.5 686.4v0.8M462.5 686.4v0.8M464.4 686.4v0.8M466.4 686.4v1.4M468.4 686.4v0.8M470.3 686.4v0.8M472.3 686.4v0.8M474.2 686.4v0.8M476.2 686.4v1.4M478.2 686.4v0.8M480.1 686.4v0.8M482.1 686.4v0.8M484 686.4v0.8M486 686.4v1.4" stroke="#555" stroke-width="0.35"/>
<text x="407.6" y="691" font-size="2.4" text-anchor="middle" font-weight="400" fill="#666">0</text>
<text x="420.67" y="691" font-size="2.4" text-anchor="middle" font-weight="400" fill="#666">50</text>
<text x="433.73" y="691" font-size="2.4" text-anchor="middle" font-weight="400" fill="#666">100</text>
<text x="446.8" y="691" font-size="2.4" text-anchor="middle" font-weight="400" fill="#666">150</text>
<text x="459.87" y="691" font-size="2.4" text-anchor="middle" font-weight="400" fill="#666">200</text>
<text x="472.93" y="691" font-size="2.4" text-anchor="middle" font-weight="400" fill="#666">250</text>
<text x="486" y="691" font-size="2.4" text-anchor="middle" font-weight="400" fill="#666">300</text>
<text x="446.8" y="694" font-size="2.6" text-anchor="middle" font-weight="400" fill="#555">Channels (PE-A)</text>
<text x="405.6" y="675.15" font-size="2.4" text-anchor="middle" font-weight="400" fill="#666" transform="rotate(-90 405.6 675.15)">40</text>
<text x="405.6" y="662.89" font-size="2.4" text-anchor="middle" font-weight="400" fill="#666" transform="rotate(-90 405.6 662.89)">80</text>
<text x="405.6" y="650.64" font-size="2.4" text-anchor="middle" font-weight="400" fill="#666" transform="rotate(-90 405.6 650.64)">120</text>
<text x="405.6" y="638.38" font-size="2.4" text-anchor="middle" font-weight="400" fill="#666" transform="rotate(-90 405.6 638.38)">160</text>
<text x="405.6" y="626.13" font-size="2.4" text-anchor="middle" font-weight="400" fill="#666" transform="rotate(-90 405.6 626.13)">200</text>
<text x="402.6" y="652.7" font-size="2.6" text-anchor="middle" font-weight="400" fill="#555" transform="rotate(-90 402.6 652.7)">Number</text>
<path d="M432.1 686.4 432.1 686.3 432.6 686.3 433.1 686.3 433.6 686.2 434.1 686.2 434.6 686.1 435.1 686 435.6 685.8 436.1 685.6 436.6 685.3 437.1 684.9 437.6 684.4 438.1 683.8 438.6 683 439.1 682.1 439.6 681.2 440.1 680.2 440.6 679.3 441.1 678.4 441.6 677.7 442.1 677.1 442.6 676.7 443.1 676.3 443.6 676.1 444.1 675.9 444.6 675.8 445.1 675.8 445.6 675.8 446.1 675.8 446.6 675.9 447.1 675.9 447.6 676 448.1 676.1 448.6 676.2 449.1 676.3 449.6 676.4 450.1 676.5 450.6 676.6 451.1 676.7 451.6 676.8 452.1 676.9 452.6 677 453.1 677.1 453.6 677.2 454.1 677.3 454.6 677.4 455.1 677.5 455.6 677.6 456.1 677.7 456.6 677.8 457.1 677.9 457.6 678 458.1 678.1 458.6 678.2 459.1 678.3 459.6 678.4 460.1 678.5 460.6 678.6 461.1 678.7 461.6 678.8 462.1 678.9 462.6 679 463.1 679.1 463.6 679.2 464.1 679.3 464.6 679.5 465.1 679.6 465.6 679.7 466.1 679.8 466.6 679.9 467.1 680 467.6 680.1 468.1 680.2 468.6 680.3 469.1 680.4 469.6 680.5 470.1 680.6 470.6 680.7 471.1 680.8 471.6 681 472.1 681.1 472.6 681.2 473.1 681.4 473.6 681.6 474.1 681.7 474.6 682 475.1 682.2 475.6 682.5 476.1 682.8 476.6 683.2 477.1 683.6 477.6 684 478.1 684.4 478.6 684.7 479.1 685 479.6 685.3 480.1 685.6 480.6 685.8 481.1 685.9 481.6 686.1 482.1 686.1 482.6 686.2 483.1 686.3 483.6 686.3 484.1 686.3 484.6 686.3 484.6 686.4" fill="#dcdcdc" stroke="none" stroke-width="1"/>
<path d="M425.6 686.4 425.6 686.3 426.1 686.3 426.6 686.2 427.1 686.1 427.6 686 428.1 685.7 428.6 685.4 429.1 685 429.6 684.4 430.1 683.6 430.6 682.6 431.1 681.2 431.6 679.5 432.1 677.4 432.6 674.8 433.1 671.7 433.6 668.2 434.1 664.2 434.6 659.7 435.1 655 435.6 650 436.1 644.9 436.6 640 437.1 635.3 437.6 631.2 438.1 627.8 438.6 625.2 439.1 623.5 439.6 623 440.1 623.5 440.6 625.2 441.1 627.8 441.6 631.2 442.1 635.3 442.6 640 443.1 644.9 443.6 650 444.1 655 444.6 659.7 445.1 664.2 445.6 668.2 446.1 671.7 446.6 674.8 447.1 677.4 447.6 679.5 448.1 681.2 448.6 682.6 449.1 683.6 449.6 684.4 450.1 685 450.6 685.4 451.1 685.7 451.6 686 452.1 686.1 452.6 686.2 453.1 686.3 453.6 686.3 453.6 686.4" fill="#ee6a4f" stroke="none" stroke-width="1"/>
<path d="M449.1 686.4 449.1 686.3 449.6 686.3 450.1 686.3 450.6 686.3 451.1 686.3 451.6 686.2 452.1 686.2 452.6 686.2 453.1 686.1 453.6 686.1 454.1 686 454.6 686 455.1 685.9 455.6 685.8 456.1 685.8 456.6 685.7 457.1 685.6 457.6 685.5 458.1 685.4 458.6 685.3 459.1 685.2 459.6 685.1 460.1 685 460.6 684.9 461.1 684.9 461.6 684.8 462.1 684.7 462.6 684.6 463.1 684.6 463.6 684.6 464.1 684.5 464.6 684.5 465.1 684.5 465.6 684.5 466.1 684.5 466.6 684.6 467.1 684.6 467.6 684.7 468.1 684.7 468.6 684.8 469.1 684.9 469.6 685 470.1 685.1 470.6 685.2 471.1 685.3 471.6 685.4 472.1 685.5 472.6 685.5 473.1 685.6 473.6 685.7 474.1 685.8 474.6 685.9 475.1 685.9 475.6 686 476.1 686.1 476.6 686.1 477.1 686.2 477.6 686.2 478.1 686.2 478.6 686.3 479.1 686.3 479.6 686.3 480.1 686.3 480.6 686.3 481.1 686.3 481.1 686.4" fill="#ee6a4f" stroke="none" stroke-width="1"/>
<path d="M432.1 686.4 432.1 686.3 432.6 686.3 433.1 686.3 433.6 686.2 434.1 686.2 434.6 686.1 435.1 686 435.6 685.8 436.1 685.6 436.6 685.3 437.1 684.9 437.6 684.4 438.1 683.8 438.6 683 439.1 682.1 439.6 681.2 440.1 680.2 440.6 679.3 441.1 678.4 441.6 677.7 442.1 677.1 442.6 676.7 443.1 676.3 443.6 676.1 444.1 675.9 444.6 675.8 445.1 675.8 445.6 675.8 446.1 675.8 446.6 675.9 447.1 675.9 447.6 676 448.1 676.1 448.6 676.2 449.1 676.3 449.6 676.4 450.1 676.5 450.6 676.6 451.1 676.7 451.6 676.8 452.1 676.9 452.6 677 453.1 677.1 453.6 677.2 454.1 677.3 454.6 677.4 455.1 677.5 455.6 677.6 456.1 677.7 456.6 677.8 457.1 677.9 457.6 678 458.1 678.1 458.6 678.2 459.1 678.3 459.6 678.4 460.1 678.5 460.6 678.6 461.1 678.7 461.6 678.8 462.1 678.9 462.6 679 463.1 679.1 463.6 679.2 464.1 679.3 464.6 679.5 465.1 679.6 465.6 679.7 466.1 679.8 466.6 679.9 467.1 680 467.6 680.1 468.1 680.2 468.6 680.3 469.1 680.4 469.6 680.5 470.1 680.6 470.6 680.7 471.1 680.8 471.6 681 472.1 681.1 472.6 681.2 473.1 681.4 473.6 681.6 474.1 681.7 474.6 682 475.1 682.2 475.6 682.5 476.1 682.8 476.6 683.2 477.1 683.6 477.6 684 478.1 684.4 478.6 684.7 479.1 685 479.6 685.3 480.1 685.6 480.6 685.8 481.1 685.9 481.6 686.1 482.1 686.1 482.6 686.2 483.1 686.3 483.6 686.3 484.1 686.3 484.6 686.3 484.6 686.4" fill="url(#hatch)" stroke="none" stroke-width="1"/>
<path d="M408.1 686.4 408.6 686.4 409.1 686.4 409.6 686.4 410.1 686.4 410.6 686.4 411.1 686.4 411.6 686.4 412.1 686.4 412.6 686.4 413.1 686.4 413.6 686.4 414.1 686.4 414.6 686.4 415.1 686.4 415.6 686.4 416.1 686.4 416.6 686.4 417.1 686.4 417.6 686.4 418.1 686.4 418.6 686.4 419.1 686.4 419.6 686.4 420.1 686.4 420.6 686.4 421.1 686.4 421.6 686.4 422.1 686.4 422.6 686.4 423.1 686.4 423.6 686.4 424.1 686.4 424.6 686.4 425.1 686.4 425.6 686.3 426.1 686.3 426.6 686.2 427.1 686.1 427.6 686 428.1 685.8 428.6 685.5 429.1 685.1 429.6 684.5 430.1 683.8 430.6 682.8 431.1 681.5 431.6 679.9 432.1 677.9 432.6 675.5 433.1 672.6 433.6 669.2 434.1 665.4 434.6 661.2 435.1 656.6 435.6 651.8 436.1 646.8 436.6 642 437.1 637.7 437.6 632.5 438.1 628.6 438.6 625.1 439.1 622.9 439.6 621.4 440.1 621 440.6 621 441.1 622 441.6 623.7 442.1 626.2 442.6 628.7 443.1 631.7 443.6 635.9 444.1 639.7 444.6 643.6 445.1 646.5 445.6 649.1 446.1 652.5 446.6 654.8 447.1 657.6 447.6 660.3 448.1 661.8 448.6 663.8 449.1 665.8 449.6 667.3 450.1 668.9 450.6 670.1 451.1 671.2 451.6 672.3 452.1 673 452.6 674.1 453.1 675.2 453.6 676 454.1 676.6 454.6 676.6 455.1 676.8 455.6 676.5 456.1 676.7 456.6 676.6 457.1 676.2 457.6 677.1 458.1 677.7 458.6 677.9 459.1 677.7 459.6 677.3 460.1 676.9 460.6 677.2 461.1 676.5 461.6 677.3 462.1 676.8 462.6 677.2 463.1 676.7 463.6 677.4 464.1 676.7 464.6 676.5 465.1 676.1 465.6 676.4 466.1 677.1 466.6 676.6 467.1 677 467.6 677.7 468.1 677.6 468.6 677.7 469.1 677.9 469.6 678.4 470.1 678.9 470.6 678.7 471.1 678.8 471.6 679.4 472.1 679.4 472.6 679.2 473.1 679.2 473.6 679.6 474.1 680 474.6 680.5 475.1 681.1 475.6 681.6 476.1 681.8 476.6 682.5 477.1 682.4 477.6 682.6 478.1 683 478.6 684.1 479.1 684.5 479.6 684.8 480.1 684.8 480.6 685 481.1 685.3 481.6 685.5 482.1 685.7 482.6 685.8 483.1 685.9 483.6 686 484.1 686.1 484.6 686.2 485.1 686.2" fill="none" stroke="#111" stroke-width="0.55"/>
<line x1="493.6" y1="619" x2="493.6" y2="687" stroke="#333" stroke-width="0.6"/>
<line x1="493.6" y1="687" x2="572" y2="687" stroke="#333" stroke-width="0.6"/>
<path d="M492.2 621h1.4M492.8 623.2h0.8M492.8 625.5h0.8M492.8 627.8h0.8M492.8 630h0.8M492.2 632.2h1.4M492.8 634.5h0.8M492.8 636.8h0.8M492.8 639h0.8M492.8 641.2h0.8M492.2 643.5h1.4M492.8 645.8h0.8M492.8 648h0.8M492.8 650.2h0.8M492.8 652.5h0.8M492.2 654.8h1.4M492.8 657h0.8M492.8 659.2h0.8M492.8 661.5h0.8M492.8 663.8h0.8M492.2 666h1.4M492.8 668.2h0.8M492.8 670.5h0.8M492.8 672.8h0.8M492.8 675h0.8M492.2 677.2h1.4M492.8 679.5h0.8M492.8 681.8h0.8M492.8 684h0.8M493.6 687v1.4M495.6 687v0.8M497.5 687v0.8M499.5 687v0.8M501.4 687v0.8M503.4 687v1.4M505.4 687v0.8M507.3 687v0.8M509.3 687v0.8M511.2 687v0.8M513.2 687v1.4M515.2 687v0.8M517.1 687v0.8M519.1 687v0.8M521 687v0.8M523 687v1.4M525 687v0.8M526.9 687v0.8M528.9 687v0.8M530.8 687v0.8M532.8 687v1.4M534.8 687v0.8M536.7 687v0.8M538.7 687v0.8M540.6 687v0.8M542.6 687v1.4M544.6 687v0.8M546.5 687v0.8M548.5 687v0.8M550.4 687v0.8M552.4 687v1.4M554.4 687v0.8M556.3 687v0.8M558.3 687v0.8M560.2 687v0.8M562.2 687v1.4M564.2 687v0.8M566.1 687v0.8M568.1 687v0.8M570 687v0.8M572 687v1.4" stroke="#555" stroke-width="0.35"/>
<text x="493.6" y="691.6" font-size="2.4" text-anchor="middle" font-weight="400" fill="#666">0</text>
<text x="506.67" y="691.6" font-size="2.4" text-anchor="middle" font-weight="400" fill="#666">50</text>
<text x="519.73" y="691.6" font-size="2.4" text-anchor="middle" font-weight="400" fill="#666">100</text>
<text x="532.8" y="691.6" font-size="2.4" text-anchor="middle" font-weight="400" fill="#666">150</text>
<text x="545.87" y="691.6" font-size="2.4" text-anchor="middle" font-weight="400" fill="#666">200</text>
<text x="558.93" y="691.6" font-size="2.4" text-anchor="middle" font-weight="400" fill="#666">250</text>
<text x="572" y="691.6" font-size="2.4" text-anchor="middle" font-weight="400" fill="#666">300</text>
<text x="532.8" y="694.6" font-size="2.6" text-anchor="middle" font-weight="400" fill="#555">Channels (PE-A)</text>
<text x="491.6" y="675.64" font-size="2.4" text-anchor="middle" font-weight="400" fill="#666" transform="rotate(-90 491.6 675.64)">40</text>
<text x="491.6" y="663.27" font-size="2.4" text-anchor="middle" font-weight="400" fill="#666" transform="rotate(-90 491.6 663.27)">80</text>
<text x="491.6" y="650.91" font-size="2.4" text-anchor="middle" font-weight="400" fill="#666" transform="rotate(-90 491.6 650.91)">120</text>
<text x="491.6" y="638.55" font-size="2.4" text-anchor="middle" font-weight="400" fill="#666" transform="rotate(-90 491.6 638.55)">160</text>
<text x="491.6" y="626.18" font-size="2.4" text-anchor="middle" font-weight="400" fill="#666" transform="rotate(-90 491.6 626.18)">200</text>
<text x="488.6" y="653" font-size="2.6" text-anchor="middle" font-weight="400" fill="#555" transform="rotate(-90 488.6 653)">Number</text>
<path d="M517.1 687 517.1 686.9 517.6 686.9 518.1 686.9 518.6 686.8 519.1 686.8 519.6 686.7 520.1 686.6 520.6 686.4 521.1 686.2 521.6 686 522.1 685.6 522.6 685.2 523.1 684.6 523.6 683.9 524.1 683.1 524.6 682.2 525.1 681.3 525.6 680.5 526.1 679.7 526.6 679 527.1 678.5 527.6 678.1 528.1 677.8 528.6 677.6 529.1 677.4 529.6 677.3 530.1 677.3 530.6 677.3 531.1 677.3 531.6 677.4 532.1 677.5 532.6 677.5 533.1 677.6 533.6 677.7 534.1 677.8 534.6 677.9 535.1 678 535.6 678.1 536.1 678.2 536.6 678.2 537.1 678.3 537.6 678.4 538.1 678.5 538.6 678.6 539.1 678.7 539.6 678.8 540.1 678.9 540.6 679 541.1 679.1 541.6 679.2 542.1 679.3 542.6 679.4 543.1 679.5 543.6 679.6 544.1 679.7 544.6 679.8 545.1 679.9 545.6 680 546.1 680.1 546.6 680.2 547.1 680.3 547.6 680.4 548.1 680.5 548.6 680.6 549.1 680.7 549.6 680.8 550.1 680.9 550.6 681 551.1 681 551.6 681.1 552.1 681.2 552.6 681.3 553.1 681.4 553.6 681.5 554.1 681.7 554.6 681.8 555.1 681.9 555.6 682 556.1 682.1 556.6 682.2 557.1 682.4 557.6 682.5 558.1 682.7 558.6 682.9 559.1 683.1 559.6 683.4 560.1 683.7 560.6 684 561.1 684.4 561.6 684.8 562.1 685.1 562.6 685.5 563.1 685.8 563.6 686 564.1 686.2 564.6 686.4 565.1 686.6 565.6 686.7 566.1 686.8 566.6 686.8 567.1 686.9 567.6 686.9 568.1 686.9 568.1 687" fill="#dcdcdc" stroke="none" stroke-width="1"/>
<path d="M508.1 687 508.1 686.9 508.6 686.9 509.1 686.8 509.6 686.8 510.1 686.6 510.6 686.5 511.1 686.2 511.6 685.9 512.1 685.4 512.6 684.8 513.1 683.9 513.6 682.8 514.1 681.4 514.6 679.7 515.1 677.6 515.6 675 516.1 672 516.6 668.6 517.1 664.8 517.6 660.6 518.1 656.2 518.6 651.5 519.1 646.9 519.6 642.4 520.1 638.1 520.6 634.4 521.1 631.3 521.6 628.9 522.1 627.5 522.6 627 523.1 627.5 523.6 628.9 524.1 631.3 524.6 634.4 525.1 638.1 525.6 642.4 526.1 646.9 526.6 651.5 527.1 656.2 527.6 660.6 528.1 664.8 528.6 668.6 529.1 672 529.6 675 530.1 677.6 530.6 679.7 531.1 681.4 531.6 682.8 532.1 683.9 532.6 684.8 533.1 685.4 533.6 685.9 534.1 686.2 534.6 686.5 535.1 686.6 535.6 686.8 536.1 686.8 536.6 686.9 537.1 686.9 537.1 687" fill="#ee6a4f" stroke="none" stroke-width="1"/>
<path d="M534.1 687 534.1 686.9 534.6 686.9 535.1 686.9 535.6 686.9 536.1 686.9 536.6 686.8 537.1 686.8 537.6 686.8 538.1 686.7 538.6 686.7 539.1 686.6 539.6 686.6 540.1 686.5 540.6 686.4 541.1 686.3 541.6 686.2 542.1 686.2 542.6 686.1 543.1 686 543.6 685.9 544.1 685.8 544.6 685.7 545.1 685.6 545.6 685.5 546.1 685.4 546.6 685.3 547.1 685.2 547.6 685.2 548.1 685.1 548.6 685.1 549.1 685 549.6 685 550.1 685 550.6 685 551.1 685 551.6 685.1 552.1 685.1 552.6 685.2 553.1 685.2 553.6 685.3 554.1 685.4 554.6 685.5 555.1 685.6 555.6 685.7 556.1 685.8 556.6 685.9 557.1 686 557.6 686.1 558.1 686.2 558.6 686.3 559.1 686.4 559.6 686.4 560.1 686.5 560.6 686.6 561.1 686.6 561.6 686.7 562.1 686.7 562.6 686.8 563.1 686.8 563.6 686.8 564.1 686.9 564.6 686.9 565.1 686.9 565.6 686.9 566.1 686.9 566.1 687" fill="#ee6a4f" stroke="none" stroke-width="1"/>
<path d="M517.1 687 517.1 686.9 517.6 686.9 518.1 686.9 518.6 686.8 519.1 686.8 519.6 686.7 520.1 686.6 520.6 686.4 521.1 686.2 521.6 686 522.1 685.6 522.6 685.2 523.1 684.6 523.6 683.9 524.1 683.1 524.6 682.2 525.1 681.3 525.6 680.5 526.1 679.7 526.6 679 527.1 678.5 527.6 678.1 528.1 677.8 528.6 677.6 529.1 677.4 529.6 677.3 530.1 677.3 530.6 677.3 531.1 677.3 531.6 677.4 532.1 677.5 532.6 677.5 533.1 677.6 533.6 677.7 534.1 677.8 534.6 677.9 535.1 678 535.6 678.1 536.1 678.2 536.6 678.2 537.1 678.3 537.6 678.4 538.1 678.5 538.6 678.6 539.1 678.7 539.6 678.8 540.1 678.9 540.6 679 541.1 679.1 541.6 679.2 542.1 679.3 542.6 679.4 543.1 679.5 543.6 679.6 544.1 679.7 544.6 679.8 545.1 679.9 545.6 680 546.1 680.1 546.6 680.2 547.1 680.3 547.6 680.4 548.1 680.5 548.6 680.6 549.1 680.7 549.6 680.8 550.1 680.9 550.6 681 551.1 681 551.6 681.1 552.1 681.2 552.6 681.3 553.1 681.4 553.6 681.5 554.1 681.7 554.6 681.8 555.1 681.9 555.6 682 556.1 682.1 556.6 682.2 557.1 682.4 557.6 682.5 558.1 682.7 558.6 682.9 559.1 683.1 559.6 683.4 560.1 683.7 560.6 684 561.1 684.4 561.6 684.8 562.1 685.1 562.6 685.5 563.1 685.8 563.6 686 564.1 686.2 564.6 686.4 565.1 686.6 565.6 686.7 566.1 686.8 566.6 686.8 567.1 686.9 567.6 686.9 568.1 686.9 568.1 687" fill="url(#hatch)" stroke="none" stroke-width="1"/>
<path d="M494.1 687 494.6 687 495.1 687 495.6 687 496.1 687 496.6 687 497.1 687 497.6 687 498.1 687 498.6 687 499.1 687 499.6 687 500.1 687 500.6 687 501.1 687 501.6 687 502.1 687 502.6 687 503.1 687 503.6 687 504.1 687 504.6 687 505.1 687 505.6 687 506.1 687 506.6 687 507.1 687 507.6 687 508.1 686.9 508.6 686.9 509.1 686.9 509.6 686.8 510.1 686.7 510.6 686.5 511.1 686.2 511.6 685.9 512.1 685.4 512.6 684.8 513.1 683.9 513.6 682.9 514.1 681.5 514.6 679.8 515.1 677.7 515.6 675.1 516.1 672.2 516.6 668.8 517.1 665 517.6 660.8 518.1 656.4 518.6 651.7 519.1 647 519.6 642.4 520.1 638 520.6 634 521.1 631.1 521.6 627.5 522.1 625.5 522.6 624.3 523.1 623.6 523.6 624.4 524.1 625.1 524.6 626.9 525.1 628.6 525.6 630.4 526.1 633.9 526.6 636.6 527.1 639.4 527.6 642.9 528.1 646 528.6 648 529.1 650.2 529.6 653.6 530.1 655.7 530.6 657.6 531.1 660.3 531.6 662.2 532.1 664.8 532.6 666.6 533.1 667.9 533.6 669.4 534.1 670.5 534.6 672.5 535.1 673.7 535.6 674.1 536.1 675 536.6 675.9 537.1 676.6 537.6 676.5 538.1 677 538.6 678 539.1 677.8 539.6 678.2 540.1 678.4 540.6 678.7 541.1 678.7 541.6 678.8 542.1 679.1 542.6 678.7 543.1 679.1 543.6 678.5 544.1 679 544.6 678.4 545.1 678 545.6 678.1 546.1 677.9 546.6 678.4 547.1 678 547.6 678.2 548.1 678.5 548.6 677.8 549.1 678.1 549.6 678.3 550.1 677.9 550.6 678.2 551.1 678.1 551.6 678.6 552.1 678.2 552.6 678.7 553.1 679.3 553.6 678.6 554.1 679.3 554.6 678.8 555.1 678.6 555.6 679 556.1 680 556.6 680.7 557.1 681 557.6 681.1 558.1 681 558.6 680.6 559.1 681.3 559.6 682.1 560.1 682.2 560.6 683 561.1 683.8 561.6 683.8 562.1 683.8 562.6 684.8 563.1 685 563.6 684.9 564.1 685.2 564.6 685.5 565.1 685.8 565.6 686 566.1 686.1 566.6 686.3 567.1 686.4 567.6 686.5 568.1 686.6 568.6 686.7 569.1 686.7 569.6 686.8 570.1 686.8 570.6 686.9 571.1 686.9" fill="none" stroke="#111" stroke-width="0.55"/>
<text x="434" y="720.4" font-size="9">MCF7</text>
<text x="351" y="733" font-size="6.2">siNC</text>
<text x="428" y="733" font-size="6.1">siTRIM25#1</text>
<text x="513" y="733" font-size="6.1">siTRIM25#2</text>
<line x1="313.4" y1="736.4" x2="313.4" y2="815" stroke="#000" stroke-width="0.9"/>
<line x1="313.4" y1="815" x2="576.6" y2="815" stroke="#000" stroke-width="0.9"/>
<path d="M313.4 734.4 311.8 738.4 315 738.4" fill="#000" stroke="none" stroke-width="1"/>
<path d="M578.6 815 574.6 813.4 574.6 816.6" fill="#000" stroke="none" stroke-width="1"/>
<text x="309.6" y="754.5" font-size="5.7" text-anchor="middle" transform="rotate(-90 309.6 754.5)">Cell number</text>
<text x="539" y="822" font-size="5.7">DNA content</text>
<line x1="321.6" y1="739" x2="321.6" y2="807.6" stroke="#333" stroke-width="0.6"/>
<line x1="321.6" y1="807.6" x2="399.4" y2="807.6" stroke="#333" stroke-width="0.6"/>
<path d="M320.2 741h1.4M320.8 743.2h0.8M320.8 745.5h0.8M320.8 747.8h0.8M320.8 750h0.8M320.2 752.2h1.4M320.8 754.5h0.8M320.8 756.8h0.8M320.8 759h0.8M320.8 761.2h0.8M320.2 763.5h1.4M320.8 765.8h0.8M320.8 768h0.8M320.8 770.2h0.8M320.8 772.5h0.8M320.2 774.8h1.4M320.8 777h0.8M320.8 779.2h0.8M320.8 781.5h0.8M320.8 783.8h0.8M320.2 786h1.4M320.8 788.2h0.8M320.8 790.5h0.8M320.8 792.8h0.8M320.8 795h0.8M320.2 797.2h1.4M320.8 799.5h0.8M320.8 801.8h0.8M320.8 804h0.8M320.8 806.2h0.8M321.6 807.6v1.4M323.5 807.6v0.8M325.5 807.6v0.8M327.4 807.6v0.8M329.4 807.6v0.8M331.3 807.6v1.4M333.3 807.6v0.8M335.2 807.6v0.8M337.2 807.6v0.8M339.1 807.6v0.8M341 807.6v1.4M343 807.6v0.8M344.9 807.6v0.8M346.9 807.6v0.8M348.8 807.6v0.8M350.8 807.6v1.4M352.7 807.6v0.8M354.7 807.6v0.8M356.6 807.6v0.8M358.6 807.6v0.8M360.5 807.6v1.4M362.4 807.6v0.8M364.4 807.6v0.8M366.3 807.6v0.8M368.3 807.6v0.8M370.2 807.6v1.4M372.2 807.6v0.8M374.1 807.6v0.8M376.1 807.6v0.8M378 807.6v0.8M379.9 807.6v1.4M381.9 807.6v0.8M383.8 807.6v0.8M385.8 807.6v0.8M387.7 807.6v0.8M389.7 807.6v1.4M391.6 807.6v0.8M393.6 807.6v0.8M395.5 807.6v0.8M397.5 807.6v0.8M399.4 807.6v1.4" stroke="#555" stroke-width="0.35"/>
<text x="321.6" y="812.2" font-size="2.4" text-anchor="middle" font-weight="400" fill="#666">0</text>
<text x="334.57" y="812.2" font-size="2.4" text-anchor="middle" font-weight="400" fill="#666">50</text>
<text x="347.53" y="812.2" font-size="2.4" text-anchor="middle" font-weight="400" fill="#666">100</text>
<text x="360.5" y="812.2" font-size="2.4" text-anchor="middle" font-weight="400" fill="#666">150</text>
<text x="373.47" y="812.2" font-size="2.4" text-anchor="middle" font-weight="400" fill="#666">200</text>
<text x="386.43" y="812.2" font-size="2.4" text-anchor="middle" font-weight="400" fill="#666">250</text>
<text x="399.4" y="812.2" font-size="2.4" text-anchor="middle" font-weight="400" fill="#666">300</text>
<text x="360.5" y="815.2" font-size="2.6" text-anchor="middle" font-weight="400" fill="#555">Channels (PE-A)</text>
<text x="319.6" y="796.13" font-size="2.4" text-anchor="middle" font-weight="400" fill="#666" transform="rotate(-90 319.6 796.13)">40</text>
<text x="319.6" y="783.65" font-size="2.4" text-anchor="middle" font-weight="400" fill="#666" transform="rotate(-90 319.6 783.65)">80</text>
<text x="319.6" y="771.18" font-size="2.4" text-anchor="middle" font-weight="400" fill="#666" transform="rotate(-90 319.6 771.18)">120</text>
<text x="319.6" y="758.71" font-size="2.4" text-anchor="middle" font-weight="400" fill="#666" transform="rotate(-90 319.6 758.71)">160</text>
<text x="319.6" y="746.24" font-size="2.4" text-anchor="middle" font-weight="400" fill="#666" transform="rotate(-90 319.6 746.24)">200</text>
<text x="316.6" y="773.3" font-size="2.6" text-anchor="middle" font-weight="400" fill="#555" transform="rotate(-90 316.6 773.3)">Number</text>
<path d="M332.1 807.6 332.1 807.5 332.6 807.5 333.1 807.5 333.6 807.4 334.1 807.4 334.6 807.3 335.1 807.2 335.6 807 336.1 806.8 336.6 806.6 337.1 806.3 337.6 805.9 338.1 805.5 338.6 805 339.1 804.5 339.6 804 340.1 803.6 340.6 803.2 341.1 802.9 341.6 802.7 342.1 802.5 342.6 802.3 343.1 802.2 343.6 802.2 344.1 802.1 344.6 802.1 345.1 802.1 345.6 802.1 346.1 802.2 346.6 802.2 347.1 802.2 347.6 802.2 348.1 802.3 348.6 802.3 349.1 802.3 349.6 802.4 350.1 802.4 350.6 802.4 351.1 802.5 351.6 802.5 352.1 802.5 352.6 802.6 353.1 802.6 353.6 802.7 354.1 802.7 354.6 802.7 355.1 802.8 355.6 802.8 356.1 802.9 356.6 802.9 357.1 802.9 357.6 803 358.1 803.1 358.6 803.1 359.1 803.2 359.6 803.3 360.1 803.4 360.6 803.6 361.1 803.7 361.6 804 362.1 804.2 362.6 804.5 363.1 804.8 363.6 805.2 364.1 805.6 364.6 805.9 365.1 806.2 365.6 806.5 366.1 806.8 366.6 807 367.1 807.1 367.6 807.3 368.1 807.3 368.6 807.4 369.1 807.5 369.6 807.5 370.1 807.5 370.6 807.5 370.6 807.6" fill="#dcdcdc" stroke="none" stroke-width="1"/>
<path d="M329.6 807.6 329.6 807.5 330.1 807.5 330.6 807.4 331.1 807.2 331.6 807 332.1 806.6 332.6 806 333.1 805.2 333.6 804 334.1 802.4 334.6 800.2 335.1 797.4 335.6 794 336.1 789.9 336.6 785.2 337.1 780 337.6 774.5 338.1 769 338.6 763.9 339.1 759.4 339.6 756 340.1 753.8 340.6 753 341.1 753.8 341.6 756 342.1 759.4 342.6 763.9 343.1 769 343.6 774.5 344.1 780 344.6 785.2 345.1 789.9 345.6 794 346.1 797.4 346.6 800.2 347.1 802.4 347.6 804 348.1 805.2 348.6 806 349.1 806.6 349.6 807 350.1 807.2 350.6 807.4 351.1 807.5 351.6 807.5 351.6 807.6" fill="#ee6a4f" stroke="none" stroke-width="1"/>
<path d="M343.1 807.6 343.1 807.5 343.6 807.5 344.1 807.5 344.6 807.4 345.1 807.4 345.6 807.3 346.1 807.3 346.6 807.2 347.1 807.1 347.6 806.9 348.1 806.8 348.6 806.6 349.1 806.3 349.6 806.1 350.1 805.8 350.6 805.5 351.1 805.1 351.6 804.7 352.1 804.3 352.6 803.9 353.1 803.4 353.6 803 354.1 802.5 354.6 802.1 355.1 801.7 355.6 801.3 356.1 800.9 356.6 800.6 357.1 800.3 357.6 800.2 358.1 800 358.6 800 359.1 800 359.6 800.2 360.1 800.3 360.6 800.6 361.1 800.9 361.6 801.3 362.1 801.7 362.6 802.1 363.1 802.5 363.6 803 364.1 803.4 364.6 803.9 365.1 804.3 365.6 804.7 366.1 805.1 366.6 805.5 367.1 805.8 367.6 806.1 368.1 806.3 368.6 806.6 369.1 806.8 369.6 806.9 370.1 807.1 370.6 807.2 371.1 807.3 371.6 807.3 372.1 807.4 372.6 807.4 373.1 807.5 373.6 807.5 374.1 807.5 374.1 807.6" fill="#ee6a4f" stroke="none" stroke-width="1"/>
<path d="M332.1 807.6 332.1 807.5 332.6 807.5 333.1 807.5 333.6 807.4 334.1 807.4 334.6 807.3 335.1 807.2 335.6 807 336.1 806.8 336.6 806.6 337.1 806.3 337.6 805.9 338.1 805.5 338.6 805 339.1 804.5 339.6 804 340.1 803.6 340.6 803.2 341.1 802.9 341.6 802.7 342.1 802.5 342.6 802.3 343.1 802.2 343.6 802.2 344.1 802.1 344.6 802.1 345.1 802.1 345.6 802.1 346.1 802.2 346.6 802.2 347.1 802.2 347.6 802.2 348.1 802.3 348.6 802.3 349.1 802.3 349.6 802.4 350.1 802.4 350.6 802.4 351.1 802.5 351.6 802.5 352.1 802.5 352.6 802.6 353.1 802.6 353.6 802.7 354.1 802.7 354.6 802.7 355.1 802.8 355.6 802.8 356.1 802.9 356.6 802.9 357.1 802.9 357.6 803 358.1 803.1 358.6 803.1 359.1 803.2 359.6 803.3 360.1 803.4 360.6 803.6 361.1 803.7 361.6 804 362.1 804.2 362.6 804.5 363.1 804.8 363.6 805.2 364.1 805.6 364.6 805.9 365.1 806.2 365.6 806.5 366.1 806.8 366.6 807 367.1 807.1 367.6 807.3 368.1 807.3 368.6 807.4 369.1 807.5 369.6 807.5 370.1 807.5 370.6 807.5 370.6 807.6" fill="url(#hatch)" stroke="none" stroke-width="1"/>
<path d="M322.1 807.6 322.6 807.6 323.1 807.6 323.6 807.6 324.1 807.6 324.6 807.6 325.1 807.6 325.6 807.6 326.1 807.6 326.6 807.6 327.1 807.6 327.6 807.6 328.1 807.6 328.6 807.6 329.1 807.6 329.6 807.5 330.1 807.5 330.6 807.4 331.1 807.2 331.6 807 332.1 806.6 332.6 806 333.1 805.1 333.6 803.9 334.1 802.2 334.6 799.9 335.1 797 335.6 793.4 336.1 789.1 336.6 784.9 337.1 778.5 337.6 772.8 338.1 766.8 338.6 760.4 339.1 755.6 339.6 751.4 340.1 748.7 340.6 748 341.1 748.2 341.6 749.8 342.1 753.8 342.6 758.5 343.1 763.6 343.6 769.6 344.1 774.8 344.6 779.4 345.1 783.9 345.6 788.1 346.1 791.1 346.6 794.5 347.1 796.4 347.6 798.1 348.1 799 348.6 800.1 349.1 800 349.6 800.7 350.1 800.9 350.6 800.1 351.1 799.3 351.6 799.3 352.1 799.2 352.6 799.1 353.1 798.8 353.6 798.1 354.1 798 354.6 797.8 355.1 797.1 355.6 796.9 356.1 796.1 356.6 795.3 357.1 794.8 357.6 794.8 358.1 795 358.6 795 359.1 795.6 359.6 795.2 360.1 795.6 360.6 796.1 361.1 796.8 361.6 797.1 362.1 797.4 362.6 798.2 363.1 798.4 363.6 799.1 364.1 800.4 364.6 801.1 365.1 801.3 365.6 802.2 366.1 802.8 366.6 804 367.1 804.4 367.6 804.7 368.1 805.1 368.6 805.4 369.1 805.4 369.6 805.6 370.1 805.8 370.6 805.9 371.1 806 371.6 806.1 372.1 806.2 372.6 806.2 373.1 806.3 373.6 806.3 374.1 806.3 374.6 806.4 375.1 806.4 375.6 806.4 376.1 806.4 376.6 806.4 377.1 806.4 377.6 806.4 378.1 806.4 378.6 806.4 379.1 806.4 379.6 806.4 380.1 806.4 380.6 806.5 381.1 806.5 381.6 806.5 382.1 806.5 382.6 806.5 383.1 806.6 383.6 806.6 384.1 806.7 384.6 806.7 385.1 806.8 385.6 806.9 386.1 806.9 386.6 807 387.1 807.1 387.6 807.1 388.1 807.2 388.6 807.3 389.1 807.3 389.6 807.4 390.1 807.4 390.6 807.5 391.1 807.5 391.6 807.5 392.1 807.5 392.6 807.5 393.1 807.6 393.6 807.6 394.1 807.6 394.6 807.6 395.1 807.6 395.6 807.6 396.1 807.6 396.6 807.6 397.1 807.6 397.6 807.6 398.1 807.6 398.6 807.6" fill="none" stroke="#111" stroke-width="0.55"/>
<line x1="409" y1="739" x2="409" y2="807.6" stroke="#333" stroke-width="0.6"/>
<line x1="409" y1="807.6" x2="486.4" y2="807.6" stroke="#333" stroke-width="0.6"/>
<path d="M407.6 741h1.4M408.2 743.2h0.8M408.2 745.5h0.8M408.2 747.8h0.8M408.2 750h0.8M407.6 752.2h1.4M408.2 754.5h0.8M408.2 756.8h0.8M408.2 759h0.8M408.2 761.2h0.8M407.6 763.5h1.4M408.2 765.8h0.8M408.2 768h0.8M408.2 770.2h0.8M408.2 772.5h0.8M407.6 774.8h1.4M408.2 777h0.8M408.2 779.2h0.8M408.2 781.5h0.8M408.2 783.8h0.8M407.6 786h1.4M408.2 788.2h0.8M408.2 790.5h0.8M408.2 792.8h0.8M408.2 795h0.8M407.6 797.2h1.4M408.2 799.5h0.8M408.2 801.8h0.8M408.2 804h0.8M408.2 806.2h0.8M409 807.6v1.4M410.9 807.6v0.8M412.9 807.6v0.8M414.8 807.6v0.8M416.7 807.6v0.8M418.7 807.6v1.4M420.6 807.6v0.8M422.5 807.6v0.8M424.5 807.6v0.8M426.4 807.6v0.8M428.4 807.6v1.4M430.3 807.6v0.8M432.2 807.6v0.8M434.2 807.6v0.8M436.1 807.6v0.8M438 807.6v1.4M440 807.6v0.8M441.9 807.6v0.8M443.8 807.6v0.8M445.8 807.6v0.8M447.7 807.6v1.4M449.6 807.6v0.8M451.6 807.6v0.8M453.5 807.6v0.8M455.4 807.6v0.8M457.4 807.6v1.4M459.3 807.6v0.8M461.2 807.6v0.8M463.2 807.6v0.8M465.1 807.6v0.8M467.1 807.6v1.4M469 807.6v0.8M470.9 807.6v0.8M472.9 807.6v0.8M474.8 807.6v0.8M476.7 807.6v1.4M478.7 807.6v0.8M480.6 807.6v0.8M482.5 807.6v0.8M484.5 807.6v0.8M486.4 807.6v1.4" stroke="#555" stroke-width="0.35"/>
<text x="409" y="812.2" font-size="2.4" text-anchor="middle" font-weight="400" fill="#666">0</text>
<text x="421.9" y="812.2" font-size="2.4" text-anchor="middle" font-weight="400" fill="#666">50</text>
<text x="434.8" y="812.2" font-size="2.4" text-anchor="middle" font-weight="400" fill="#666">100</text>
<text x="447.7" y="812.2" font-size="2.4" text-anchor="middle" font-weight="400" fill="#666">150</text>
<text x="460.6" y="812.2" font-size="2.4" text-anchor="middle" font-weight="400" fill="#666">200</text>
<text x="473.5" y="812.2" font-size="2.4" text-anchor="middle" font-weight="400" fill="#666">250</text>
<text x="486.4" y="812.2" font-size="2.4" text-anchor="middle" font-weight="400" fill="#666">300</text>
<text x="447.7" y="815.2" font-size="2.6" text-anchor="middle" font-weight="400" fill="#555">Channels (PE-A)</text>
<text x="407" y="796.13" font-size="2.4" text-anchor="middle" font-weight="400" fill="#666" transform="rotate(-90 407 796.13)">40</text>
<text x="407" y="783.65" font-size="2.4" text-anchor="middle" font-weight="400" fill="#666" transform="rotate(-90 407 783.65)">80</text>
<text x="407" y="771.18" font-size="2.4" text-anchor="middle" font-weight="400" fill="#666" transform="rotate(-90 407 771.18)">120</text>
<text x="407" y="758.71" font-size="2.4" text-anchor="middle" font-weight="400" fill="#666" transform="rotate(-90 407 758.71)">160</text>
<text x="407" y="746.24" font-size="2.4" text-anchor="middle" font-weight="400" fill="#666" transform="rotate(-90 407 746.24)">200</text>
<text x="404" y="773.3" font-size="2.6" text-anchor="middle" font-weight="400" fill="#555" transform="rotate(-90 404 773.3)">Number</text>
<path d="M430.5 807.6 430.5 807.5 431 807.5 431.5 807.5 432 807.4 432.5 807.4 433 807.3 433.5 807.1 434 807 434.5 806.7 435 806.4 435.5 806 436 805.5 436.5 804.9 437 804.2 437.5 803.4 438 802.6 438.5 801.8 439 801.1 439.5 800.4 440 799.9 440.5 799.5 441 799.1 441.5 798.9 442 798.7 442.5 798.6 443 798.5 443.5 798.5 444 798.5 444.5 798.5 445 798.6 445.5 798.6 446 798.6 446.5 798.7 447 798.7 447.5 798.8 448 798.9 448.5 798.9 449 799 449.5 799 450 799.1 450.5 799.2 451 799.2 451.5 799.3 452 799.4 452.5 799.4 453 799.5 453.5 799.5 454 799.6 454.5 799.7 455 799.7 455.5 799.8 456 799.9 456.5 799.9 457 800 457.5 800 458 800.1 458.5 800.2 459 800.2 459.5 800.3 460 800.4 460.5 800.4 461 800.5 461.5 800.5 462 800.6 462.5 800.7 463 800.7 463.5 800.8 464 800.9 464.5 800.9 465 801 465.5 801 466 801.1 466.5 801.2 467 801.2 467.5 801.3 468 801.4 468.5 801.4 469 801.5 469.5 801.6 470 801.6 470.5 801.7 471 801.8 471.5 801.9 472 802 472.5 802.1 473 802.2 473.5 802.3 474 802.5 474.5 802.6 475 802.9 475.5 803.1 476 803.4 476.5 803.8 477 804.2 477.5 804.7 478 805.1 478.5 805.5 479 805.9 479.5 806.3 480 806.6 480.5 806.8 481 807 481.5 807.2 482 807.3 482.5 807.4 483 807.4 483.5 807.5 484 807.5 484.5 807.5 484.5 807.6" fill="#dcdcdc" stroke="none" stroke-width="1"/>
<path d="M423.5 807.6 423.5 807.5 424 807.5 424.5 807.4 425 807.3 425.5 807.1 426 806.9 426.5 806.5 427 805.9 427.5 805.2 428 804.1 428.5 802.8 429 801 429.5 798.8 430 796 430.5 792.7 431 788.9 431.5 784.5 432 779.6 432.5 774.5 433 769.2 433.5 763.9 434 758.9 434.5 754.4 435 750.7 435.5 748 436 746.4 436.5 746 437 746.9 437.5 749 438 752.1 438.5 756.1 439 760.9 439.5 766 440 771.3 440.5 776.6 441 781.6 441.5 786.3 442 790.5 442.5 794.1 443 797.2 443.5 799.7 444 801.8 444.5 803.4 445 804.6 445.5 805.5 446 806.2 446.5 806.6 447 807 447.5 807.2 448 807.3 448.5 807.4 449 807.5 449.5 807.5 449.5 807.6" fill="#ee6a4f" stroke="none" stroke-width="1"/>
<path d="M445.5 807.6 445.5 807.5 446 807.5 446.5 807.5 447 807.5 447.5 807.4 448 807.4 448.5 807.3 449 807.2 449.5 807.2 450 807.1 450.5 806.9 451 806.8 451.5 806.7 452 806.5 452.5 806.3 453 806.1 453.5 805.9 454 805.7 454.5 805.4 455 805.2 455.5 804.9 456 804.7 456.5 804.5 457 804.3 457.5 804.1 458 803.9 458.5 803.8 459 803.7 459.5 803.6 460 803.6 460.5 803.6 461 803.7 461.5 803.8 462 803.9 462.5 804.1 463 804.3 463.5 804.5 464 804.7 464.5 804.9 465 805.2 465.5 805.4 466 805.7 466.5 805.9 467 806.1 467.5 806.3 468 806.5 468.5 806.7 469 806.8 469.5 806.9 470 807.1 470.5 807.2 471 807.2 471.5 807.3 472 807.4 472.5 807.4 473 807.5 473.5 807.5 474 807.5 474.5 807.5 474.5 807.6" fill="#ee6a4f" stroke="none" stroke-width="1"/>
<path d="M430.5 807.6 430.5 807.5 431 807.5 431.5 807.5 432 807.4 432.5 807.4 433 807.3 433.5 807.1 434 807 434.5 806.7 435 806.4 435.5 806 436 805.5 436.5 804.9 437 804.2 437.5 803.4 438 802.6 438.5 801.8 439 801.1 439.5 800.4 440 799.9 440.5 799.5 441 799.1 441.5 798.9 442 798.7 442.5 798.6 443 798.5 443.5 798.5 444 798.5 444.5 798.5 445 798.6 445.5 798.6 446 798.6 446.5 798.7 447 798.7 447.5 798.8 448 798.9 448.5 798.9 449 799 449.5 799 450 799.1 450.5 799.2 451 799.2 451.5 799.3 452 799.4 452.5 799.4 453 799.5 453.5 799.5 454 799.6 454.5 799.7 455 799.7 455.5 799.8 456 799.9 456.5 799.9 457 800 457.5 800 458 800.1 458.5 800.2 459 800.2 459.5 800.3 460 800.4 460.5 800.4 461 800.5 461.5 800.5 462 800.6 462.5 800.7 463 800.7 463.5 800.8 464 800.9 464.5 800.9 465 801 465.5 801 466 801.1 466.5 801.2 467 801.2 467.5 801.3 468 801.4 468.5 801.4 469 801.5 469.5 801.6 470 801.6 470.5 801.7 471 801.8 471.5 801.9 472 802 472.5 802.1 473 802.2 473.5 802.3 474 802.5 474.5 802.6 475 802.9 475.5 803.1 476 803.4 476.5 803.8 477 804.2 477.5 804.7 478 805.1 478.5 805.5 479 805.9 479.5 806.3 480 806.6 480.5 806.8 481 807 481.5 807.2 482 807.3 482.5 807.4 483 807.4 483.5 807.5 484 807.5 484.5 807.5 484.5 807.6" fill="url(#hatch)" stroke="none" stroke-width="1"/>
<path d="M409.5 807.6 410 807.6 410.5 807.6 411 807.6 411.5 807.6 412 807.6 412.5 807.6 413 807.6 413.5 807.6 414 807.6 414.5 807.6 415 807.6 415.5 807.6 416 807.6 416.5 807.6 417 807.6 417.5 807.6 418 807.6 418.5 807.6 419 807.6 419.5 807.6 420 807.6 420.5 807.6 421 807.6 421.5 807.6 422 807.6 422.5 807.6 423 807.6 423.5 807.5 424 807.5 424.5 807.4 425 807.3 425.5 807.1 426 806.9 426.5 806.5 427 806 427.5 805.2 428 804.2 428.5 802.9 429 801.2 429.5 799 430 796.3 430.5 793 431 789.2 431.5 784.9 432 780.2 432.5 775.1 433 769.8 433.5 764.5 434 759.5 434.5 754.9 435 751.4 435.5 747.6 436 745.6 436.5 744 437 744.4 437.5 746.1 438 747.8 438.5 750.2 439 754.1 439.5 758.5 440 762.6 440.5 765.9 441 769.7 441.5 774.1 442 777.6 442.5 780.9 443 783.7 443.5 785.1 444 787.3 444.5 788.7 445 790.1 445.5 791.7 446 792.4 446.5 793.9 447 794.5 447.5 795.7 448 796.3 448.5 797.1 449 797.7 449.5 797.2 450 797.2 450.5 797.9 451 797.5 451.5 798.1 452 798.2 452.5 797.6 453 797.5 453.5 798 454 797.1 454.5 797.5 455 797.5 455.5 796.9 456 796.9 456.5 796.9 457 797.1 457.5 797.2 458 796.5 458.5 796.5 459 796.1 459.5 796.1 460 796 460.5 795.3 461 795.6 461.5 795.7 462 795.5 462.5 796.2 463 796.8 463.5 796.4 464 796.4 464.5 797.2 465 797.8 465.5 797.7 466 797.5 466.5 798.3 467 798 467.5 798.1 468 798.5 468.5 799.1 469 799.9 469.5 800.5 470 799.8 470.5 800.4 471 800.2 471.5 800.7 472 800.4 472.5 800.6 473 801.1 473.5 801.7 474 801.5 474.5 802.3 475 802.7 475.5 802.7 476 802.6 476.5 803 477 803.8 477.5 803.8 478 804.9 478.5 805.9 479 806.3 479.5 806.5 480 807.2 480.5 806.7 481 806.9 481.5 807.1 482 807.2 482.5 807.3 483 807.4 483.5 807.4 484 807.5 484.5 807.5 485 807.5 485.5 807.6" fill="none" stroke="#111" stroke-width="0.55"/>
<line x1="494.4" y1="739" x2="494.4" y2="807.6" stroke="#333" stroke-width="0.6"/>
<line x1="494.4" y1="807.6" x2="572" y2="807.6" stroke="#333" stroke-width="0.6"/>
<path d="M493 741h1.4M493.6 743.2h0.8M493.6 745.5h0.8M493.6 747.8h0.8M493.6 750h0.8M493 752.2h1.4M493.6 754.5h0.8M493.6 756.8h0.8M493.6 759h0.8M493.6 761.2h0.8M493 763.5h1.4M493.6 765.8h0.8M493.6 768h0.8M493.6 770.2h0.8M493.6 772.5h0.8M493 774.8h1.4M493.6 777h0.8M493.6 779.2h0.8M493.6 781.5h0.8M493.6 783.8h0.8M493 786h1.4M493.6 788.2h0.8M493.6 790.5h0.8M493.6 792.8h0.8M493.6 795h0.8M493 797.2h1.4M493.6 799.5h0.8M493.6 801.8h0.8M493.6 804h0.8M493.6 806.2h0.8M494.4 807.6v1.4M496.3 807.6v0.8M498.3 807.6v0.8M500.2 807.6v0.8M502.2 807.6v0.8M504.1 807.6v1.4M506 807.6v0.8M508 807.6v0.8M509.9 807.6v0.8M511.9 807.6v0.8M513.8 807.6v1.4M515.7 807.6v0.8M517.7 807.6v0.8M519.6 807.6v0.8M521.6 807.6v0.8M523.5 807.6v1.4M525.4 807.6v0.8M527.4 807.6v0.8M529.3 807.6v0.8M531.3 807.6v0.8M533.2 807.6v1.4M535.1 807.6v0.8M537.1 807.6v0.8M539 807.6v0.8M541 807.6v0.8M542.9 807.6v1.4M544.8 807.6v0.8M546.8 807.6v0.8M548.7 807.6v0.8M550.7 807.6v0.8M552.6 807.6v1.4M554.5 807.6v0.8M556.5 807.6v0.8M558.4 807.6v0.8M560.4 807.6v0.8M562.3 807.6v1.4M564.2 807.6v0.8M566.2 807.6v0.8M568.1 807.6v0.8M570.1 807.6v0.8M572 807.6v1.4" stroke="#555" stroke-width="0.35"/>
<text x="494.4" y="812.2" font-size="2.4" text-anchor="middle" font-weight="400" fill="#666">0</text>
<text x="507.33" y="812.2" font-size="2.4" text-anchor="middle" font-weight="400" fill="#666">50</text>
<text x="520.27" y="812.2" font-size="2.4" text-anchor="middle" font-weight="400" fill="#666">100</text>
<text x="533.2" y="812.2" font-size="2.4" text-anchor="middle" font-weight="400" fill="#666">150</text>
<text x="546.13" y="812.2" font-size="2.4" text-anchor="middle" font-weight="400" fill="#666">200</text>
<text x="559.07" y="812.2" font-size="2.4" text-anchor="middle" font-weight="400" fill="#666">250</text>
<text x="572" y="812.2" font-size="2.4" text-anchor="middle" font-weight="400" fill="#666">300</text>
<text x="533.2" y="815.2" font-size="2.6" text-anchor="middle" font-weight="400" fill="#555">Channels (PE-A)</text>
<text x="492.4" y="796.13" font-size="2.4" text-anchor="middle" font-weight="400" fill="#666" transform="rotate(-90 492.4 796.13)">40</text>
<text x="492.4" y="783.65" font-size="2.4" text-anchor="middle" font-weight="400" fill="#666" transform="rotate(-90 492.4 783.65)">80</text>
<text x="492.4" y="771.18" font-size="2.4" text-anchor="middle" font-weight="400" fill="#666" transform="rotate(-90 492.4 771.18)">120</text>
<text x="492.4" y="758.71" font-size="2.4" text-anchor="middle" font-weight="400" fill="#666" transform="rotate(-90 492.4 758.71)">160</text>
<text x="492.4" y="746.24" font-size="2.4" text-anchor="middle" font-weight="400" fill="#666" transform="rotate(-90 492.4 746.24)">200</text>
<text x="489.4" y="773.3" font-size="2.6" text-anchor="middle" font-weight="400" fill="#555" transform="rotate(-90 489.4 773.3)">Number</text>
<path d="M519.4 807.6 519.4 807.5 519.9 807.5 520.4 807.5 520.9 807.4 521.4 807.4 521.9 807.3 522.4 807.2 522.9 807 523.4 806.8 523.9 806.5 524.4 806.1 524.9 805.6 525.4 805 525.9 804.4 526.4 803.6 526.9 802.8 527.4 802 527.9 801.2 528.4 800.6 528.9 800 529.4 799.6 529.9 799.3 530.4 799 530.9 798.8 531.4 798.7 531.9 798.7 532.4 798.7 532.9 798.7 533.4 798.7 533.9 798.7 534.4 798.8 534.9 798.9 535.4 798.9 535.9 799 536.4 799.1 536.9 799.1 537.4 799.2 537.9 799.3 538.4 799.3 538.9 799.4 539.4 799.5 539.9 799.6 540.4 799.6 540.9 799.7 541.4 799.8 541.9 799.9 542.4 800 542.9 800 543.4 800.1 543.9 800.2 544.4 800.3 544.9 800.3 545.4 800.4 545.9 800.5 546.4 800.6 546.9 800.6 547.4 800.7 547.9 800.8 548.4 800.9 548.9 800.9 549.4 801 549.9 801.1 550.4 801.2 550.9 801.3 551.4 801.3 551.9 801.4 552.4 801.5 552.9 801.6 553.4 801.6 553.9 801.7 554.4 801.8 554.9 801.9 555.4 802 555.9 802.1 556.4 802.2 556.9 802.3 557.4 802.4 557.9 802.5 558.4 802.6 558.9 802.8 559.4 803 559.9 803.2 560.4 803.4 560.9 803.7 561.4 804.1 561.9 804.4 562.4 804.9 562.9 805.3 563.4 805.6 563.9 806 564.4 806.3 564.9 806.6 565.4 806.8 565.9 807 566.4 807.2 566.9 807.3 567.4 807.4 567.9 807.4 568.4 807.5 568.9 807.5 569.4 807.5 569.4 807.6" fill="#dcdcdc" stroke="none" stroke-width="1"/>
<path d="M509.4 807.6 509.4 807.5 509.9 807.5 510.4 807.5 510.9 807.4 511.4 807.3 511.9 807.1 512.4 806.9 512.9 806.6 513.4 806.2 513.9 805.7 514.4 805 514.9 804 515.4 802.9 515.9 801.4 516.4 799.5 516.9 797.3 517.4 794.7 517.9 791.7 518.4 788.3 518.9 784.4 519.4 780.3 519.9 775.9 520.4 771.5 520.9 767 521.4 762.6 521.9 758.6 522.4 755 522.9 752 523.4 749.8 523.9 748.5 524.4 748 524.9 748.5 525.4 749.8 525.9 752 526.4 755 526.9 758.6 527.4 762.6 527.9 767 528.4 771.5 528.9 775.9 529.4 780.3 529.9 784.4 530.4 788.3 530.9 791.7 531.4 794.7 531.9 797.3 532.4 799.5 532.9 801.4 533.4 802.9 533.9 804 534.4 805 534.9 805.7 535.4 806.2 535.9 806.6 536.4 806.9 536.9 807.1 537.4 807.3 537.9 807.4 538.4 807.5 538.9 807.5 539.4 807.5 539.4 807.6" fill="#ee6a4f" stroke="none" stroke-width="1"/>
<path d="M532.9 807.6 532.9 807.5 533.4 807.5 533.9 807.5 534.4 807.5 534.9 807.5 535.4 807.4 535.9 807.4 536.4 807.4 536.9 807.3 537.4 807.3 537.9 807.2 538.4 807.1 538.9 807 539.4 806.9 539.9 806.8 540.4 806.7 540.9 806.6 541.4 806.5 541.9 806.4 542.4 806.2 542.9 806.1 543.4 805.9 543.9 805.8 544.4 805.6 544.9 805.4 545.4 805.3 545.9 805.1 546.4 805 546.9 804.9 547.4 804.8 547.9 804.7 548.4 804.6 548.9 804.6 549.4 804.5 549.9 804.5 550.4 804.5 550.9 804.5 551.4 804.6 551.9 804.7 552.4 804.7 552.9 804.8 553.4 805 553.9 805.1 554.4 805.2 554.9 805.4 555.4 805.5 555.9 805.7 556.4 805.8 556.9 806 557.4 806.2 557.9 806.3 558.4 806.4 558.9 806.6 559.4 806.7 559.9 806.8 560.4 806.9 560.9 807 561.4 807.1 561.9 807.2 562.4 807.2 562.9 807.3 563.4 807.3 563.9 807.4 564.4 807.4 564.9 807.5 565.4 807.5 565.9 807.5 566.4 807.5 566.9 807.5 566.9 807.6" fill="#ee6a4f" stroke="none" stroke-width="1"/>
<path d="M519.4 807.6 519.4 807.5 519.9 807.5 520.4 807.5 520.9 807.4 521.4 807.4 521.9 807.3 522.4 807.2 522.9 807 523.4 806.8 523.9 806.5 524.4 806.1 524.9 805.6 525.4 805 525.9 804.4 526.4 803.6 526.9 802.8 527.4 802 527.9 801.2 528.4 800.6 528.9 800 529.4 799.6 529.9 799.3 530.4 799 530.9 798.8 531.4 798.7 531.9 798.7 532.4 798.7 532.9 798.7 533.4 798.7 533.9 798.7 534.4 798.8 534.9 798.9 535.4 798.9 535.9 799 536.4 799.1 536.9 799.1 537.4 799.2 537.9 799.3 538.4 799.3 538.9 799.4 539.4 799.5 539.9 799.6 540.4 799.6 540.9 799.7 541.4 799.8 541.9 799.9 542.4 800 542.9 800 543.4 800.1 543.9 800.2 544.4 800.3 544.9 800.3 545.4 800.4 545.9 800.5 546.4 800.6 546.9 800.6 547.4 800.7 547.9 800.8 548.4 800.9 548.9 800.9 549.4 801 549.9 801.1 550.4 801.2 550.9 801.3 551.4 801.3 551.9 801.4 552.4 801.5 552.9 801.6 553.4 801.6 553.9 801.7 554.4 801.8 554.9 801.9 555.4 802 555.9 802.1 556.4 802.2 556.9 802.3 557.4 802.4 557.9 802.5 558.4 802.6 558.9 802.8 559.4 803 559.9 803.2 560.4 803.4 560.9 803.7 561.4 804.1 561.9 804.4 562.4 804.9 562.9 805.3 563.4 805.6 563.9 806 564.4 806.3 564.9 806.6 565.4 806.8 565.9 807 566.4 807.2 566.9 807.3 567.4 807.4 567.9 807.4 568.4 807.5 568.9 807.5 569.4 807.5 569.4 807.6" fill="url(#hatch)" stroke="none" stroke-width="1"/>
<path d="M494.9 807.6 495.4 807.6 495.9 807.6 496.4 807.6 496.9 807.6 497.4 807.6 497.9 807.6 498.4 807.6 498.9 807.6 499.4 807.6 499.9 807.6 500.4 807.6 500.9 807.6 501.4 807.6 501.9 807.6 502.4 807.6 502.9 807.6 503.4 807.6 503.9 807.6 504.4 807.6 504.9 807.6 505.4 807.6 505.9 807.6 506.4 807.6 506.9 807.6 507.4 807.6 507.9 807.6 508.4 807.6 508.9 807.6 509.4 807.5 509.9 807.5 510.4 807.5 510.9 807.4 511.4 807.3 511.9 807.1 512.4 806.9 512.9 806.6 513.4 806.2 513.9 805.7 514.4 805 514.9 804 515.4 802.9 515.9 801.4 516.4 799.5 516.9 797.3 517.4 794.7 517.9 791.7 518.4 788.2 518.9 784.4 519.4 780.2 519.9 775.8 520.4 771.2 520.9 766.5 521.4 761.9 521.9 757.4 522.4 753.2 522.9 749.5 523.4 746.8 523.9 744.1 524.4 743 524.9 743.4 525.4 743.5 525.9 745.1 526.4 747.1 526.9 749.9 527.4 752.6 527.9 755.6 528.4 758.3 528.9 762 529.4 764.9 529.9 768.2 530.4 770.7 530.9 774 531.4 776.6 531.9 778.9 532.4 780.8 532.9 783.4 533.4 785.1 533.9 787.1 534.4 788.8 534.9 790.1 535.4 790.8 535.9 792.3 536.4 793 536.9 794.6 537.4 795 537.9 796.1 538.4 797.1 538.9 797.2 539.4 797.1 539.9 798.2 540.4 798.6 540.9 798.3 541.4 798.5 541.9 798.8 542.4 799.2 542.9 799.4 543.4 798.8 543.9 798 544.4 797.4 544.9 797.6 545.4 798.3 545.9 798.3 546.4 797.7 546.9 797.3 547.4 797.2 547.9 797.6 548.4 797.5 548.9 797.5 549.4 797.3 549.9 797.6 550.4 797 550.9 796.7 551.4 797.5 551.9 797.8 552.4 797.4 552.9 797.9 553.4 797.5 553.9 797.9 554.4 797.9 554.9 798.1 555.4 798.8 555.9 799.3 556.4 799.7 556.9 799.6 557.4 799.6 557.9 800.4 558.4 800 558.9 800.5 559.4 801.2 559.9 801.5 560.4 801.2 560.9 801.7 561.4 802.1 561.9 802.2 562.4 802.5 562.9 803.1 563.4 804 563.9 804.5 564.4 804.6 564.9 804.9 565.4 806 565.9 806.3 566.4 806.6 566.9 806.8 567.4 806.9 567.9 807.1 568.4 807.2 568.9 807.3 569.4 807.3 569.9 807.4 570.4 807.4 570.9 807.5 571.4 807.5" fill="none" stroke="#111" stroke-width="0.55"/>
<text x="47.5" y="345" font-size="14.6">MDA-MB-231</text>
<text x="33.75" y="365.5" font-size="12.4">Vector</text>
<text x="112.5" y="365.5" font-size="12.1">TRIM25</text>
<text x="74.5" y="467" font-size="14.4">MCF7</text>
<text x="37" y="487.5" font-size="12.4">Vector</text>
<text x="115.75" y="487.5" font-size="12.2">TRIM25</text>
<circle cx="51.85" cy="407.8" r="37.6" fill="#d8d9e7"/>
<g clip-path="url(#pq21)"><g filter="url(#pb21)">
<circle cx="51.85" cy="407.8" r="35.6" fill="none" stroke="#3d4fb3" stroke-width="4" opacity="0.6"/>
<path stroke="#3d4fb3" stroke-width="0.8" stroke-linecap="round" d="M76.8 401.2h0M71.4 396.8h0M32.3 377.1h0M32.2 419h0M31.8 420.1h0M63.7 401.8h0M88.1 393.9h0M33.2 396.9h0M61.1 380h0M30.9 417.1h0M37.3 433.7h0M56.8 371.9h0M40.3 422.9h0M40.6 423h0M67.2 394.6h0M48.5 379.8h0M15.1 407.3h0M69.7 426.5h0M76.7 421.3h0M67 417h0M66.8 439.3h0M38.8 417.3h0M57.1 442.1h0M79.2 390.7h0M74.1 379.2h0M58 389h0M34.5 392.6h0M78.7 383.4h0M24.8 411.5h0M19.6 389.2h0M51.3 405h0M29.8 404.5h0M26.2 431.6h0M55.9 419.6h0M56.4 384h0M54.8 378.7h0M33.4 401.4h0M34.2 400.8h0M68.3 424.4h0M33.2 427.7h0M38.8 378.6h0M39.2 377.8h0M78.4 409.8h0M79.2 407.3h0M86.9 400.4h0M50.2 385.4h0M79.4 393.8h0M66.3 375.1h0M84.7 421h0M63.2 437.6h0M60.8 436.2h0M68.8 413.9h0M43 419.9h0M56.4 443.9h0M66.1 404.9h0M46.7 400.9h0M80.1 387h0M37.2 394.4h0M38.4 394.6h0M31.9 402.1h0M83.8 405.2h0M79.4 421.2h0M55.5 437.4h0M57.4 439.5h0M67.1 377.9h0M20.8 414.7h0M48.1 393.5h0M29.9 377.7h0M87.5 405h0M58 442.1h0M79.2 405h0M22.3 402.5h0M23.9 401.5h0M75.4 433.7h0M58 394.3h0M63.1 421.7h0M73.5 419.9h0M39.3 444.5h0M68.7 441.2h0M35.2 384.7h0M15.7 410.1h0M75.9 393.3h0M41.7 436.7h0M45.2 393.3h0M46.5 380.7h0M37.1 423.4h0M21.2 392.3h0M20.3 391.9h0M66.1 389.3h0M67.4 387.5h0M37.5 430.1h0M71.7 408.6h0M66.6 399h0M72.7 422.7h0M55.3 375.6h0M23.4 415.7h0M42.3 375.1h0M42.1 376.3h0M50.5 381.1h0M36.9 386.8h0M38.4 386.8h0M19.8 397.7h0M50.8 380.9h0M49.5 382.4h0M34.3 436.2h0M66.5 420.1h0M56.3 415.9h0M68.6 382.2h0M33.5 431.8h0M37.8 379.4h0M41.3 390.1h0M23.9 420.6h0M49.1 437.9h0M32.3 420.7h0M49.3 389h0M26.3 429h0M26.9 427.6h0M83.6 417h0M18.8 415.3h0M85.1 401.1h0M52.3 442.7h0M75 397.8h0M38.7 435.5h0M23.9 427.2h0M54.2 443.4h0M26.3 392.1h0M85.8 408.3h0M84.9 405.5h0M35.7 422.5h0M82.8 412.7h0M83.1 412.9h0M56.3 379.4h0M20.6 415.9h0M19.9 402.9h0M46.2 440h0M65.9 438.8h0M62.8 397.2h0M30.8 387.9h0M31.7 386.9h0M65.2 380.1h0M65.5 382.2h0M68.9 417.2h0M64.7 426.9h0M37.8 434.4h0M45.9 441.3h0M46.8 441.7h0M89.9 407.6h0M47.5 383.5h0M55.8 422.5h0M58.7 421.2h0M35.8 397.5h0M35.2 407.8h0M28.5 430.9h0M62.3 436.6h0M63.8 436.6h0M44 423.6h0M18.7 413.6h0M27.1 405.8h0M27 414.5h0M26.2 413.2h0M87.3 407.9h0M58.5 380.7h0M80.6 418.6h0M46.7 382.3h0M84.5 424.2h0M39.1 398.2h0M55.1 416.1h0M57.2 398.6h0M32.9 402.8h0M46.2 389.6h0M29.6 419.2h0M76.6 404.2h0M30.5 424.6h0M36.7 438.2h0M71.8 437.8h0M27.3 382.4h0M63.7 422.8h0M36.6 373.9h0M35.2 403.2h0M61.2 374.2h0M56.5 440.7h0M41.2 396.6h0M30.7 394.8h0M32.5 427.2h0M59 381.1h0M39.7 375h0M46.9 390.8h0M46.4 392.1h0M65.8 429.5h0"/>
<path stroke="#3d4fb3" stroke-width="1.2" stroke-linecap="round" d="M44.1 388.7h0M81.2 421.6h0M79.3 398.9h0M79 400.1h0M69.2 398.3h0M21.4 403.9h0M20.8 403.8h0M79.6 406h0M67.7 392.2h0M68.3 391h0M72.6 393.1h0M53.5 417.2h0M31.3 379.7h0M33.1 378.7h0M62.1 403.1h0M43 376.3h0M43.6 376.5h0M24.4 408.9h0M57.6 439.4h0M89.8 404.7h0M89.6 406.2h0M36.4 439.9h0M24.9 415.8h0M59.5 379.9h0M30.1 435.2h0M40.8 384h0M77.6 390.2h0M68.2 433.5h0M48.6 370.6h0M31.3 417h0M30.6 416.3h0M69.5 413h0M69.2 410h0M17.6 406.5h0M83.4 393.8h0M30.4 408.7h0M31.8 407.7h0M42.9 385.1h0M77.1 386.5h0M66 433.6h0M80.5 425.2h0M75.8 420.6h0M44.9 384.3h0M65.9 417.4h0M38.2 442.6h0M37.3 441.3h0M40.3 415.9h0M46.5 440h0M59.3 425.7h0M55.9 440.2h0M74.2 377.8h0M74.7 377.2h0M57.4 390.6h0M57.4 388.8h0M77.1 383.9h0M58.3 379.7h0M76 392.9h0M55 442.4h0M67.9 421.8h0M67.3 420.3h0M21.2 390.8h0M60.6 375h0M52.9 406.2h0M40.2 387.1h0M28.7 404.1h0M29.4 404.9h0M21.8 419.8h0M21 417.8h0M36.3 412.5h0M54.1 421.4h0M57.8 383.3h0M54.2 375.8h0M34.4 387.3h0M61.4 378.1h0M54.7 397.1h0M56.9 390.2h0M19.3 402.9h0M82.9 393.2h0M81.5 393.1h0M40.1 379.1h0M84 388.1h0M54.9 431.2h0M88.1 399.4h0M51.5 383.9h0M66.5 380.8h0M30.4 387.9h0M63.7 429.6h0M43.5 398.9h0M43.7 401.2h0M67.3 441h0M42.6 419.1h0M76.2 381.7h0M67.7 403.8h0M19 417.1h0M78.1 386.3h0M79.5 387h0M37.2 395.2h0M38 393h0M33.5 402.4h0M82.5 406.3h0M36.2 395.5h0M48 430.5h0M79.1 430.2h0M77.7 423h0M31.3 430h0M50.1 421.7h0M40.2 402.6h0M22.3 401.3h0M22.4 400.1h0M45.5 385h0M59.3 394.5h0M50.1 430.6h0M86.7 394.2h0M62 421h0M34.4 441.4h0M48.3 390.1h0M71.5 399.3h0M27.8 433.3h0M41.4 438.4h0M84 398.5h0M84.3 397.5h0M84.5 399.6h0M61.6 379h0M61.5 379.2h0M64.7 394.2h0M57.2 438.1h0M22.4 426.9h0M52.3 398.5h0M54 398.5h0M46.5 382.2h0M18.5 391.5h0M67 430.1h0M65.9 432.5h0M64.2 426.4h0M63.8 426.1h0M63.3 429.4h0M84 425.5h0M60.3 382.5h0M63.8 426.1h0M33.5 397.5h0M31.1 409.1h0M30.4 411.4h0M29.7 410h0M79.7 412.6h0M56.5 377.5h0M37.6 386.5h0M37.5 386.7h0M20.4 408.1h0M45.8 428.8h0M21.9 391.3h0M74 418.8h0M73.4 417h0M27.4 404.1h0M48.1 381.4h0M48 380.4h0M59.2 402.4h0M31.3 441.2h0M23.6 387.8h0M24 389.1h0M78.5 389.9h0M29.6 391.7h0M66.8 387.4h0M83 428.7h0M43.2 391.3h0M77.5 411.9h0M76.5 414.5h0M87.8 417.2h0M47.1 439.3h0M83.8 425.2h0M31.2 420.2h0M32.7 420.9h0M24.7 427.5h0M86 417.1h0M69.2 441.8h0M42.1 440.8h0M37.4 388.4h0M28.4 435.5h0M84 409.8h0M15 399.9h0M15.5 399.4h0M90 399.5h0M19.3 399.4h0M18.3 419.7h0M49.1 427h0M47.7 428.6h0M73.7 421.3h0M38 435h0M38.2 432.5h0M78.9 403.6h0M81.6 404.8h0M79.7 403.5h0M26 426h0M24.5 425.7h0M54 443.6h0M24.5 389.9h0M82.7 408.4h0M31.5 383.6h0M85.7 405.1h0M83.9 405.1h0M52.6 443.6h0M46.3 439.7h0M61.9 397.6h0M82.6 426.1h0M82.6 428h0M60.1 392.6h0M44.7 419.2h0M67.2 380.3h0M64.8 382.4h0M71.5 417.7h0M73.5 387.8h0M62.7 444.6h0M22.2 392.5h0M23.4 393.6h0M44.1 377.2h0M41.8 379h0M43.2 376.2h0M55.8 422.4h0M27.3 423.7h0M35.1 407.7h0M68.9 396.8h0M51.7 439h0M28.9 431h0M43 386.8h0M59.5 413.8h0M48.3 377.2h0M62.7 372.6h0M16.8 412.5h0M81.3 404.2h0M46 417.7h0M47.7 415.9h0M29.9 381.4h0M26.7 413.4h0M70.5 385.6h0M89.6 409.2h0M49.5 380.3h0M80 411.6h0M60.2 381.3h0M59.2 381.2h0M83.4 423.5h0M23.1 428.9h0M57.5 400.2h0M31.9 401.2h0M31.7 400.5h0M45.5 388.4h0M56.3 421.4h0M37.2 439.8h0M38.2 439.7h0M72.5 438.5h0M72.9 436.6h0M79.7 402.1h0M80.2 401.8h0M29.1 419.3h0M33.9 403.2h0M37.1 430h0M56.7 442.7h0M35.1 417.6h0M36.6 419.9h0M45.7 371.7h0M54.1 416.4h0M28.8 396.2h0M28.5 395.2h0M32.5 427.2h0M71.7 382.4h0M45.7 418.9h0M46.2 418.3h0M41.9 403.9h0M38.2 373.8h0M39.2 375.4h0M55.5 426.5h0M48.7 439.4h0M50.8 437.7h0M25.9 425.9h0M25.1 426.9h0M65.4 430.5h0M64 429.6h0M80.6 403.3h0M36.7 412.8h0"/>
<path stroke="#3d4fb3" stroke-width="1.6" stroke-linecap="round" d="M45.9 390.4h0M80.9 421.3h0M69.2 399.8h0M86.2 411.1h0M27.7 408h0M42.1 375.2h0M88 408.3h0M74.3 419.2h0M85.5 393.7h0M33.6 396.3h0M28.1 433.2h0M28.3 436.1h0M40.7 382.5h0M67.7 436.4h0M16.4 408h0M83.8 411.9h0M31.6 431.7h0M42.9 385.3h0M37.3 417.6h0M77.1 386.9h0M78.2 402.5h0M16.1 408.5h0M76.8 421.2h0M43.6 383.4h0M63.8 440.1h0M66.4 438.3h0M40.7 416.5h0M79.3 393h0M79.2 395.1h0M49.2 439.5h0M55 442.4h0M76.5 420.9h0M75 423.2h0M76 421.9h0M42 373.8h0M59.8 379.4h0M59 382.1h0M66.6 419.4h0M21.6 391.5h0M53.9 404.7h0M26.8 380.1h0M28.1 403.6h0M16.6 423.4h0M17.5 423.9h0M34.9 415.5h0M35 414.9h0M54.2 422.2h0M54.4 377.9h0M33.4 401h0M64.9 388.7h0M66 440.3h0M68.3 440.7h0M67.9 440.2h0M36.8 393.9h0M83.1 387.6h0M34.3 430.5h0M35.3 429.7h0M40 377.9h0M84.7 389.1h0M84.1 389.6h0M63.1 431h0M63.7 435.5h0M67 441.4h0M75.5 381h0M77.8 381.6h0M66.5 404.4h0M19.1 413.1h0M49.5 403h0M71.6 434.2h0M84.8 406.9h0M35.5 395.6h0M35.2 395.2h0M45.3 431.1h0M46.2 428.6h0M33.3 431.2h0M32 430.7h0M51 421.3h0M51.6 422.4h0M18 413.7h0M46.7 394.2h0M54.9 440.9h0M53.5 440.7h0M69 378.3h0M45.7 384.8h0M82.4 426.1h0M40.1 426.9h0M50.2 430.3h0M86.5 393.5h0M84.7 392.4h0M33.5 440.4h0M76.5 418.4h0M38.6 427.3h0M53.2 375.8h0M48.5 390.4h0M49.8 384.1h0M49.3 383h0M29.4 430.7h0M27.4 433h0M25.8 432.5h0M24.7 430.1h0M78 393.1h0M42.8 438.8h0M42.7 438.3h0M44.7 392.3h0M42.3 391h0M29 427.7h0M28.6 428.1h0M29.7 428.9h0M63.2 394.5h0M63.5 395.1h0M68.7 378.5h0M52.6 396.5h0M51.9 397.9h0M47.4 381.7h0M66.9 386.9h0M65.9 387.9h0M37.4 431.5h0M70.1 409.5h0M64 429.6h0M33.9 395.2h0M35.8 424.9h0M55 372.1h0M19.9 408.3h0M49.9 379.8h0M33.8 439.1h0M32.9 439.1h0M81.4 384.9h0M81.2 384.8h0M25.9 388.8h0M76.7 423.2h0M77.4 423.7h0M42.8 375h0M44.6 376.4h0M89 418.5h0M26.7 421.1h0M67.8 381.2h0M84.8 423.3h0M84.8 423.4h0M63.3 429.7h0M49.4 388h0M51.2 390.1h0M26.6 389.6h0M69.4 440.3h0M76.9 405.4h0M36.7 427.7h0M35.8 428.6h0M37.2 428.6h0M27.8 435.5h0M85.3 408.9h0M25.3 419.5h0M50.5 429.6h0M50 430.5h0M79 403.1h0M25.7 427.7h0M19.6 413.8h0M37.3 401.4h0M85.5 405.9h0M56.4 377.2h0M56.9 379h0M65.4 405.7h0M64.5 405.5h0M61.3 398h0M80.2 425.6h0M30 421h0M29.9 386.9h0M60.2 395.5h0M60.8 379.3h0M56 415.6h0M62.3 442.6h0M18.9 417h0M48.3 435.6h0M86 414.1h0M49.7 383.8h0M23.2 391.9h0M43.9 376.7h0M27.5 424.4h0M26.5 424.3h0M36.2 399.4h0M13.5 403h0M71.3 398.9h0M81 428.3h0M61.3 372.6h0M63.5 372.6h0M61.4 375.3h0M45.5 423.5h0M25.9 404.3h0M69.4 385.8h0M87.1 407.7h0M61.1 414.5h0M48.7 383.1h0M79.3 412.2h0M59.7 382.1h0M81.5 425.6h0M25.1 429.2h0M32.7 401.9h0M29.3 419.4h0M85.5 391.3h0M60.8 391h0M61.3 390.3h0M31.7 424h0M31.4 424h0M30.6 403.7h0M37.6 438.5h0M47.5 433.3h0M62.5 420.8h0M52.1 384.1h0M37.9 374.8h0M36.5 430.5h0M77.4 412.5h0M40.3 426.2h0M33.5 427.7h0M23 391.6h0M22.9 392.7h0M27.5 407.2h0M47 417.4h0M43.1 405h0M45.2 423.2h0M44.4 421.6h0M47.7 392.3h0M66.6 428.8h0M78.9 401.7h0M22.4 412.4h0"/>
<path stroke="#3d4fb3" stroke-width="2" stroke-linecap="round" d="M18.9 412.9h0M70.9 397.3h0M67.1 413.7h0M73.3 393.2h0M55 418.3h0M87.2 408.5h0M29.8 406.1h0M58.8 438.9h0M59.6 438.7h0M88.3 410.5h0M35.7 440.1h0M26.7 414.8h0M33.4 398.2h0M42.6 381.9h0M40.3 443.5h0M42 444.5h0M15.6 408.3h0M30.2 406.7h0M85 411.6h0M30.5 431.2h0M65.9 394.2h0M67.4 431.6h0M49.1 381.5h0M48.8 381h0M68.9 439.6h0M57.5 373.1h0M63.9 440.4h0M76.7 386.8h0M53.8 400.8h0M59.3 425.2h0M79.3 389.1h0M74.6 377.2h0M60.3 379.6h0M56 441.6h0M27.8 411.6h0M25.8 412h0M18.5 404.5h0M59.8 376.4h0M26.3 379.4h0M22.8 417.8h0M28.1 430.7h0M28.6 431.2h0M55.9 419.8h0M65 442.2h0M33 403.2h0M68.4 424.3h0M79.2 407.4h0M21.5 401.3h0M68.7 406.6h0M78.4 393.7h0M80.5 392.7h0M27.5 429h0M84 418.7h0M35 412.9h0M34.5 414.3h0M66.2 411.7h0M50.7 439.9h0M50.5 442.1h0M68.2 440.6h0M17.6 412.9h0M35.3 380.2h0M73.6 433.3h0M73.8 433.1h0M82 405.1h0M37.2 431.1h0M78.4 430.5h0M77.8 421.4h0M50.4 386.9h0M45.4 384.3h0M57.4 393.2h0M61.7 419.1h0M35.4 440.5h0M75.1 419.3h0M84.2 412h0M49.9 385.9h0M70.4 439.7h0M55.1 377.8h0M25.6 432.8h0M20.7 419.4h0M78.1 393.1h0M63.6 393.8h0M56.7 440.7h0M66.1 430.2h0M71.4 408.1h0M64 427.5h0M63.8 429.7h0M82.6 425h0M84.8 424.3h0M71.7 421h0M62.7 381.5h0M33.6 395.4h0M30.9 410.8h0M35.6 414.9h0M57.5 377.1h0M35.3 427.6h0M33.6 378.7h0M38 390.9h0M51.3 380.9h0M22 405.9h0M22.7 408.7h0M22.1 395.9h0M50.8 383.2h0M24.7 404.6h0M34 437.1h0M67.6 420.3h0M66 422.4h0M67.8 379.5h0M79.1 413.3h0M42.9 375.1h0M27.3 429.2h0M44.4 439.8h0M79.5 407.1h0M38.9 389h0M35.9 430.2h0M28.1 434.9h0M85.8 408.4h0M19.2 417.3h0M26.8 389.4h0M83.4 410.6h0M31.6 416.3h0M30.8 381.9h0M33.3 420.7h0M35.2 420.2h0M84.8 404.8h0M58.9 379h0M19.5 416.3h0M62.4 392.6h0M22.1 426.1h0M71.3 417.5h0M75 385.9h0M61.9 442.7h0M88.1 413.2h0M86.2 413.6h0M50.5 382.6h0M23.8 393.3h0M57.3 422.9h0M70.7 397.3h0M50.7 440.1h0M53.2 438.2h0M43.6 384.6h0M77.9 428.7h0M26 404.8h0M48 416.9h0M46.3 417.2h0M28 380.9h0M48.1 400.1h0M88.1 407.6h0M78.9 421.5h0M77.9 410.6h0M84.4 425.1h0M40.2 397.4h0M25.1 427.3h0M56.8 400h0M31.1 419.4h0M55.6 421.1h0M30.5 423.7h0M36.5 429.4h0M40.4 424.4h0M42.4 426.7h0M56.7 439.5h0M41.6 396.6h0M41.2 397.7h0M42.1 397.7h0M47.7 446.2h0M46.1 443.7h0M31.8 428.2h0M70.3 382.3h0M43.6 404.3h0M44.4 422.5h0M56.3 374.1h0M39.8 373.7h0M51.4 439.6h0"/>
<path stroke="#3d4fb3" stroke-width="2.4" stroke-linecap="round" d="M44.8 389.4h0M86.6 405.2h0M53.9 417.3h0M62.8 441.6h0M63 401h0M28.5 405.9h0M29.5 437h0M29.5 437.6h0M42.1 377.3h0M89.6 408.9h0M25.7 414.7h0M31 399.2h0M61 379.5h0M42.2 381.9h0M77 392.1h0M67.6 434.9h0M70.5 427.9h0M32.9 416.3h0M68.4 412.2h0M42.7 386.9h0M51.7 422.1h0M39.9 374.6h0M42.2 423.2h0M41.2 424.5h0M20.4 419.9h0M57.2 442.8h0M75.6 386.7h0M76.6 387.3h0M76.9 387.5h0M46.6 438.7h0M58.4 390.2h0M16.6 405.3h0M41.9 386.4h0M17.7 423.8h0M21.5 419.2h0M57.5 384.6h0M55 377.8h0M33 417.7h0M37.5 395.5h0M38.3 395.8h0M80.2 408.2h0M17.8 418.7h0M57.1 390h0M58.7 388.9h0M81 412.8h0M85.1 388.3h0M76.9 411.5h0M89.7 399.2h0M89.6 400.8h0M64.6 381h0M68.3 375.7h0M17 408.2h0M17.3 407.9h0M63.4 435.9h0M68.8 413h0M37.1 441.5h0M39.5 379.8h0M42.8 418.7h0M32.2 396.9h0M17.8 412.3h0M37.2 378.7h0M37.1 397.3h0M48.3 422h0M49.9 419.5h0M50.7 421.1h0M29.8 379.9h0M89 407.4h0M55.4 440.2h0M59.1 414.8h0M46.3 386.1h0M50.6 431.7h0M63.2 420.3h0M55.4 376.3h0M83 414.5h0M27.1 427.9h0M37.3 424.9h0M16.3 412.1h0M15.6 412.2h0M72.2 407.8h0M63 431.4h0M17.1 422.9h0M19.2 422.6h0M28 427.5h0M60.9 380.3h0M32.6 396.4h0M63.2 424.1h0M23.3 415.8h0M33.1 379.7h0M54.1 373h0M56 371.6h0M51.2 381.7h0M22.8 408.7h0M24.4 390.2h0M77.5 381h0M25.9 405.5h0M31.4 438.9h0M81.3 385.2h0M68.2 381.4h0M58.1 441.9h0M43.2 375.2h0M24.8 422.1h0M84.3 424.9h0M50.7 389.3h0M27.8 388.4h0M75.5 434h0M84.7 418.2h0M38.9 387.6h0M86.9 400.6h0M25.4 420.9h0M48 428.5h0M71 420.6h0M36.5 433.2h0M16.6 406.3h0M31.1 414.4h0M33.6 421.2h0M53.9 442.3h0M81.7 412.5h0M22.4 413.7h0M65.1 404h0M47.8 439.8h0M46.5 440.7h0M77.9 391.1h0M23.4 425.3h0M63.1 427.8h0M88.1 407.3h0M89.4 407.5h0M49.6 383.2h0M13.5 404.3h0M33.7 405.5h0M76 389.1h0M70.6 399h0M77.5 430.9h0M51.8 438.5h0M28.3 433h0M59 413.1h0M80.8 428.9h0M51.9 375.9h0M17.2 413.2h0M28.4 379.6h0M82.8 427.1h0M53.9 415.6h0M54.9 417.4h0M56.5 420.9h0M81.5 398.6h0M78.4 402.4h0M31.7 419.7h0M61.6 423.2h0M60.9 423h0M52 384.7h0M59.7 374.7h0M58.5 444h0M37.5 418.3h0M36.9 421.1h0M37.4 419.3h0M55.6 438.2h0M23.4 391.9h0M42.5 372h0M42.6 371.3h0M43.7 422h0M58.5 375.5h0M55.2 424.9h0M60.6 426.9h0M47.7 392h0M51.2 438.6h0M25.1 425.3h0M80.7 402.4h0M22.8 413h0M27.9 397.6h0"/>
<path stroke="#3d4fb3" stroke-width="2.8" stroke-linecap="round" d="M78.9 400.9h0M21.2 414.3h0M20.2 403h0M66.8 415.4h0M62.7 401.8h0M28.4 408.1h0M30.5 437.2h0M58.8 439.1h0M37.1 442.5h0M66.3 376.7h0M79.7 389.5h0M76.3 393.2h0M69.5 435.6h0M16.8 406.6h0M31.1 406.9h0M30 432.5h0M74.7 386.2h0M77.6 384.9h0M21.9 417.9h0M48.5 380.9h0M78.8 403h0M44.3 385.2h0M39.7 441.3h0M57.8 371.9h0M66.6 440.6h0M48.9 415.4h0M49.4 418.6h0M39.6 416.4h0M24.9 429.1h0M81.7 392.9h0M53.1 401.8h0M60.3 425.7h0M74.9 422.9h0M43.1 373.7h0M43.6 374.4h0M83.7 405.4h0M74 391.9h0M66.6 422.3h0M60.8 374.8h0M52.4 405h0M40.4 387.6h0M16.2 422.2h0M18.3 423.3h0M38.6 393.5h0M17.6 419.1h0M52.1 383.4h0M52.3 385.2h0M64.4 382.9h0M67.5 375.2h0M67 375.6h0M35.4 414.8h0M34.6 413.9h0M67.5 415.1h0M69.4 440.8h0M41.4 420.5h0M75.3 380h0M31.7 395.5h0M49.5 403h0M78.1 387.8h0M37.3 428.3h0M55.3 436.8h0M83.4 392.6h0M14 412.2h0M66.5 377.2h0M78.1 404.1h0M68.7 380.9h0M58.3 414.9h0M58.6 393.9h0M40.3 427.1h0M32.8 440.4h0M75.7 419.6h0M84.1 413.8h0M83.7 411.9h0M53.1 374.4h0M47.6 390.5h0M48.1 390.6h0M52.6 433.8h0M47.2 384.5h0M21 421.6h0M77.2 394.4h0M44.3 391.8h0M60 399.2h0M62.8 376.3h0M48.2 381.7h0M21.2 393.5h0M65.6 427.2h0M84.3 424.8h0M83.7 414.8h0M81 414.2h0M81.4 412.9h0M81.6 389.1h0M57.7 376.6h0M36.9 427.6h0M21.8 417.3h0M43.5 375.3h0M80.7 385.7h0M69.8 437.3h0M32.6 393.9h0M29.6 392.5h0M76.6 430.9h0M87.2 416.6h0M20 392.8h0M72 429.5h0M38.8 389.3h0M27.5 418.5h0M75.2 398.8h0M71.4 422.3h0M20.2 392.4h0M51.6 441.9h0M83.5 413.4h0M65.9 404.8h0M67.9 439.6h0M61 395.2h0M31.1 423.6h0M61.5 394.4h0M36.6 434.4h0M14.8 405.3h0M44.8 385.6h0M85.7 399.9h0M50.1 377.3h0M16.2 411h0M26.4 404.4h0M26.9 415.6h0M68.2 385.1h0M68.3 384h0M79.6 420.6h0M21.6 423.2h0M39.6 432.1h0M39.5 431.5h0M25.5 427.3h0M30.9 402h0M71.3 436.3h0M36 420h0M76.5 413.9h0M57.8 438.5h0M44 371.7h0M43.9 372.6h0M43.8 406.7h0M24.9 428.1h0"/>
</g></g>
<circle cx="51.85" cy="407.8" r="37.2" fill="none" stroke="#444" stroke-width="0.8"/>
<circle cx="132.5" cy="406.8" r="37.7" fill="#d8d9e7"/>
<g clip-path="url(#pq22)"><g filter="url(#pb22)">
<circle cx="132.5" cy="406.8" r="35.7" fill="none" stroke="#3d4fb3" stroke-width="4" opacity="0.6"/>
<path stroke="#3d4fb3" stroke-width="1.2" stroke-linecap="round" d="M155.7 385.3h0M160.5 393.6h0M117.7 428.2h0M118.9 384.5h0M116.2 431.1h0M130.2 368h0M130.5 367.9h0M106 387.7h0M107 387.6h0M103.3 389.5h0M134 429.2h0M133.5 426.7h0M123.3 374.4h0M147.8 374.8h0M165.5 398h0M116.2 403.3h0M116.5 401.5h0M116.9 371.4h0M160.2 396.7h0M147.3 419.4h0M141.3 384.4h0M132.7 371.3h0M162.8 422.1h0M162 423.1h0M138 375.5h0M139 375.3h0M157.7 425.1h0M114.6 439.2h0M104.2 391.2h0M96.7 404.3h0M163.3 388.9h0M166.2 390.5h0M141.7 432.8h0M139.1 431.7h0M100.3 403.6h0M103 405.7h0M152.6 424h0M121.4 377.9h0M101.4 395h0M152.9 412.4h0M135.1 371.9h0M134.3 373.5h0M104.5 405.4h0M104.5 404.7h0M164.4 412.3h0M132.3 394.9h0M107.2 425.2h0M159.2 384.4h0M159.8 385.5h0M143.1 414.8h0M131.4 370.7h0M103.7 397.8h0M104.3 398.3h0M112.9 424h0M112.7 423.4h0M149.2 401.9h0M111.3 429.2h0M105.6 386.4h0M104.5 385.9h0M149 379.7h0M155.6 391.6h0M149.3 420h0M148.9 421.2h0M129.6 397.1h0M103.3 382h0M162.1 409.3h0M161.6 386.9h0M115.9 385.2h0M106.9 385.4h0M143.5 392.3h0M142.4 394.2h0M142.8 391.9h0M142.1 419h0M139.8 420.5h0M157.3 394.4h0M148.9 436.8h0M138.5 391h0M136.5 388.9h0M137 391.8h0M147.6 429.9h0M145.5 430.9h0M145.6 431.3h0M124.8 429.9h0M150.9 401h0M115.6 384.2h0M145.3 380.5h0M145.6 380.5h0M145.9 417.5h0M160 414.4h0M122.3 394.9h0M139.1 416.8h0M124 374.3h0M114.1 439.4h0M110.3 397.2h0M135 370h0M149 412.8h0M117.2 398.9h0M115.2 401.6h0M130.3 435.4h0M101.4 427.6h0M110 394.2h0M151.1 410.7h0M99.2 411h0M122.8 439.7h0M113.2 379.6h0M154.7 436h0M157.1 436.6h0M118.3 414.5h0M119.7 411.9h0M117.4 413.5h0M161.8 410.1h0M161 388.8h0M162.3 388.8h0M130.6 435.1h0M109.9 378.1h0M139.9 416.6h0M108 384.4h0M108.1 390.4h0M111.9 405.5h0M133.7 373.1h0M153.4 407h0M155.9 405.9h0M155.4 405.4h0M109.2 392h0M121.4 383.4h0M115.3 387.1h0M119.4 419.6h0M160.9 398.5h0M161.6 396.1h0M149.4 397.3h0M122.9 373.3h0M131.9 372.5h0M119.5 400.3h0M150.4 385h0M150.3 383.8h0M152.3 391.7h0M99.2 403.1h0M151.9 427.6h0M152.7 426.8h0M149.5 436.4h0M151 406.2h0M142.3 420.9h0M140.6 421.6h0M122.2 386.2h0M112.3 391.5h0M124.7 379.2h0M124.4 379.4h0M131.8 386.2h0M102.6 390.2h0M144.9 427.7h0M116.5 425.3h0M117.5 425.7h0M117.2 426h0M151.1 393.8h0M161.5 405.8h0M159.5 407h0M124.1 388.2h0M143.8 371.2h0M102.3 408.7h0M103.9 410.7h0M152.5 396.3h0M153.4 395.4h0M145.2 423.6h0M146.6 425.4h0M145.7 423.8h0M128 431.1h0M126.9 430.3h0M113.8 390.7h0M126.9 373.4h0M128.8 379.6h0M129.5 381.4h0M147.7 385.7h0M148.3 385.6h0M101.2 408.1h0M147.9 389.4h0M112.2 393h0M144.2 394.4h0M153.3 393.4h0M144 421.3h0M125.9 371.8h0M154.2 418.1h0M101.8 389.5h0M96.9 401h0M107.9 425.6h0M116.8 420.4h0M117.1 421.1h0M109.6 412.7h0M109.9 415.3h0M164.3 404.2h0M161.3 429.7h0M101.1 396.8h0M154.1 420.7h0M116.3 429.2h0M111.2 428.4h0M112.4 426.5h0M110.9 427h0M110.2 427.8h0M106.3 420.2h0M114.4 411h0M120.4 423.7h0M114 425.4h0M138.5 442.4h0M138 444.1h0M139.1 443.4h0M135.8 383.6h0M138.8 400h0M130.5 405.2h0M153.4 430.1h0M113.4 375.8h0M159.4 427h0M161.3 426h0M107.1 403.5h0M145.7 396.6h0M124.8 374.4h0M122 376.2h0M106.8 413.7h0M119.8 427h0M138.5 384.7h0M140.4 387h0M129.6 378.4h0M127.5 381h0M107.2 378.2h0M106.6 378.9h0M107.2 377.9h0M122 414.1h0M121 414.3h0M138.1 370h0M125.5 417h0M144.1 423.3h0M147.6 388.1h0M146.8 386.8h0M147.8 425.2h0M104.6 411.4h0M102.1 411.9h0M136.4 428.3h0M141.8 417.8h0M158.3 395.2h0M162.7 391.5h0M121.4 431.4h0M134 382.6h0M148.7 405.1h0M139.7 394.4h0M145.9 440.3h0M137.6 442.8h0M127.2 425.4h0M112.3 395.5h0M159.7 416.7h0M157.3 416h0M135.4 412h0M118 396.9h0M128 418.1h0M128.3 417.3h0M149.4 384.8h0M148.7 384.6h0M157.8 386.5h0M156.6 388.4h0M104.4 422.4h0M144.8 393.9h0M146.7 394.1h0M97.8 406.8h0M155.4 383.8h0M154.2 383h0M167 394.5h0M168.5 393.3h0M131.1 434.6h0M144.8 383.8h0M145.5 384.9h0M127.7 395.4h0M113.5 434.9h0M116 436.2h0M160.2 428.3h0M137.1 430.7h0M158.2 400.1h0M159.8 401.5h0M112.6 417.7h0M106.3 395.8h0M111.3 433.5h0M104.3 412.1h0M103.2 410.1h0M103.5 412h0M152.3 396.9h0M133.5 410.7h0M151.5 379h0M123.8 403.8h0M122.3 404.4h0M101.7 388.9h0M94.3 407.9h0M101.7 391.1h0M109.8 436.6h0M124.2 439.2h0M162 385.3h0M160.5 385.9h0M164.1 389h0M153.5 377.2h0M153.3 377.3h0M128.2 395.3h0M129.9 395.1h0M111.1 436.7h0M162 396.2h0M132.1 400.3h0M152.5 404h0M168.2 403.4h0M136.5 394.7h0M102.3 409.9h0M146.6 410.9h0M117.1 433.3h0M137.2 432.7h0M138.3 434.1h0M111.2 398.6h0M112.8 399.4h0M111.9 398.8h0M127 434.3h0M122.2 380.7h0M114.5 421.1h0M125.8 406.7h0M130.4 427.3h0M100 419.3h0M163.6 424.1h0M167.3 418.6h0M125.5 395h0M132.5 420.6h0M135.6 372.1h0M133.9 377.4h0M132.5 444.3h0M131.2 444.2h0M132.3 444.2h0M111 391.1h0M162.2 426.3h0M131.8 371.3h0M132.3 371.1h0M132.9 369.2h0M133.3 369.2h0M135.4 417.4h0M103 400.1h0M158.7 427.7h0M160.6 425.4h0M123.7 376.8h0M122.9 377.6h0M127.3 440.1h0M112.5 400.1h0M95.7 396.6h0M121.5 429.6h0M145.1 393.7h0M107.3 389.4h0M109 412.3h0M106.6 414.1h0M167.7 404.7h0M170.6 407.6h0M97.7 423h0M98 422.7h0M139.6 380.9h0M138.2 379.6h0M145.5 380.9h0M98.1 403.1h0M97.9 403.7h0M138.4 397.5h0M100.2 406.4h0M168.9 410.6h0M136.7 380.6h0M133 376.9h0M134.1 377.3h0M133.1 377.5h0M119.6 412.6h0M119.6 411.2h0M120.5 371.5h0M101.8 407.9h0M141.3 402.6h0M156.2 390.5h0M114.9 416.6h0M100.6 390.6h0M150 431.9h0M128.3 430.8h0M134.7 437h0M135 436.2h0M134.8 433h0M114.3 420.1h0M123.5 403.5h0M116 432.2h0M159.9 420.8h0M150.4 409h0M104.8 418h0M103.9 418.4h0M103.2 385.8h0M99.9 392.2h0M115 412.3h0M117.5 412.6h0M147.2 415.5h0M141 426h0M112 404.7h0M100.9 393.2h0M131 406.4h0M129.6 406.3h0M119.9 436.1h0M138.6 383.1h0M139.7 383h0M102.7 396.4h0M103 396.7h0M147.9 411.3h0M146.9 411.6h0M160.6 405.1h0M132.2 413.7h0M134.8 413.4h0M128.3 390.6h0M113.2 415.3h0M113.2 415.3h0M163.9 388.6h0M115.8 428.8h0M165.9 405.1h0M129.5 444.3h0M111 393.3h0M104.1 402h0M164.7 400.3h0M167.4 399.4h0M118.4 413.9h0M152.6 417.3h0M115.9 415h0M117.6 379.5h0M99.9 388.4h0M100.8 389.2h0M166.4 398.5h0M167.4 399.8h0M166.6 398.3h0M136.9 425h0M98.4 405.6h0M99.1 405.7h0M128.6 394.9h0M102.4 417.3h0M101.3 416.7h0M113.5 390.7h0M113.6 390.2h0M156.7 386.8h0M141 381.4h0M157 425.2h0M168.5 416.7h0M110.8 427.6h0M153.9 396.2h0M120.5 414.3h0M133.2 390.4h0M142.4 376.7h0M142.8 374.3h0M111 397.8h0M112.8 399.1h0M112.6 397.9h0M123 374.6h0M99.7 421.8h0M134.5 433h0M141.7 434.4h0M115.5 384h0M114.8 396.3h0M145.1 437.4h0M151.5 384.5h0M167.6 399.9h0M109.9 406.2h0M127 429.1h0M127.9 427h0M130.7 429.1h0M130.2 429.8h0M107.6 381.5h0M107.5 382h0M129.7 384.4h0M148.6 411.5h0M153.9 417.3h0M151.8 415.2h0M152.2 418.1h0M128.9 429.2h0M165.8 391.9h0M166.8 391h0M168.3 390.7h0M113.2 429.6h0M104.2 388.3h0M158 411.1h0M159.5 411.1h0M160.2 409.1h0M108.6 397h0M120.9 371.8h0M122.3 370.7h0M145 384.9h0M135.8 377.2h0M149.7 404.6h0M149.4 405.7h0M162.7 385.2h0M103.2 416.7h0M167.3 400.3h0M140 386.8h0M159.6 398.5h0M158.5 399.2h0M155.1 414.7h0M127.8 371.9h0M136.2 382.1h0M124.8 411h0M109.8 410.6h0M115.5 392.3h0M140.1 391.2h0M131.1 374.8h0M113 419.5h0M145.2 416.6h0M115.6 425.2h0M154.9 376.8h0M155.5 378.9h0M163.2 392.3h0M152.5 418.7h0M146.9 413.7h0M146.4 414.7h0M121.7 376.6h0M120.1 377h0M150 396.6h0M149.6 395.4h0M115.7 393.2h0M162.9 388.2h0M161.3 400.9h0M158.4 387.8h0M145.4 411.5h0M160.2 382.4h0M160.8 381.8h0M160.1 381.6h0M112.1 377.2h0M110.3 386.3h0M108.6 385.9h0M129.2 416h0M138.7 409.9h0M108.2 401.8h0M162 424.7h0M137.1 372.3h0M103.2 419.1h0M97.4 405.8h0M96.1 403.8h0M129 386.7h0M130.2 433.8h0M126.8 407.8h0M106.1 422.3h0M117.5 389.7h0M114.5 390.2h0M104.8 386.6h0M161 401.7h0M161.4 402.9h0M164.5 386.7h0M159.7 417h0M135.8 434.6h0M113.3 404.5h0M113.5 405.3h0M105.7 425.9h0M115.7 440.2h0M117.4 437.2h0M116.3 439.3h0M130.8 436.1h0M108.5 432.8h0M108.5 432.6h0M112.9 388.4h0M112 386.8h0M156.5 427.2h0M155.4 431.3h0M141.9 395.7h0M162.9 397.9h0M144.8 374.7h0M144.8 371.9h0M99.3 409.1h0M156 391.3h0M103.5 394.2h0M114.8 397.1h0M116.6 397.3h0M112.3 376.3h0M150.6 385.1h0M127 400.8h0M155.3 435.3h0M159.4 392.7h0M163.2 414.5h0M127.3 439.7h0M128 440.1h0M126.2 437.3h0M133 436.3h0M155.2 416.5h0M158.5 410.1h0M144 392.5h0M144.4 433.2h0M145.1 434.3h0M158.7 415.9h0M141 424.7h0M116.7 427.5h0M116.1 428.8h0M114.3 431.1h0M114.1 433.1h0M134.4 417.3h0M96.8 411.1h0M119.9 438.9h0M168.1 399h0M131.8 413.1h0M131.3 414.8h0M131.8 414.3h0M142.2 417.1h0M122 441.9h0M131 437.1h0M107 389.8h0M139.4 384.9h0M144.4 400.7h0M139 388h0M106.6 431.1h0M107.1 431.3h0M105.7 407.4h0M149.4 413.7h0M108 421.3h0M107.3 420.8h0M115.4 437.6h0M95.7 404.1h0M163.8 395.5h0M166.4 419.5h0M166.7 420.1h0M125.3 443h0M121.3 424h0M107.6 400.5h0M108 400.6h0M129.7 414.9h0M152.2 386.3h0M151.9 387.6h0M135.4 397.8h0M135.1 443h0M136.7 441.4h0M120 433.4h0M122.3 431.5h0M121.4 431.2h0M115.6 427.9h0M128.9 426.1h0M102.9 410.9h0M104.2 409.6h0M126 372.4h0M133.4 413.8h0M135.3 414.8h0"/>
<path stroke="#3d4fb3" stroke-width="1.6" stroke-linecap="round" d="M118.8 384.8h0M121.6 383.3h0M116.7 431h0M106.7 382h0M108.4 382.8h0M121.8 372.2h0M165.5 397h0M167.2 396.9h0M115.5 401.4h0M146.6 420.7h0M146.9 420.8h0M143.3 385.5h0M131.7 372.2h0M162.8 423.6h0M112 438.7h0M112.2 437.8h0M112.4 438.9h0M161.1 399.9h0M160.4 399h0M165.3 388.7h0M155.7 417.8h0M155.1 420.3h0M129.5 422.5h0M130.3 394.8h0M157.7 401.6h0M107.6 425.2h0M161.3 384.7h0M161.9 385.1h0M143.7 415.1h0M147 403.4h0M139.2 423.5h0M158.2 386h0M158.9 386.3h0M167.5 398.5h0M147.9 390.5h0M133.7 386.2h0M130 396.4h0M105.3 381.3h0M127.8 406.3h0M139.7 419.1h0M156.8 395.8h0M149.5 430h0M102.5 391.4h0M122.6 431h0M127.8 389.9h0M110.7 387.6h0M149.8 401.4h0M112.9 404.6h0M142.8 381h0M104.1 393.1h0M160.1 413.8h0M123.8 395.6h0M139.2 418.1h0M137.5 417.6h0M131.5 391.1h0M162.2 410.7h0M162.5 411.4h0M155.4 382.9h0M105.6 385.9h0M134.2 369.7h0M136.5 368.5h0M151.5 435.3h0M148.5 388.8h0M108.1 421.7h0M101.8 425.2h0M144.4 397.5h0M151 411.1h0M152.7 410h0M125.2 439.2h0M149.5 383.7h0M155.8 436.9h0M122.2 431.5h0M134.8 391.5h0M162.4 388.9h0M148.9 396h0M151 393.4h0M109.1 386.1h0M160.4 386.9h0M159.2 385h0M114.1 405.1h0M150.2 438.5h0M110.1 391.7h0M115.7 385.7h0M109.8 418.2h0M131.2 372.8h0M121.3 400.1h0M118.7 400.9h0M154.5 428.9h0M148 436.2h0M96 411.3h0M145.8 420.7h0M123.2 388.2h0M143.8 394.6h0M144.9 426.6h0M113 392.9h0M125.9 379.1h0M158.6 407.7h0M144.9 428.4h0M148.9 395.2h0M161.9 405.4h0M123.7 389h0M154.6 397.4h0M133.3 391.3h0M113.7 390.9h0M141.9 395h0M125.5 395.9h0M153.4 394.7h0M144 420.9h0M123.9 373.4h0M95.7 398.9h0M96.1 399h0M142 441.4h0M164.1 403.1h0M104.8 420.1h0M119.5 421.2h0M114.3 424.7h0M134.8 384.6h0M153.1 409.3h0M162.2 423.9h0M156.2 382.9h0M101.6 423.2h0M145.9 403.1h0M145.2 395.3h0M126 375.5h0M123.8 372.5h0M137 389.9h0M138.5 391.4h0M136.9 397.1h0M136.2 397.9h0M122.3 376.7h0M153.6 406.7h0M138.1 414.8h0M128.2 381h0M155.5 388.6h0M155.9 405.1h0M143 430.8h0M134.1 430h0M116.1 391.6h0M157.8 394.6h0M163.1 391h0M124.4 403h0M151.5 406.6h0M148.9 406.8h0M141 391.8h0M110.7 378.2h0M144.5 402.7h0M111.1 432.4h0M138 442.2h0M139.8 443.7h0M111.7 394.4h0M148.8 391.9h0M137.2 413.7h0M155.5 423.8h0M125.2 403.9h0M155.3 386.2h0M155.5 388.1h0M134.3 412.2h0M135.8 430.7h0M109 432.8h0M110.6 433.1h0M158.1 425.1h0M133.5 441.7h0M132.7 372.3h0M156.8 398h0M109.5 431.7h0M121.7 403.9h0M97 407.1h0M94.7 409.8h0M100.6 389.7h0M110.6 436.4h0M163.6 385.6h0M165.1 390h0M152.7 375.6h0M153.8 406.1h0M162.7 387.4h0M112.4 399h0M150.4 437.6h0M143.2 439.1h0M125.1 433.9h0M125.4 433.5h0M115.9 418.2h0M155.6 429.2h0M106.7 393.6h0M145.5 373.4h0M147.5 372h0M125.4 394.6h0M137.2 426.2h0M156.7 388.4h0M132.2 425.9h0M153.2 416.1h0M134.6 391.2h0M115.3 398h0M113.3 425.4h0M118.9 431.1h0M145.7 391.6h0M99.3 420.5h0M99.5 420.4h0M113.1 424.6h0M138.4 379.6h0M119.9 412.7h0M117.7 371.9h0M160.1 423.5h0M115.1 416.4h0M147.9 433.8h0M138.1 423.2h0M114.4 387.3h0M115.5 431.3h0M157.1 421.9h0M157.5 421.7h0M105 419.2h0M104.4 384.9h0M99.3 391h0M107.2 380.6h0M147.3 417h0M139.9 427.1h0M141.6 427.1h0M103.9 425.5h0M158.1 406h0M164.1 418h0M129.9 390.7h0M130.4 392.7h0M166.1 389h0M157.5 393.1h0M117.8 428.5h0M129.3 443.9h0M109.7 392.2h0M110.4 394h0M103.4 404.1h0M166.1 401.1h0M150.3 417h0M99.4 406.5h0M120.2 408.3h0M165.4 399.7h0M138.4 424.4h0M138.2 423.7h0M165.4 398.2h0M98.3 405.9h0M132.9 389.9h0M118.2 405.2h0M138.5 376.7h0M158.7 428.9h0M142 374h0M132.7 378.1h0M139.6 422.4h0M164.5 425.1h0M100.7 421.7h0M114.5 383.9h0M147.4 437.5h0M152.8 386h0M151 385.4h0M166.2 401.6h0M148.3 414.1h0M160 431h0M114.9 415.7h0M130.4 430.9h0M101.4 393.8h0M109.4 397.1h0M109.2 397.1h0M96.8 396.3h0M162.6 386.7h0M161.4 397.6h0M159.3 399.1h0M129.8 372.6h0M125.7 409.5h0M111.1 411h0M132 374.5h0M131.6 375.5h0M122.2 385.8h0M122.1 384.8h0M145.5 417.6h0M117.3 427.4h0M144.3 403h0M146 403.1h0M109.1 419.6h0M108.3 421.1h0M154.1 418.1h0M154.1 416.5h0M151.6 417.6h0M115.6 415.8h0M115.3 412.9h0M157 407.5h0M108.6 407h0M107.6 408.8h0M144.6 412h0M154.1 381.3h0M136.5 423.8h0M117.4 438.2h0M139.2 410.5h0M143.3 382.1h0M158.5 418.5h0M159.1 417.7h0M131.6 372h0M138.8 417.8h0M116.1 405.8h0M114.4 405.1h0M162.4 426.8h0M137.8 373.1h0M131.6 435.1h0M128.6 409.6h0M125.7 408.4h0M126.7 428.5h0M119.2 389.2h0M102 420h0M142.8 389h0M105.6 388.8h0M161.8 403.2h0M161.1 398.8h0M134.7 435.5h0M118.4 371.5h0M131.6 396.2h0M109.4 432.3h0M155.9 428h0M154.2 427.9h0M141.8 397.3h0M141.3 395.7h0M163.6 400.4h0M99.3 410.1h0M153.9 391.1h0M158.5 415.6h0M148.5 387h0M135.6 440.8h0M137.7 443h0M154.8 437.2h0M155.2 436.3h0M159.3 391.9h0M119.2 422.5h0M124.5 423.8h0M124.6 423.5h0M144.4 391.6h0M143.7 392.8h0M112.3 429.7h0M145.4 433.5h0M110.8 394.7h0M158.9 415.9h0M115.2 410.3h0M130 398.2h0M116.1 428.3h0M114.7 431.6h0M133.8 418.4h0M168.2 398.4h0M119.2 441.9h0M130.7 378.6h0M130.2 377.4h0M98.9 392.6h0M143.3 402.7h0M139.2 386.8h0M139.5 386.5h0M106.7 408.2h0M138.8 389.4h0M105.9 421h0M100.3 423.8h0M161.7 395.5h0M111.6 390.9h0M126.4 442.1h0M119.2 424.5h0M128.4 412.2h0M151.4 386.4h0M131.1 423.7h0M159.9 398.8h0M160.9 400.2h0"/>
<path stroke="#3d4fb3" stroke-width="2" stroke-linecap="round" d="M161.1 395.7h0M109 387.2h0M103.3 427.9h0M103.3 428.6h0M146.2 420.1h0M107.6 390.6h0M136.4 429.1h0M122.6 371.7h0M159 396.2h0M157.3 395.2h0M141.1 383.4h0M121 419.1h0M137.9 375h0M138.1 373.6h0M138.6 383.6h0M156.6 425.4h0M104.9 392.4h0M141.4 433.9h0M150.3 413.5h0M163.6 412.3h0M159.1 403.7h0M145.8 414.7h0M113.9 424.7h0M115.7 374.8h0M113.5 375.3h0M149 401h0M149.2 403.4h0M129.5 444.5h0M108.7 429.6h0M111.1 429.2h0M109.5 428.5h0M154.1 391.1h0M132.4 397.2h0M144.7 393.2h0M100.8 391.1h0M110.1 386h0M113.6 382.1h0M106.4 391.5h0M130.8 392.9h0M153.4 382.3h0M108.8 396.4h0M113.2 433.1h0M117.1 400h0M107.6 420.1h0M122.5 371.3h0M121.9 370.2h0M103.6 422.5h0M121.6 433.3h0M162.8 413h0M161.3 389.9h0M130.6 435.4h0M131.1 435.4h0M109.5 377.6h0M138.4 415.8h0M137.7 415.5h0M114.6 407.1h0M119.9 383h0M162.1 389.9h0M147.6 397.3h0M115 420h0M154.7 426.8h0M152.6 404.4h0M152.3 405.2h0M120.4 387.7h0M122.1 441.2h0M158.8 408.6h0M103.6 390.5h0M102.5 389.3h0M146.5 426.5h0M146.7 427.4h0M151.3 394.8h0M127.4 430.8h0M114.2 389.6h0M103 408.5h0M97.2 395.7h0M97 397h0M112.6 392.3h0M103.4 386.9h0M141.4 442.4h0M141.3 441.3h0M116.3 419.7h0M165.5 405.8h0M100.4 398.5h0M154.3 422.3h0M121.6 411.1h0M114.7 413h0M164.2 391.6h0M134.1 431.8h0M115.9 422.5h0M121.6 372h0M139.5 399.4h0M139.9 398.4h0M154.1 409.5h0M112.3 377.5h0M137.3 379.6h0M145.2 404.1h0M125.4 400.5h0M164.5 406.8h0M119.8 425.5h0M119 428h0M137.5 371h0M146.3 426h0M104 411.5h0M161.7 394h0M111.3 377.9h0M101.5 412.9h0M147 402.1h0M111.3 433.8h0M126.2 427.3h0M110.3 396.3h0M154.9 422.9h0M127 404.2h0M99.9 408.9h0M99.6 406.3h0M100.5 408h0M109.1 415.2h0M130.6 435.7h0M146.4 438.8h0M156.8 400h0M104.8 395.1h0M104.4 395.3h0M145.4 394.2h0M136 442.2h0M134.9 371.8h0M133.1 372.2h0M155.5 412.5h0M132.3 397.6h0M102.1 407.6h0M133.2 411.3h0M131.1 412.1h0M152.5 406.5h0M152.4 404.3h0M164.7 388.1h0M134.5 371.5h0M135.8 371h0M125.4 405.5h0M129.6 427.2h0M105 392.7h0M100.7 421.6h0M146.3 372h0M168.1 420.5h0M118.3 412.3h0M117.2 410.7h0M124.6 439.9h0M162.9 426.2h0M162.2 423.7h0M134.9 376.8h0M158.3 425.8h0M115.7 423.2h0M143.6 395.8h0M136.6 380.6h0M98.6 403.1h0M165.4 388.4h0M115.1 405.8h0M112.2 412.4h0M160.5 425.1h0M159.9 423.9h0M114.1 414.8h0M127.1 428.1h0M138.3 422.5h0M137.7 423.7h0M117.9 397.6h0M144.9 393.5h0M112.9 398.6h0M147.5 415.2h0M101.8 390.7h0M136.8 379.5h0M105.5 424.5h0M105 424.4h0M132.7 412.7h0M125.7 426h0M122 408.6h0M113.6 415.6h0M116.3 427.4h0M166 407.4h0M131.5 442.4h0M96.4 410.7h0M96.2 411.7h0M119.5 414.5h0M111.8 419.5h0M166.3 396.6h0M103.2 416.6h0M107.7 389h0M109 387.7h0M137.8 371.4h0M111.5 426.9h0M151.8 395.3h0M132.5 389.9h0M119.7 403.6h0M156.4 429.1h0M155.8 427.4h0M113.1 399.2h0M138.6 419.5h0M164.3 427.8h0M119.1 374.9h0M134.5 430.6h0M114.2 384.5h0M113.8 382h0M112.6 395.9h0M112.8 396.3h0M102.8 412.9h0M153.4 385.7h0M151.9 411.9h0M151.4 412.1h0M162.2 402.7h0M99.1 394.7h0M103.2 388.1h0M96.9 410.1h0M101.9 416.1h0M167.2 400.7h0M157 397.2h0M125.9 410h0M161.9 425.2h0M117.1 392.7h0M146.8 398.9h0M111 419.7h0M155.4 376.7h0M151.3 396.7h0M124.9 372.7h0M123.2 442.7h0M163.1 401.7h0M159.1 386.8h0M107.9 422.1h0M111.1 375.4h0M110.3 386.9h0M131.3 413.7h0M137.7 412.2h0M98.3 406.8h0M129.5 386.4h0M140.6 428.1h0M140.9 430.3h0M128.9 435.2h0M126.2 429.7h0M145.3 389.9h0M114.3 388.6h0M162.7 385.8h0M131.1 388.7h0M118.4 373.3h0M104.4 424.8h0M130.4 435.8h0M108.5 430.9h0M156.3 426.4h0M100.5 409.7h0M154.7 391.5h0M155.7 390h0M101.4 396.1h0M111.9 376.5h0M132.5 417.9h0M138.6 442.5h0M139.3 443.9h0M113.3 392.8h0M161 391.4h0M132.4 436.7h0M158.2 425.4h0M120.3 419.6h0M158.8 411.7h0M166.9 401.3h0M144.4 393.7h0M150.2 416.8h0M96.5 411.4h0M119.9 441.7h0M142.6 414.5h0M97 394.1h0M98.7 392.9h0M106.2 407.1h0M140.6 400.7h0M150.1 415.7h0M113.4 390.8h0M112.6 392.1h0M131 412.6h0M99.8 418.9h0M100.4 420.7h0M128 427.3h0M129.4 426.3h0M154.5 395.2h0M141.4 434.7h0M101.2 398.7h0M114.4 385.7h0"/>
<path stroke="#3d4fb3" stroke-width="2.4" stroke-linecap="round" d="M156.4 435.2h0M107.1 385h0M130.9 367.9h0M116.3 404h0M118.8 418.1h0M141.3 382.2h0M140 433.5h0M153 420h0M129.7 422.3h0M150.6 414.4h0M152.7 412.8h0M129.6 394.9h0M114.8 415.4h0M160 402.2h0M109.1 424.8h0M168.4 400.3h0M145.7 392.1h0M135.3 386h0M148.9 420.4h0M129.7 396.1h0M158 394.7h0M146.4 429.9h0M111.6 386.6h0M158.4 432h0M155.8 383.2h0M104 391.8h0M132.6 391.7h0M131.4 391.7h0M115.2 439.7h0M130.7 445.2h0M113.4 433.4h0M114.8 435h0M136.8 370.5h0M146.9 389.4h0M108.4 419.8h0M103 423.5h0M152.7 410h0M123.5 439.4h0M114.7 381.7h0M119 412.2h0M136.1 391.7h0M128.6 436.4h0M148.7 395.1h0M146.9 391.8h0M109 376.4h0M107.3 391.7h0M135.4 372.4h0M132.7 372.3h0M109 392.1h0M161 397.5h0M160.6 396.7h0M122.7 373.4h0M123.1 373.7h0M114.1 420.4h0M100.6 403.6h0M95.2 410.8h0M144.6 419.9h0M110.2 395.6h0M116.6 405.9h0M120.7 387.5h0M144.9 425h0M142.9 370.9h0M104.1 411.4h0M120.3 384.5h0M120.1 382.7h0M118.8 443h0M114.3 390.1h0M125.4 375.3h0M147.2 385.7h0M101.8 409.7h0M141.5 393.8h0M124.3 374h0M106.8 426.3h0M110.1 415.2h0M160.4 429.9h0M121.5 411.2h0M103.9 420.5h0M106.5 419.9h0M164.4 391.3h0M138.2 443.8h0M129.3 413.4h0M139.8 398h0M128.9 405.1h0M154.1 408h0M152.9 406.3h0M137 378.9h0M147.5 395.5h0M138.7 391.1h0M136.6 390.1h0M135.5 399.1h0M108.7 415.1h0M138.7 368.9h0M144.6 425.7h0M146.4 387.3h0M100.5 423.5h0M102.3 425.2h0M117 389h0M116.3 389.2h0M134.6 427.2h0M117.7 392.6h0M118.2 392.6h0M102.4 404h0M124.4 401.3h0M123 404.2h0M109.3 379.8h0M126.4 426.1h0M128 416.2h0M148 383.6h0M153.4 385.6h0M144.4 383.4h0M143.9 382.2h0M129.3 393.1h0M101.9 391h0M117.8 390.1h0M134.7 412.1h0M158.5 428h0M135.3 432.7h0M102.8 409.8h0M149.5 400.1h0M139.2 442.4h0M133 371.5h0M157.1 398.4h0M158 400.2h0M128.5 426.2h0M150.1 377.9h0M101.5 389.9h0M161.1 385.5h0M163.3 392h0M161.9 396.3h0M134.1 394.6h0M133.3 411.3h0M141.9 440.6h0M124.6 433.9h0M105 391.6h0M147.9 373.2h0M136.3 426.1h0M133.1 421h0M134.2 420.8h0M133.7 402.3h0M106.5 395.8h0M132.4 424.9h0M134.4 377.2h0M120 429.5h0M106.7 389.3h0M136.5 437.7h0M144.6 380.2h0M152.7 376.6h0M167.4 410.6h0M129.5 430.8h0M111.5 413.3h0M117.3 370.5h0M132 419.2h0M160.4 423.3h0M149 432.5h0M141.4 434.8h0M141.5 435.8h0M117.5 397.3h0M132.7 435.5h0M133 435.1h0M136.4 433.5h0M115.1 412.3h0M118.2 437.9h0M108.2 381.3h0M146.5 415.6h0M100.9 419.7h0M155.5 382.8h0M135 435.4h0M106.4 423h0M138.1 383.3h0M145.7 411.3h0M158.6 405h0M163.3 400.5h0M164.2 418.1h0M128.8 391.3h0M116 429.3h0M102.9 402.3h0M120.4 413.7h0M118.7 414.6h0M152.4 417h0M98.6 406.6h0M130.6 373.9h0M111 418.4h0M126.3 394.7h0M107.6 386.2h0M109.2 386.4h0M141.9 381.4h0M139.9 381.9h0M142.3 382.1h0M109.9 426.7h0M153.3 396h0M138.3 378h0M156.5 428.2h0M141.9 434.6h0M101 413.4h0M102.5 413.1h0M125.6 426.9h0M129.7 429.6h0M128.9 429.3h0M129.9 386.9h0M129.6 386.1h0M161 430.9h0M149.4 411.9h0M116.5 416h0M99.3 396h0M101.5 394.9h0M166.4 395.5h0M103.4 387.9h0M160.1 411.2h0M99.2 398.8h0M147.8 405.4h0M163.3 386.8h0M103.1 418h0M129.2 373.2h0M130.1 372.1h0M161.7 424.9h0M110.1 410.1h0M140.6 390.4h0M125.9 373.6h0M112.7 421.3h0M146.2 415.6h0M145.5 404.6h0M142.5 433.3h0M120.4 376.7h0M157.3 405.9h0M122.5 442.2h0M115.5 393.2h0M126 384.8h0M145.7 413.1h0M155 385.5h0M161.6 383.1h0M111.8 377h0M132.3 413.9h0M158.8 418.5h0M137 422.4h0M136.2 371.1h0M103.4 420.2h0M141.7 430.6h0M127.5 408.2h0M105.7 421.2h0M163.8 408.4h0M162 408h0M163.2 408.4h0M130.6 387.7h0M112.3 405.6h0M102.7 425.4h0M104.8 426.3h0M132.3 395.4h0M161.6 398.4h0M159.1 413.3h0M126.2 400.8h0M127.8 439.9h0M113.3 428.8h0M112.9 427.5h0M168.5 418.1h0M160.1 418.2h0M139.2 424.8h0M142.4 370h0M134.8 419.4h0M134.5 418.6h0M118.5 441.1h0M142.2 416.7h0M129.5 377.5h0M139.9 384.4h0M144.2 400.3h0M138.9 402.5h0M140.3 400.9h0M138.8 388.8h0M148.2 413.7h0M101.3 424h0M163 396.3h0M166.7 417.9h0M111.3 390h0M108 398.9h0M153.7 385.2h0M101.3 420.7h0M100.8 401.4h0M151.6 384.1h0"/>
<path stroke="#3d4fb3" stroke-width="2.8" stroke-linecap="round" d="M160.9 392.7h0M114 429.4h0M147.6 419.9h0M132.5 368h0M158.2 396.7h0M119.4 419.2h0M140.8 431.5h0M162.7 421.8h0M161.5 399.6h0M150.3 423.8h0M131.6 397.1h0M131.5 382.3h0M142.9 413.9h0M137.6 422.6h0M158.6 387h0M147.9 381.2h0M154.1 391.9h0M106.7 384.3h0M114.1 384h0M156.6 385.7h0M104 391.1h0M163.4 412.8h0M153.3 383.9h0M109.4 399.3h0M150.8 436.5h0M117.1 398.7h0M107.9 394.4h0M150 395.8h0M109 384.2h0M107.6 390.3h0M165.5 403.1h0M166.3 403.6h0M120 383.2h0M116.6 387.9h0M147.8 397h0M139.4 442.2h0M120.9 373.7h0M148.8 435.1h0M146.8 419.7h0M115.5 406h0M145.4 425.4h0M123.3 438.8h0M113.1 393.3h0M125.4 379.3h0M115.3 396.5h0M158.2 408.4h0M115.1 423.7h0M143.4 370.3h0M104.3 408.7h0M120.1 382.7h0M144.1 424.6h0M126.8 428.4h0M145.3 400.5h0M148.1 386.9h0M97 395.9h0M154.5 394.8h0M123.9 372.5h0M106.6 425.3h0M164.8 403.7h0M100.1 398h0M131.4 422.8h0M130.9 405.7h0M151.4 428.7h0M112.7 376.7h0M145.6 440.3h0M108.9 414.5h0M142.9 424.1h0M156.8 404.9h0M143.1 430.2h0M155.3 437.3h0M162.4 394h0M132.7 380.4h0M140.8 419.3h0M163.7 389.7h0M158.2 380.1h0M159.9 380.1h0M147.4 403.9h0M151.9 395.4h0M146.6 390.5h0M154.4 421.5h0M129.7 425.5h0M116.8 394.8h0M98.5 415.7h0M169 394.1h0M146.7 439.9h0M120.8 390.2h0M158.7 425.5h0M138.3 442.8h0M151.4 398.2h0M95.8 407.6h0M111.9 438.4h0M162.7 398.2h0M151.5 404.3h0M165.4 387.5h0M145.5 411.5h0M158.1 428.3h0M131 427.2h0M128 426.3h0M107.8 391.6h0M137.1 374h0M134.4 400.8h0M144.8 408.4h0M131.9 425.8h0M163.8 423.8h0M126.6 440.6h0M127.1 438.3h0M145.3 396.4h0M105.9 388.2h0M107 389.2h0M167.9 407.9h0M141.2 396.6h0M168.8 410.7h0M134.8 382.4h0M132.3 377.4h0M130.8 418.4h0M149.1 429.2h0M154.8 391.2h0M158.6 382.8h0M134.7 434.5h0M115.1 420.9h0M113.9 387.3h0M157.8 422.8h0M103.2 385h0M115.7 411.4h0M117.4 436.8h0M139.5 424.5h0M167.5 402.2h0M132.4 412.4h0M122 407.6h0M160.7 398.4h0M163.9 415.7h0M130.2 444.5h0M111 393.4h0M124.3 373.1h0M102.2 389.1h0M138.5 424.2h0M165.7 396.8h0M130.6 375.4h0M140.8 420.2h0M163.8 426.1h0M98.7 391.7h0M139.8 434.6h0M142.4 377h0M106 381.7h0M148.5 410.4h0M148.3 411.4h0M128.7 428.7h0M130.8 431.1h0M164.3 398h0M110.9 408.6h0M127 373.8h0M112.4 420.8h0M114.9 425.9h0M144.1 403.7h0M107.4 420.6h0M163.1 392.2h0M142.6 433.3h0M120.4 376.7h0M115.3 390.9h0M114.1 392.9h0M107 409.4h0M104.6 396.7h0M102.9 397.4h0M102.1 398.8h0M157.1 384.9h0M155 384.6h0M136.5 398.2h0M112.1 375.6h0M141.7 432.7h0M137.4 415.5h0M113.9 405.7h0M97.1 405.2h0M106 422.6h0M118.1 388.2h0M100.6 422h0M114.4 389.4h0M160.1 397.2h0M135.8 436.2h0M119.5 371.7h0M100.5 411h0M158.7 415.5h0M151.7 400.4h0M160 411.6h0M165 405.7h0M153.1 376.7h0M166.5 401.7h0M165.5 400.8h0M116.8 427.4h0M117.2 439.6h0M132.4 412.9h0M127.8 437h0M129.6 376.7h0M137.1 388.1h0M137.2 391h0M148.4 415.7h0M94.9 403.2h0M94.6 404.5h0M162.5 394.3h0M167.3 417.4h0M131.9 423.3h0M130.9 425.9h0M117.1 427h0M101.2 400.8h0M141.1 402.4h0M133.3 414.6h0"/>
<path stroke="#3d4fb3" stroke-width="3.2" stroke-linecap="round" d="M161.4 394.4h0M106.8 385.4h0M119.9 382.9h0M102.9 389.3h0M115.7 402.9h0M139.3 383h0M160.9 399.3h0M163.6 389.1h0M155 418.5h0M101.6 397.3h0M164 412.4h0M164.3 411.6h0M159 402.7h0M109.6 424h0M107.2 395.5h0M105.6 385h0M146 391.4h0M136.2 387.1h0M150.5 418.4h0M151.3 397.5h0M107.2 387.1h0M108.9 387.1h0M113.4 405.9h0M143 380.8h0M122.7 395.8h0M155.3 381.6h0M113.7 431.9h0M149.7 389.8h0M149.5 388.4h0M106.9 393.6h0M105 423.4h0M124.7 439.9h0M115.3 380.6h0M156.9 436.2h0M140.4 416.9h0M159.1 387.9h0M109 384.9h0M109.5 391.4h0M160.4 384.5h0M148.6 434.5h0M142.3 393.4h0M144.5 425.6h0M113.5 393.1h0M120.5 385h0M112.7 391.8h0M143.4 393.3h0M143.6 423h0M115.6 421.7h0M117.6 430.7h0M167.8 412.2h0M115.8 412.4h0M121.6 422.5h0M163.3 390.9h0M118.7 371.5h0M163.6 424.8h0M104 404.8h0M138.1 387.7h0M105.6 378.8h0M144.9 425.2h0M118.5 386.9h0M104.9 404.6h0M104.2 403.4h0M157.2 394.5h0M162.9 392.2h0M124.8 402.9h0M140.6 392.3h0M103.1 412.5h0M146.7 403.9h0M138 443.5h0M129.1 426.6h0M162.2 396.8h0M152.8 397.6h0M115.3 396h0M126.2 405.7h0M96.7 415.8h0M168.8 394.6h0M129.8 394.5h0M103 389.6h0M121.6 389.7h0M145 438.4h0M160.7 427.7h0M160.5 427.8h0M159.1 399.5h0M105.6 395.6h0M110.4 433.6h0M144.6 396.4h0M145.9 395.2h0M134.2 441.6h0M131 427.7h0M110.2 432.4h0M122.5 404.3h0M103.1 388.8h0M134.3 370.8h0M150.1 437.4h0M157.7 417h0M99.7 419.3h0M166.4 423.4h0M118.9 412.5h0M155.8 387.8h0M123.1 442.2h0M122.8 441.8h0M123.8 377.6h0M112.9 397.5h0M119.8 428.4h0M136 382.5h0M119.9 370.6h0M119.5 384.9h0M101.6 390.7h0M141.5 436h0M159.4 385.1h0M159.9 386.1h0M112.2 390.2h0M114.2 421.5h0M112.7 419.7h0M121.8 402.1h0M95.3 408.9h0M150.2 409.2h0M144.1 392.9h0M142.7 393.7h0M102.5 386.3h0M100.6 391.6h0M127.3 396.9h0M155.3 384.8h0M102.1 392.5h0M103.2 395.5h0M147.5 412.2h0M165.2 390.2h0M154.9 393.4h0M166.1 405.3h0M98.3 411.7h0M99.9 387.2h0M165.2 397.5h0M98.3 404.5h0M100.9 392.1h0M102.7 418.9h0M132.4 371.1h0M112.1 426.6h0M153 394.9h0M134.1 389.5h0M120.3 405.6h0M120.8 373.6h0M119.3 434.6h0M144.7 433.3h0M127 429.5h0M130.1 385.1h0M111.6 420.7h0M149.2 413.6h0M159.8 430.3h0M159.2 430.5h0M145.7 430.3h0M144.7 389.4h0M145.4 390.7h0M107.8 399.4h0M96.1 409.2h0M98.5 397.7h0M126.3 408.5h0M116 393.4h0M146.3 397.7h0M144.8 398.1h0M146 417h0M116 425.5h0M161 414.5h0M107.3 421.6h0M164 391.7h0M152.1 435.2h0M122.7 371.5h0M162.3 390.1h0M123.4 382.6h0M153.9 381.5h0M156.3 381.5h0M156.4 382.1h0M129.6 415h0M150 402.8h0M145.9 377.8h0M114.6 406.3h0M142.5 429.3h0M102 420.9h0M156 433.1h0M161.5 402.9h0M164.6 408.4h0M119.8 372.6h0M131.6 436.2h0M112 386.7h0M163.8 399.2h0M152.3 402.1h0M112.1 393.8h0M133.4 437.3h0M158.4 425.9h0M117.8 419.5h0M167.8 403.4h0M112.8 427.3h0M165.6 423.2h0M159.4 416.1h0M106.8 397.3h0M142.8 370.2h0M141.6 370.1h0M141.6 372.5h0M135.6 403.4h0M114.2 437.3h0M94 403.2h0M131.8 425.6h0M135 441.8h0M158.4 398.3h0M158.6 399.1h0M99.2 417.9h0M128.5 420.2h0M155.8 396.3h0M99.9 401.2h0"/>
</g></g>
<circle cx="132.5" cy="406.8" r="37.3" fill="none" stroke="#444" stroke-width="0.8"/>
<circle cx="54.4" cy="529.75" r="37.7" fill="#e4e2ee"/>
<g clip-path="url(#pl23)">
<path stroke="#4558c0" stroke-width="0.8" stroke-linecap="round" d="M40.1 520.4h0M75.2 552h0M59.6 558.1h0M76.6 543h0M26.2 511.7h0M67.8 559.2h0M64.9 505.8h0M69.8 540.7h0M36.4 549h0M58.8 504.5h0M70.2 500.4h0M41.3 537.3h0M87.4 518.8h0M54.2 492.7h0M28 555.5h0M38.2 533.3h0M89.1 518.6h0M36.4 526.4h0M66.2 501.4h0M77.5 513.2h0M40.7 496.5h0M47.7 552.6h0M22.3 517.7h0M77.4 522.5h0M24.4 521.7h0M23.9 535.4h0M87.9 530.6h0M44.9 509.2h0M28.8 543.3h0M25.6 519.2h0M74.9 514.6h0M77.7 502.7h0M43.7 552.7h0M79.2 523.3h0M26.5 520h0M75.5 543h0M69.1 510.1h0M36.2 534.1h0M68.8 510.1h0M29.8 502.1h0M48.8 564.1h0M65.1 512.3h0M69.3 562.7h0M39.7 557.7h0M65.4 515.9h0M73.7 506.1h0M91.2 525.7h0M21.1 522.3h0M80.6 539.8h0M55.1 558h0M23.5 540.8h0M32.5 508.4h0M24.8 543.6h0M27.1 552h0M69.3 533h0M49.7 562.2h0M25.2 521.8h0M38.6 532.4h0M27.7 508.7h0M49.1 553.8h0M62.2 500h0M79.8 511.6h0M63.1 513.2h0M29.6 502.7h0M77.4 506.9h0M50.5 496.2h0M70.1 561h0M46.3 516.5h0M31.7 503.6h0M79.3 512.6h0M85.2 547.2h0M26.5 505.6h0M65.4 501.7h0M72.8 500.4h0M86 511.1h0M35.5 553.2h0M54.7 547.8h0M19.7 538.8h0M54.9 560.6h0M56.3 497.5h0M67.8 523.2h0M76.6 544.3h0M62.2 501.2h0M48.3 549.1h0M39.5 553.5h0M49.7 537.5h0M37.5 531.3h0M48.9 564.6h0M75.9 511.1h0M36.4 558.3h0M72.9 504.3h0M72 536.9h0M47.6 563h0"/>
<path stroke="#4558c0" stroke-width="1.2" stroke-linecap="round" d="M64.5 535.8h0M26.1 527.5h0M79.7 539.3h0M37.2 503.4h0M30.4 557.7h0M29.9 517.8h0M73.5 544.9h0M81.3 514.7h0M75.2 513.1h0M70.3 500.7h0M81.6 551.8h0M21.4 533.9h0M38.5 499.3h0M27.6 550.4h0M74.9 554.2h0M46.9 501.4h0M69.3 498.9h0M42.8 555.8h0M38.7 507.7h0M43.7 538.1h0M67 504.2h0M52.2 492.9h0M83.7 542.1h0M42.6 559.9h0M90.8 534.9h0M85.7 519h0M59.2 513.5h0M91.3 529.8h0M23.5 515.4h0M33.4 557.3h0M62 508.3h0M67.3 545.3h0M68.5 501.3h0M84.2 526.7h0M85.9 527.9h0M73.8 557.4h0M21.4 537.3h0M31 552.7h0M61.7 520.8h0M80.5 550.2h0M83.4 520.9h0M52.5 501.9h0M61.3 494.1h0M42 517h0M51.9 509.4h0M43.5 554.9h0M76.1 545.7h0M30.6 518.3h0M51.3 500.8h0"/>
<path stroke="#4558c0" stroke-width="1.6" stroke-linecap="round" d="M88.8 518.2h0M32.1 518.8h0M72.6 561.5h0M41 497.6h0M29.8 520.1h0M76.1 556.6h0M30.2 543.1h0M25.3 540.8h0M76.7 541.7h0M70.2 558.3h0M40.6 563.4h0M58.5 502.6h0M23.3 513.7h0M82.2 514.2h0M41.6 548.1h0M70.9 520.8h0M32.2 518.8h0M29.4 508.5h0M28.9 512.8h0M70.1 515h0M30.3 505.3h0M30 502.5h0M31.2 507.6h0M58.9 561.3h0M76.2 519h0M87.3 525.9h0M37 537.3h0M57.1 494.5h0"/>
</g>
<circle cx="54.4" cy="529.75" r="37.3" fill="none" stroke="#333" stroke-width="0.8"/>
<circle cx="134.5" cy="529.1" r="38" fill="#dcdcea"/>
<g clip-path="url(#pl24)">
<path stroke="#3e52be" stroke-width="0.8" stroke-linecap="round" d="M152.1 501.3h0M135.2 514.2h0M103.1 540.6h0M153.7 558.5h0M111.6 522.9h0M166.5 512.7h0M167 544.3h0M158.3 500.3h0M164.3 513.9h0M150.7 552.7h0M101.4 522.3h0M153.6 509.8h0M158.4 538.2h0M113.4 545.3h0M128.1 551.9h0M130.5 565h0M160.6 532.3h0M158.2 511.7h0M146.9 553.6h0M125.4 500.6h0M144.3 494.3h0M118 506.9h0M143.5 552.2h0M151.3 525.6h0M163.7 518.8h0M155.4 537.8h0M100.2 514.6h0M152.1 534.4h0M130.8 494.6h0M137 562.6h0M162 516.6h0M120.1 554.2h0M159 516.7h0M109.2 518.3h0M104.2 511.6h0M147.6 545.2h0M126.3 499.2h0M145.2 513.8h0M158.6 509.6h0M123.2 517.6h0M143.7 547.1h0M133.4 566.2h0M137.2 499.7h0M102.4 512.6h0M156.2 551.5h0M106.3 544.1h0M130.5 506.6h0M143.9 497.4h0M137.7 527.2h0M127.2 557.6h0M141.6 495.9h0M103.4 529.6h0M106.3 541.5h0M145.7 543.8h0M150.2 495.2h0M109.2 501.6h0M109.1 512.4h0M112.4 544.7h0M169.8 523.2h0M159.5 556h0M109.3 501.4h0M138.8 564.7h0M114.2 536.9h0M148 551.7h0M112.3 559.2h0M153.7 539.9h0M122.3 532.6h0M118.1 522.8h0M116.7 544.4h0M103.2 545.1h0M143.4 542.3h0M139.3 506.1h0M159.2 510.4h0M110.1 503.6h0M152.9 546.8h0M127.9 560.1h0M108.9 555.5h0M105.7 506.4h0M142.5 516.2h0M127.1 523.6h0M139.7 504h0M135.8 544.9h0M128.1 495.4h0M154.2 525.9h0M119 550.4h0M115.8 500.4h0M119.6 507.9h0M113.2 510.4h0M150.2 537.6h0M151.7 513.4h0M130.7 502.7h0M153.9 560.1h0M152.3 524.3h0M137.2 534.1h0M124.3 560.5h0M158.7 515h0M101 514.5h0M147.8 542.6h0M136.7 504.2h0M138.9 501.9h0M153.5 505.2h0M168.7 519h0M110.1 505.4h0M148.5 533.5h0M133.2 551.1h0M149.4 542.2h0M153.3 531.2h0M104.2 529h0M113.6 536.8h0M148.6 560.1h0M139.8 544.7h0M132.3 516.2h0M102.3 530.9h0M102.6 531h0M111.8 529h0M138.8 511.4h0M155.6 513.3h0M125.7 493.9h0M147.7 495.1h0M148.4 533h0M132.3 542.6h0M137.2 491.9h0M149.5 498.4h0M156.4 515.4h0M132.2 551.8h0M99.6 536.2h0M143 493.1h0M161.3 518.6h0M114.4 502.1h0M162 554.4h0M133.3 554.7h0M100.4 542.2h0M165.3 527.1h0M124.3 519.3h0M141.5 555.7h0M110.2 538.1h0M125.2 500.1h0M150.4 509.3h0M155.3 518.5h0M125.9 557.5h0M137.2 548.3h0M150.7 539h0M125 564.3h0M153.3 497.4h0M129.1 561.6h0M162.9 551.7h0M97.6 527.2h0M168.4 520.6h0M101.1 512.7h0M139.5 515.1h0M144.8 557.2h0M106.1 542.4h0M157.9 555.9h0M171.7 532h0M122.6 519.7h0M152.5 520.5h0M152.8 526.2h0M128.2 561.2h0M130.3 545.5h0M147.8 530.9h0M144.5 514.2h0M106.9 544h0M103.6 538.4h0M164.5 538.4h0M159.6 512.1h0M165.3 548.5h0M148.4 498.8h0M169.1 517.7h0M102.2 540.9h0M137.1 545.7h0M111.8 540h0M110.5 530.9h0M134.5 550.4h0M106.7 522.7h0M108.6 544.6h0M112.2 500.4h0M134.5 565.5h0M116.1 520.8h0M151.7 543.5h0M144.9 551.9h0M118.3 551.4h0M147.2 534.2h0M109.9 503.5h0M130.2 554.6h0M151.4 499.2h0M100.9 543.3h0M106.8 518h0M132.4 561.5h0M101 541.9h0M160.4 520.3h0M132.4 565.2h0M144.5 557.1h0M157.3 509.3h0M167.3 539h0M127.9 561.4h0M116.5 551.8h0M156.2 514.7h0M156.5 538.2h0M118.9 548.9h0M112.6 539.7h0M107.3 533.1h0M124.4 497.4h0M154.9 520.7h0M165.5 545h0M147.8 550h0M116.7 552h0M141.1 499.3h0M154 548.5h0M168.7 532.2h0M151.9 557.6h0M161.3 536.6h0M131.5 560.8h0M168.7 517.2h0M138.1 560h0M147.9 551.4h0M167.5 518.3h0M110.8 500.8h0M156.7 544.8h0M101.6 520.2h0M107.8 539.6h0M156.9 523.2h0M169.2 523h0M114.7 546.5h0M108.4 533.8h0M103 520h0M159.5 528.4h0M164.5 506.6h0M121.7 496.6h0M160.6 504.2h0M120.3 561.7h0M106.1 536.6h0M113 507.3h0M112.8 557.4h0M137.9 554h0M145.4 564.8h0M119.5 556.9h0M151.5 497.8h0M162.5 509.2h0M122.2 551.3h0M157.9 549.5h0M142.9 550.6h0M125.2 502.4h0M159.3 519.5h0M121.5 522.2h0M135.7 562.8h0M150.8 528.5h0M143.5 546h0M106.3 519.2h0M140.1 559h0M102.1 522.1h0M109.1 514.3h0M112.2 548.3h0M103.7 529.7h0M114.8 558.6h0M160.1 514.1h0M115.6 524.9h0M146 562.7h0M112.3 530.8h0M164.2 541.6h0M161.1 525.5h0M147.3 509.2h0M169.4 539.4h0M102.9 531.6h0M105.8 535.8h0M147.4 505.4h0M164.9 546.3h0M136 561h0M99.6 536.4h0M171.1 535.5h0M100.8 528.1h0M156.2 518.2h0M124.4 564.2h0M135.7 543.6h0M159.1 521.5h0M128.7 501.8h0M163.7 515.8h0M166.2 541.8h0M158.4 525h0M123.7 513.3h0M169.7 531.2h0M103.4 511h0M113.6 542.1h0M129.3 564h0M154.7 539.1h0M148.2 527.5h0M111.8 523.9h0M164 530h0M128.3 493h0M110.8 526.9h0M123.2 502.6h0M112.8 526.8h0M152.3 554.6h0M152.1 538.8h0M138.2 562.6h0M116.8 537.7h0M104.9 522.2h0M141 493.3h0M156 538.9h0M133.9 559.1h0M119.6 504.4h0M113.4 548.3h0M138.6 496.1h0M123 528.5h0M160.4 519.9h0"/>
<path stroke="#3e52be" stroke-width="1.2" stroke-linecap="round" d="M147.4 564.3h0M132.3 560.4h0M143.2 549.3h0M100.9 520.7h0M145.3 494.6h0M133.9 536.9h0M106 544.9h0M146.9 544.2h0M138.7 515.6h0M133.6 561.9h0M138.5 564.4h0M136 504.4h0M126.9 549.2h0M154.8 521.9h0M136.3 565.7h0M128.7 509.9h0M160.7 506.1h0M162.8 529.9h0M162 522h0M155.2 543.3h0M158.4 538.9h0M135.5 561.2h0M123.8 508.7h0M106.2 523.8h0M128.6 498.8h0M102.2 547.6h0M155.8 555.2h0M123.7 509.8h0M157.7 517.4h0M115.7 505h0M163.7 513.6h0M161.9 521.9h0M160.9 529.3h0M151.8 551.4h0M132.1 506.9h0M154.1 527.8h0M105.6 510.8h0M152.7 530.5h0M149.7 511.3h0M109 524.6h0M119.8 540.8h0M117.1 506.1h0M155.9 538.6h0M147.8 541h0M166.7 519.6h0M121.1 547h0M121 511.5h0M129.3 500h0M116.8 501.9h0M153.3 516.6h0M113.7 518h0M147.5 539.9h0M150.1 520h0M151.6 512.4h0M166.6 541.2h0M136.8 511.5h0M122.8 529.6h0M147.8 503.6h0M126.5 498.5h0M131.9 511.3h0M108.7 529.9h0M106.1 516h0M109.3 537.9h0M158.2 527h0M132.7 535.8h0M115 515.6h0M140.7 559.8h0M151.2 543.2h0M115 499.2h0M150.1 529.6h0M138.4 565.5h0M132.5 512.8h0M108.4 550h0M120.2 527.8h0M115 538.4h0M102.7 521.8h0M116.7 513.9h0M111.4 528.6h0M103.1 546.2h0M148.1 511.1h0M114.1 551.1h0M111.8 545.3h0M117.1 520.2h0M123.8 555.7h0M103.6 527.9h0M162.7 517h0M147.1 540.6h0M159 530.6h0M151.7 497.9h0M98.7 523.7h0M167 514.2h0M122.1 527.2h0M121.6 536.3h0M156.8 507.8h0M110 517.7h0M150.9 561.1h0M130.6 497.5h0M153.1 514h0M104.2 527.4h0M129.2 549.9h0M165.1 538.4h0M156.1 500.3h0M147.7 503.4h0M104.4 510.9h0M149.4 558.5h0M135.5 535.2h0M120.3 531.4h0M135.3 494.2h0M145 558.2h0M122.6 531.1h0M163.7 552.6h0M166.6 519h0M121.5 524.6h0M126.1 561.9h0M171.2 523.4h0M129.5 514.2h0M164.3 531.4h0M106.9 525.6h0M146.2 496.8h0M164.9 533h0M130.6 507.9h0M120.1 520.5h0M134.1 538.8h0M105.1 551.3h0M104.8 516.8h0M105.3 550.2h0M98.2 535.8h0M114.4 519.9h0M135.6 514.1h0M119.4 520.3h0M121.1 549.8h0M166.8 527.3h0M129 499.6h0M151 507.4h0M129.4 502.6h0M144 506.7h0M167.4 524.9h0M133.3 493h0M145.6 495.8h0M130.6 566.1h0M127.3 562.1h0M115.4 508.3h0M137.8 558.8h0M136.7 564.8h0M120.5 563.5h0M121.7 510.1h0M134.2 525.1h0M146.6 503h0M128.5 501.5h0M104.8 525.7h0M151.4 523.7h0M124.8 558.2h0M107.3 544.6h0M124 521.5h0M113.2 522.4h0M115.5 522.5h0M139.7 554.7h0M144.3 522h0M153.6 551.7h0M105.5 510.1h0M152 527.3h0M114.2 514.3h0M133.3 545.8h0"/>
<path stroke="#3e52be" stroke-width="1.6" stroke-linecap="round" d="M129.3 496.7h0M166.2 547.9h0M144.2 498.6h0M109.9 549.1h0M108.6 534.2h0M111.8 536.7h0M145.1 528.4h0M120.4 559.8h0M137.4 516.1h0M155.7 498.4h0M126.8 549.7h0M123.1 562.8h0M129.8 493.3h0M111.1 533.5h0M151.4 500.4h0M151 509.6h0M164.5 520.4h0M137.3 549.1h0M107.3 528.5h0M154.4 539h0M154.4 543.1h0M169.7 517.3h0M127.2 564.1h0M109.4 526.8h0M114.1 504h0M165.6 534.2h0M145.8 518.8h0M137.9 561.4h0M147.6 529.7h0M118.7 547.2h0M101.2 543.9h0M109.4 537.2h0M159.3 545.9h0M110.8 557.7h0M131.1 566.3h0M152.6 513.1h0M164.5 538.2h0M152.6 501.8h0M101.9 530.3h0M140.1 519.5h0M150 508.5h0M115.3 560.4h0M162.4 523.7h0M163.7 543.8h0M139.1 551.1h0M162.7 528.6h0M133.2 521.1h0M152.7 558.8h0M130.5 527.3h0M128.2 536.1h0M170.4 535.4h0M113.9 511.2h0M151.2 514.1h0M109.2 534.5h0M112 553.8h0M155.1 541.3h0M160.6 512.8h0M103.5 541.8h0M114.7 538.5h0M137.5 504.7h0M159.4 522.3h0M163.6 528.6h0M120.7 506.3h0M145.5 495.3h0M148.3 545.4h0M157.2 501h0M107.1 521.9h0M104.9 523.1h0M141 503.3h0M111.1 515.6h0M127.3 507.1h0M104.3 513.8h0M149.7 529.9h0M139 521.7h0M115.3 551.2h0M123.8 537.3h0M139.8 563h0M116.3 524h0M158.9 514.2h0M103.6 520.6h0M127.6 538h0M108.1 530.1h0M160 522.2h0M137.1 513.7h0M127.5 541.4h0M142.2 495.2h0M143.2 523.1h0M118 504.8h0M128.1 493.2h0M145 518.8h0M142.2 536.9h0M144 542.4h0M112.9 502.8h0M161.8 534.2h0M118.5 507.8h0M145.9 548.8h0M162.1 534.1h0M133.8 499.5h0M110.2 507h0M112.7 544.4h0M111.1 551.5h0M168.5 544.3h0"/>
<path stroke="#3e52be" stroke-width="2" stroke-linecap="round" d="M152.7 508.7h0M118.2 527.4h0M120.9 504.3h0M117.3 528.5h0M167.5 540.3h0M143.3 509.7h0M118.7 527.2h0M106.9 538.4h0M137.7 498.4h0M138.8 565.9h0M127.1 522.3h0M164.6 508.8h0M151.8 560.9h0M121.7 550.7h0M104.6 517.3h0M128.1 494.2h0M152 518.8h0M151.4 546.6h0M150.9 500.7h0M132.6 559.9h0M128.9 496.1h0M127.3 546.5h0M148.4 507.6h0M115.8 516.7h0M119.3 554.5h0M120.2 516.9h0M137.5 545h0M160.5 528.1h0M133.6 536.9h0M114.1 546.2h0M127.6 506h0M149.8 505.9h0M157.1 511.7h0M115.4 550h0M124.7 557.3h0M99.8 537h0M155 546.9h0M113.8 500.7h0M117.7 552.4h0M107.7 545.9h0M102 544.2h0M154.9 521.3h0M158.8 551.9h0M125.8 497.3h0M103 509.2h0M149.4 522.6h0M148.7 508.5h0M101.1 528.1h0M166 546.2h0M166.1 548.6h0M106.2 530h0M126.9 547.5h0M150.7 510.7h0M149.8 557.6h0M148.9 550.4h0M108.2 516.7h0M157.1 551.8h0M101.1 537.5h0M159.9 507.4h0M127.9 552.2h0M150.4 551.5h0M106.6 523h0M146.1 534.9h0M154.8 506h0M155 535.7h0M135.2 553.9h0M131.5 513.9h0M136.5 508h0M146 549.5h0M144.8 544.3h0M154.3 552h0M155.7 545h0M143 521.1h0M146.7 559.6h0M165.9 509.2h0M119.4 536.6h0M153.9 519h0M153.3 545.5h0M158.9 512.2h0M147.2 510.1h0M103.2 531.3h0"/>
</g>
<circle cx="134.5" cy="529.1" r="37.55" fill="none" stroke="#333" stroke-width="0.9"/>
<text x="391.25" y="343" font-size="14.5">MDA-MB-231</text>
<text x="339.5" y="363.75" font-size="12.3">siNC</text>
<text x="401.25" y="363.75" font-size="12">siTRIM25#1</text>
<text x="483" y="363.75" font-size="12.3">siTRIM25#2</text>
<text x="417.5" y="466.25" font-size="14.5">MCF7</text>
<text x="340.75" y="486.25" font-size="12.3">siNC</text>
<text x="402" y="486.5" font-size="12">siTRIM25#1</text>
<text x="483.75" y="486.75" font-size="12.3">siTRIM25#2</text>
<circle cx="355.4" cy="406.5" r="38.4" fill="#e5e5ed"/>
<g clip-path="url(#pq31)"><g filter="url(#pb31)">
<circle cx="355.4" cy="406.5" r="36.65" fill="none" stroke="#5562bf" stroke-width="3.5" opacity="0.6"/>
<path stroke="#4856b8" stroke-width="0.8" stroke-linecap="round" d="M362.2 412.8h0M362.4 433.5h0M366.7 379.9h0M338.6 381.6h0M323.4 396.3h0M349.2 413.8h0M370.5 434h0M372 434.3h0M362.3 429.1h0M337.9 382.4h0M388.3 417.5h0M390.2 417.8h0M375.1 386.9h0M352.1 370.3h0M351.5 369.7h0M342.1 382.1h0M323.3 409.1h0M371.6 407.9h0M340.6 413.7h0M374.3 391.6h0M341.2 431.9h0M355.6 369.8h0M359.1 372.8h0M351 431h0M322 408.6h0M367.7 384h0M356.1 423.2h0M337.7 435.7h0M377.6 421.7h0M360.6 398.6h0M343.6 437.1h0M369.9 376.7h0M339.8 398.6h0M341.1 399.3h0M381.9 424.6h0M380.3 410.7h0M353.7 430.3h0M351.8 382.3h0M363.3 438.6h0M337.2 373.8h0M376 402.4h0M376.1 403.6h0M328.6 433.4h0M385.7 421.4h0M333.1 377.8h0M374.3 417.7h0M367.2 382.4h0M341 375.2h0M355.1 444.1h0M364.3 413.3h0M373.2 420.5h0M374 421.7h0M351.5 376.7h0M343.5 432.8h0M379.2 423.1h0M380.1 423.7h0M332.2 406h0M370.5 374.9h0M327 410.9h0M345.8 441.7h0M345.2 440.2h0M334.7 438.4h0M368.2 417.7h0M334.4 411.6h0M362.2 378.3h0M323.1 385.3h0M346.4 376.1h0M345.9 377.1h0M352.6 377.6h0M354.5 419.6h0M355.2 419.7h0M371.3 420.1h0M353.7 435.6h0M382.2 410.3h0M376.7 384.2h0M368.9 378.3h0M352.5 368.8h0M352.4 431.2h0M376.1 437.5h0M360.7 373.9h0M325.8 410h0M361 384.8h0M387.4 386.2h0M336.8 408.4h0M333.2 385.8h0M324 422.4h0M325.3 421.9h0M324.3 423.4h0M326.6 429.6h0M337.6 434.4h0M372.5 394.2h0M368.6 420.6h0M380.9 433.6h0M380 432.1h0M341.7 390.7h0M326.7 404.5h0M372.7 405.7h0M373.6 404.8h0M380.7 391.2h0M323.6 387h0M332.3 396.1h0M350.4 405h0M342.9 425.2h0M365.8 371.8h0M322.8 427h0M325 405.6h0M345.9 442.4h0M331.9 415h0M372.4 420.6h0M392 402.8h0M325.4 409.5h0M325.9 409.4h0M386.4 426.2h0M342.7 376.6h0M364.7 380.5h0M359 379.8h0M356.7 380.1h0M321.1 410.5h0M364.9 390h0M354.6 433.5h0M354.5 432.3h0M364.6 370.6h0M353 386.4h0M329.4 412.1h0M326 407h0M327.6 407.5h0M366.3 404.2h0M378.4 377.4h0M372.5 380h0M371.6 380.7h0M334.4 410.5h0M373.3 382.3h0M378.2 378h0M390.4 417.9h0M390.2 417.6h0M385 418.9h0M382.6 406.9h0M337.9 423.9h0M341.7 404.9h0M368.8 440.4h0M388.1 402.7h0M387.5 412.2h0M362.6 371.5h0M379.2 435h0M320 420.1h0M363.4 409.7h0M338.6 432.7h0M339.3 433.5h0M346 437h0M334.2 374.7h0M371.2 386.5h0M355.6 383.6h0"/>
<path stroke="#4856b8" stroke-width="1.2" stroke-linecap="round" d="M391.8 414.5h0M324.4 396.6h0M382.4 383.3h0M367.4 443.5h0M362.9 377.9h0M328.7 385.1h0M328.1 385.7h0M363.3 429.1h0M371.2 433.7h0M362.2 430.4h0M337.6 381.2h0M389.3 410.4h0M390.1 417.5h0M330.4 406.6h0M373.8 429.1h0M375.2 385.8h0M341.5 388.4h0M345.4 372.1h0M357.9 373.9h0M356 371.9h0M341.7 416h0M370.1 396.5h0M374.7 390h0M390 411.4h0M382.3 433.8h0M382.6 432.5h0M348.9 395.8h0M325.4 382.1h0M375 433h0M337.2 434.9h0M381.6 417.4h0M382.2 419.1h0M334.1 382.8h0M343.8 437.6h0M392.2 407.4h0M350.6 383.3h0M364.4 438.8h0M365.7 438.9h0M336.9 373.7h0M334.3 379h0M334.3 378.5h0M372.9 418.7h0M365 442.9h0M328.5 398.6h0M387.4 411.2h0M382.8 396.2h0M359 410.2h0M333.2 412.5h0M367.4 436.2h0M388.3 423.2h0M388.2 424h0M370.4 436.9h0M344.7 441.3h0M385.1 391.3h0M364.5 387h0M336.1 410.9h0M335.5 411.5h0M322.4 421.6h0M362.5 377.3h0M339 377.2h0M351.7 374.8h0M327.1 433.8h0M361.9 434.3h0M364.1 435.3h0M385.9 412.2h0M381 400.1h0M380.5 399.5h0M367.1 429h0M373.1 421.2h0M379.5 434.6h0M381.1 434.3h0M326.8 395.2h0M326.3 394.1h0M380.8 391.5h0M388.1 390.8h0M336.8 433.5h0M361.1 384.3h0M319.6 414.2h0M338.4 434.2h0M372.6 392.5h0M316.7 404.5h0M370.8 420.8h0M339 420.5h0M326.6 431.4h0M326.7 405h0M373.9 405.7h0M357.6 374.5h0M323.6 387.8h0M352.3 403.8h0M350 403.7h0M380.6 387.3h0M341.4 426h0M325.5 405.6h0M331.9 414.1h0M355.4 431.5h0M384.3 384.1h0M362.1 422.1h0M342.9 416h0M378.9 386.9h0M365.7 433h0M324.7 408.9h0M349.2 370.9h0M374.6 377.4h0M317.2 408.2h0M317.6 409.3h0M363.8 381h0M357.6 381.4h0M362.3 413.2h0M366.5 390.3h0M379.6 436.3h0M353.7 434.2h0M354.6 413.4h0M328.6 410.8h0M324.8 408.2h0M365.6 405.2h0M369.1 440.6h0M377.8 377.2h0M377.1 376.9h0M337.7 405h0M335.2 434.4h0M372.7 380.1h0M386.9 405.4h0M351.1 435.9h0M349.1 411.6h0M356.4 379.4h0M357.6 381.3h0M345.1 369.5h0M344.9 369.7h0M339.2 423.5h0M339.2 422.4h0M356.7 368.9h0M347.4 384.6h0M370.1 376.3h0M387.6 410.2h0M338.7 434h0M346 374.9h0M371.5 429.5h0M324.9 391.2h0M347.2 369.7h0M338.7 433.2h0M344.8 437.1h0M355 443.7h0M379.1 394.1h0M378.9 393.8h0M356.1 422.9h0M364.4 404.2h0M382.3 400.7h0M383.7 402h0M365.7 398.4h0M363.6 398h0"/>
<path stroke="#4856b8" stroke-width="1.6" stroke-linecap="round" d="M362 432.5h0M375.1 373.3h0M361.2 438.5h0M321.9 394.1h0M363.6 378.2h0M364.8 370.8h0M364.4 371.2h0M376.7 392.1h0M330.1 407.5h0M378.6 416.4h0M380.5 416.9h0M358.7 374h0M364.4 435.2h0M355.4 433.6h0M355.3 434.2h0M356.7 433.5h0M359.8 430.3h0M340.8 431.8h0M320.7 409.5h0M368.9 408.5h0M337.5 397.9h0M355.1 422.6h0M332.6 383.3h0M331.6 412.7h0M329 434.3h0M385.7 422.6h0M379.6 403.7h0M337.6 432.4h0M343.8 411.5h0M345.3 409.2h0M342.2 430.5h0M380.4 428.7h0M384.2 395.3h0M383.2 395.3h0M363.2 412.6h0M380.2 424.9h0M391.2 421.9h0M386.3 422.1h0M329.3 410.9h0M328.9 410.1h0M387.3 419.4h0M366.3 434.7h0M366 387.4h0M347.8 367.7h0M323.5 427.6h0M352.2 374.8h0M323.7 386.7h0M328.7 433.4h0M355 377.6h0M354.7 418.1h0M380.1 378.5h0M379 378.6h0M375.2 419.9h0M381 432.7h0M360.3 369.1h0M378.6 391.3h0M392.4 410.7h0M352.4 368.8h0M336.9 432.1h0M358.4 375h0M376.6 438.2h0M346.7 392.9h0M364 396.9h0M343.2 416.8h0M319.7 412.7h0M320.8 414.1h0M368.7 420.8h0M353 411.8h0M342.4 391.7h0M326.2 430h0M326.1 430.7h0M355.5 386.4h0M374.7 406h0M342.7 422.9h0M341.7 422.3h0M358 374.7h0M332.2 397.5h0M387.2 422.8h0M326.4 405.3h0M358.7 426.3h0M358.5 426.5h0M332.4 414.9h0M369.8 425.9h0M324.8 392.7h0M325.2 392.4h0M391.6 402.6h0M349.7 373h0M383.9 419.5h0M377.6 379h0M380.4 414h0M334.4 428.3h0M374.2 437.3h0M354.8 430.5h0M342.3 438.9h0M378.4 409.2h0M377.9 436.4h0M365.3 415.9h0M366.4 371.8h0M373.7 409.3h0M336.4 426.4h0M351.9 387.9h0M328.5 410.1h0M349.1 432h0M325.6 391.5h0M380.4 415.6h0M384 400.3h0M383.9 427.7h0M377.1 378.1h0M351.3 436.9h0M346.2 383.6h0M367.5 442.2h0M338.5 433.3h0M347.1 373.7h0M318.8 420.3h0M357.2 444.5h0M344.1 435.2h0M378 393.5h0M368.3 375.2h0M331.8 392.1h0M332.7 392.9h0"/>
<path stroke="#4856b8" stroke-width="2" stroke-linecap="round" d="M374.4 373.5h0M362.4 427.5h0M364 429.7h0M362.3 429.6h0M337.1 382.1h0M378 394h0M390.5 410.3h0M339 377h0M353.1 370.3h0M344.9 370.3h0M355 372.9h0M334.8 412.1h0M349 387.4h0M351 386.6h0M340.3 432.2h0M356.4 369.7h0M354.8 377h0M383.4 417.5h0M381.3 425h0M331.8 411.4h0M379 426.1h0M392.7 408.7h0M342.2 387.6h0M350.8 383.7h0M379.1 405.3h0M365.1 372.1h0M365.9 443.8h0M332.3 390h0M330.9 390.2h0M332.5 390h0M329.6 396.4h0M361.1 428.4h0M333.4 412.8h0M381.2 388.9h0M341.7 435h0M386.9 418.4h0M386.7 418.6h0M366.6 434.3h0M370.3 436.4h0M388.5 395.1h0M386.9 395.5h0M384 391.4h0M393.8 413.3h0M324.2 428.7h0M389 413.2h0M365.8 385.8h0M375.5 418.5h0M354.3 435.9h0M378.5 415.4h0M341.7 399.2h0M376.9 384h0M385.8 390.8h0M351.7 430.3h0M358.4 374.2h0M393.7 408.6h0M385.2 404.4h0M352 412.7h0M370.9 383.4h0M368.4 423.7h0M330.3 378.7h0M329 379.9h0M330.6 432.8h0M372 407.3h0M333.7 396.7h0M340.8 427.4h0M344.8 432.9h0M387.1 423.1h0M387.3 421.6h0M322 425.2h0M341.8 415.5h0M362.1 409.5h0M339.7 426.3h0M339.2 427.1h0M366.4 433.2h0M381.7 417.8h0M385.6 426.5h0M334.1 428.7h0M355.9 375.1h0M363 380.9h0M329.7 433.3h0M375.4 429.5h0M355.1 413.9h0M347.6 433.3h0M331.9 435.4h0M332.9 436.1h0M332.5 436.8h0M366.5 406h0M379.4 415.7h0M380.1 389.6h0M379.5 388.4h0M339.3 406.4h0M372.4 379.7h0M337.1 435.9h0M390 418.2h0M382.8 405.8h0M349.6 411.4h0M357.3 379.3h0M354.1 372.8h0M355 371.2h0M372.5 436.4h0M373.4 435.8h0M373.4 436.2h0M378.5 399.4h0M343.3 383.9h0M349.8 370.3h0M375.9 375.2h0M372 428.9h0M372.3 429.9h0M319.5 418.9h0M346.6 438.9h0M341.5 441.6h0M335.2 376.6h0M367.1 375.6h0M356.5 424h0M331.1 432.9h0M365.2 400.4h0"/>
<path stroke="#4856b8" stroke-width="2.4" stroke-linecap="round" d="M361.2 411.1h0M383 406.5h0M324.7 396.9h0M349.5 412.9h0M350.9 371.6h0M388.6 421.2h0M389.1 410.2h0M368.4 429.5h0M374.3 385.8h0M341 388.5h0M340.2 381.3h0M323.6 408.8h0M364 434.3h0M349.8 386.3h0M341.3 386.4h0M370.4 397.7h0M370.4 396.8h0M379.1 386.4h0M336.7 382h0M377.7 421.2h0M377.6 421.1h0M334.3 384.5h0M355.7 437.8h0M380.7 408.9h0M380.5 411h0M353.9 429.7h0M344.4 410.2h0M354.9 444.2h0M354.1 443.6h0M344.3 429.6h0M343.4 430.1h0M362.3 428.3h0M368.7 436.6h0M387.8 395.9h0M383.3 391.9h0M362.4 376.4h0M353.2 373.9h0M345.4 376.9h0M368.2 379h0M369.3 379.2h0M360.3 378.7h0M362.1 398.5h0M351.8 440h0M351.3 441.9h0M360.2 373.5h0M360.7 383.9h0M342.1 417h0M341.8 417.2h0M325.3 431.1h0M318.1 405.7h0M367.5 425.6h0M330.8 378.6h0M327.3 404.7h0M323.9 387h0M364.2 373.9h0M369.3 424.5h0M369.1 426h0M338.7 427.9h0M378.9 388.2h0M379 387h0M351.3 372.1h0M386.9 426h0M341 376.3h0M333.2 428.1h0M374.5 438.3h0M354.8 430.7h0M362.4 411.2h0M375 428.9h0M371.9 409.5h0M379.8 404h0M381.5 415.4h0M379.6 389.7h0M327.1 385.7h0M382.8 399.4h0M377.9 377h0M356.2 368.6h0M342.4 403.5h0M343.6 383.1h0M342.2 382.2h0M362 369.7h0M360.2 371h0M334.6 375h0M327.2 411.8h0M344.1 434.2h0M332.9 392.1h0M363.9 403.1h0M364.3 403.7h0M384.2 400.3h0M331.1 433.1h0M332.7 433.9h0"/>
<path stroke="#4856b8" stroke-width="2.8" stroke-linecap="round" d="M339 383.3h0M376.8 394.1h0M355.4 371.9h0M339.2 385h0M381.1 433.1h0M370.1 414.9h0M366 382.5h0M340.9 398.9h0M352.8 430.3h0M364.9 412.5h0M317.7 409.5h0M334.8 386.3h0M385.1 382.4h0M367.5 411.2h0M345.8 370.4h0M339.2 435.6h0"/>
</g></g>
<circle cx="355.4" cy="406.5" r="37.5" fill="none" stroke="#111" stroke-width="1.8"/>
<circle cx="434.4" cy="406.5" r="38.1" fill="#e8e8ef"/>
<g clip-path="url(#pq32)"><g filter="url(#pb32)">
<circle cx="434.4" cy="406.5" r="36.6" fill="none" stroke="#c8cbe2" stroke-width="3" opacity="0.6"/>
<path stroke="#4a58b9" stroke-width="0.8" stroke-linecap="round" d="M438.3 420.8h0M436.8 421h0M452.8 375.4h0M429 375.4h0M429.8 375.7h0M452.3 438.9h0M451.7 438.2h0M425.2 382.6h0M427.5 384.3h0M411.8 398.2h0M441.5 404h0M412.8 428.3h0M453 437.5h0M422.2 442.4h0M455.4 383.7h0M438.1 444.5h0M439.1 444.9h0M426.8 419h0M441.3 419.1h0M427.8 402.8h0M451.6 402.3h0M438 373.4h0M418.3 378.9h0M421 392h0M449.2 375.9h0M403.5 419.3h0M404.3 419.3h0M461.1 395.6h0M457.4 412.3h0M441.5 443.3h0M447.2 400.8h0M460.3 396.4h0M403.3 391.1h0M423.9 393.3h0M427.6 440.8h0M440 371h0M402.4 393.7h0M413.7 379.5h0M465.7 384.5h0M417.6 413.6h0M431.1 369.2h0M437.7 389.4h0M406.6 420.5h0M405 422.1h0M422 439.8h0M421.9 441.4h0M448.3 382.7h0M423.5 403.6h0M422.3 412.5h0M447.5 403.6h0M445.4 382.8h0M406 422.7h0M414.2 403.8h0M454.9 426.5h0M420.7 426h0M423.6 382.2h0M423.2 381.7h0M447.8 373.1h0M449 372.6h0M431.5 433.6h0M450 414h0M450.1 415.2h0M404 423.3h0M432.7 427.7h0M431 425.7h0M431.3 425.6h0M420.2 431.6h0M436.6 436.4h0M435.4 436.4h0M438.3 374.8h0M411.2 410.2h0M462.7 381.5h0M413.7 401.8h0M413.2 402.3h0M441.7 409.8h0M468.4 417.6h0M438.5 434.4h0M458.9 423h0M460 422.8h0M467 416.6h0M467.9 415.6h0M455.1 419.1h0M420.3 385.8h0M443.1 368.2h0M441.6 369.4h0M414.1 404.4h0M448 431.8h0M447.2 431h0M427.6 428.1h0M427.3 429.2h0M451.4 430.5h0M452.3 429.8h0M451.3 429.4h0M427.3 393.9h0M427.1 393.7h0M412.6 430.9h0M463.3 421.2h0M454.4 376.7h0M471.1 402h0M446 372.5h0M458.3 435.4h0M417.3 377.9h0M415.5 392.4h0M415 393.6h0M443.3 374.6h0M443.9 374.5h0M434.8 368.4h0M418.1 424h0M439.8 382.9h0M448.1 418h0M449.1 418.4h0M423.4 443h0M429.2 426.8h0M437.3 439.3h0M462.5 397.9h0M461.7 396.6h0M441.2 380.1h0M406.4 406.9h0M452.1 385.7h0M411.2 387.8h0M446.3 443.2h0M445.6 441.4h0M465.1 404.7h0M419.6 407.9h0M425.2 376h0M451.5 387.4h0M412.5 419.5h0M402.6 416h0M403.4 415.6h0M396.6 404.5h0M426.9 372.1h0M427.4 373.1h0M460.5 390.7h0M417 417.5h0M430.8 374.5h0M458.3 378.3h0M413.4 382.4h0M429.6 435.8h0M416.3 422.4h0M417.4 423h0M439.7 386.5h0M430.7 375.7h0M430.1 374.5h0M422 427.3h0M407.8 388.2h0M459 430h0M459.2 428.8h0"/>
<path stroke="#4a58b9" stroke-width="1.2" stroke-linecap="round" d="M440.1 404.3h0M440.7 403.9h0M411.9 429.7h0M452.1 438.9h0M426.2 419.6h0M421.7 439.8h0M439.1 373h0M397 407.9h0M448.3 373.8h0M462.4 396.1h0M458.8 431.1h0M457.1 411.4h0M454.2 377.8h0M443.5 420.3h0M415.1 375.8h0M413.6 374.6h0M422.6 394h0M425.4 441.3h0M425.8 421.9h0M443.9 433.4h0M417.5 423h0M422 431.7h0M418.9 376.2h0M420.9 376h0M443.7 425.5h0M454.6 391.4h0M426.3 394h0M421 403.9h0M458.8 396.7h0M405.4 421.2h0M416.6 428.2h0M447.2 383.5h0M422.2 401.7h0M423.9 413.3h0M423.2 413.7h0M447.8 404.9h0M460.9 421.7h0M461.2 420.5h0M406.6 381.4h0M470.5 407h0M462.4 411.7h0M454.5 401.4h0M468.6 407.3h0M450.1 391.4h0M451 390.8h0M458.8 400.6h0M451.1 392.1h0M422.2 431.7h0M467.5 417.5h0M454.8 437.5h0M454.3 437.9h0M427.8 390.3h0M426.8 391h0M428.7 391.9h0M453 387.6h0M446.5 402h0M420.9 385.4h0M401.8 411.7h0M447.4 431.1h0M443.8 414.4h0M412.6 430.6h0M453.4 404.1h0M462.3 384.7h0M456.8 408.7h0M433.9 372h0M458.2 435.5h0M404.7 388.2h0M458.4 418.4h0M433.5 376.7h0M443.1 374.1h0M412.9 376.3h0M408.7 419.8h0M399.3 420h0M441.8 440.8h0M425.2 441.7h0M425.4 442.8h0M442.5 430.9h0M429.8 428.6h0M441.3 370.6h0M438.7 440.8h0M441.4 380.9h0M441.2 380.6h0M450.7 385.8h0M402.9 405h0M459.7 408.7h0M464.2 385.8h0M465.9 384.5h0M420.4 405.4h0M436.4 387.3h0M462 396.2h0M462.2 398.2h0M433.9 377.3h0M412.3 419.4h0M396.7 403.9h0M432 374.8h0M412.3 428.4h0M425.9 388.3h0M431 436.5h0"/>
<path stroke="#4a58b9" stroke-width="1.6" stroke-linecap="round" d="M429.1 392.5h0M428.5 392.6h0M422.7 441.2h0M400.9 403.7h0M464.4 389.1h0M465.1 390.1h0M452.3 403.7h0M408.5 432.2h0M418.6 379.9h0M420.4 416.2h0M419.6 417h0M448.3 375.9h0M417.1 378.7h0M443 369.4h0M423.6 393.8h0M402.1 393.7h0M415.3 378.3h0M416.9 423.5h0M445.1 390.8h0M445.9 391.2h0M416.1 413.2h0M415.6 414.2h0M442.7 425.7h0M455.3 392.1h0M436.9 388.3h0M436.2 389.4h0M447.4 403.3h0M446.6 383.7h0M470 408.7h0M419.4 379.6h0M448.4 372.6h0M431.3 432.3h0M453.8 392.9h0M453.2 392.3h0M466.9 390.5h0M436.1 438.2h0M450.3 390.5h0M468.5 393.3h0M451.9 440.9h0M441.2 374.7h0M453.9 438.6h0M452.6 385.8h0M454.7 420.4h0M408.5 381.1h0M442.6 414.6h0M427.8 427.8h0M427.1 394.5h0M433.8 441.7h0M461.5 420.7h0M420.9 440.9h0M434.9 377.8h0M447.8 439.8h0M450.1 440.6h0M450.6 441.6h0M460.5 406.4h0M461.6 397.6h0M402.2 404.9h0M411.8 387.6h0M412.5 403.7h0M465.5 404h0M425.5 375.8h0M451.1 387.1h0M428.3 371.1h0M433.4 377.3h0M433.5 376.5h0M460.3 395.3h0M431.2 374.9h0M459.1 378.5h0M413 426.3h0M415.9 422.5h0M465.6 394.1h0M446 381.3h0"/>
<path stroke="#4a58b9" stroke-width="2" stroke-linecap="round" d="M451.8 439.1h0M421.9 440.8h0M422 440h0M421.8 441.8h0M404.8 399.8h0M403.9 422h0M397.3 408.7h0M417.9 378.4h0M405.1 417.2h0M419.5 437.2h0M454.1 378.1h0M424.8 422.4h0M401.8 393.9h0M414.6 379.3h0M418 397.7h0M418.9 375.4h0M417.2 376.6h0M456.3 391.8h0M458.8 397.8h0M464.6 404.1h0M466.1 402.8h0M447.4 383h0M455.2 425.3h0M406 380.9h0M405.6 381.5h0M469.8 407.5h0M413.2 437h0M421.1 380.3h0M420.6 380h0M429.9 433.8h0M462.8 381.4h0M454.1 423.1h0M453.3 425h0M414.3 402.3h0M435.1 417.1h0M417.4 394.3h0M459.4 422.3h0M419.4 386.6h0M401.8 411.4h0M403.6 410.8h0M435.2 383h0M443.4 415.5h0M465.7 396.9h0M443.4 390.9h0M422.7 439.5h0M456.8 435.9h0M415.2 393.5h0M419.8 391h0M450.5 440.8h0M398.8 418.8h0M419.7 413.4h0M420.1 414.4h0M441.5 440.1h0M440.5 440.8h0M449.2 418.3h0M429.1 428.5h0M425.9 436h0M421.5 376.3h0M420 376.5h0M413.2 403.6h0M466.9 403.8h0M462.5 397.7h0M425.1 375.3h0M427.8 370h0M411.5 417.6h0M430.7 443.8h0M417.1 429.9h0M417.3 417.7h0M461.6 394h0M462.4 394.2h0M458.4 378.7h0M425 389.8h0"/>
<path stroke="#4a58b9" stroke-width="2.4" stroke-linecap="round" d="M412.5 429.6h0M420.2 433.4h0M426.9 418.5h0M433.4 417.9h0M432 417.2h0M425.8 416.1h0M426.1 415.7h0M430.1 369h0M430.7 368h0M446.3 382.5h0M421.8 424.2h0M424.2 381.9h0M468.8 388.7h0M420.8 432.2h0M462.4 380.9h0M449.7 390.7h0M468.3 415.4h0M414.8 405.9h0M405 387.3h0M456.8 418.8h0M435.4 369.7h0M439.2 439.8h0M457.5 402.4h0M458.3 408.8h0M421.3 405.6h0M412.5 404.3h0M458.5 394.3h0M431 377.9h0M402.2 418h0M414.8 430.9h0M403.2 416.7h0M396.8 404.4h0M460.9 391.3h0M440.3 387h0"/>
</g></g>
<circle cx="434.4" cy="406.5" r="37.2" fill="none" stroke="#111" stroke-width="1.8"/>
<circle cx="516" cy="407.25" r="38.5" fill="#ececf1"/>
<g clip-path="url(#pq33)"><g filter="url(#pb33)">
<circle cx="516" cy="407.25" r="37" fill="none" stroke="#d4d6e8" stroke-width="3" opacity="0.6"/>
<path stroke="#5160bd" stroke-width="0.8" stroke-linecap="round" d="M506.1 398.4h0M536.5 389.8h0M511.8 409.8h0M522.7 376.1h0M545.1 412h0M546.3 411.9h0M535.7 418.8h0M505.6 435.9h0M519.8 401.7h0M519.8 402.4h0M535.6 417.5h0M535.4 429.6h0M511 444.7h0M523.1 393.9h0M550.9 415.7h0M530.9 373.7h0M490.8 414.7h0M489.5 415.6h0M506.5 425.1h0M536.2 404.2h0M527.6 384.9h0M528 389.3h0M531.8 383.8h0M501.5 431.2h0M482.2 414.8h0M482.9 413.3h0M504.6 426.4h0M547.7 394.5h0M503.3 373.4h0M480.3 409.2h0M520.5 383.6h0M507.4 372.9h0M489.2 431.6h0M532.8 430.5h0M487.9 405h0M527.7 426h0M532.5 374.9h0M503.1 422.1h0M503.4 422.5h0M539 386.5h0M478.9 412.8h0M532.1 419.3h0M486.9 414.8h0M480.8 401.8h0M479.1 401.4h0M490.5 430.2h0M491.5 436.2h0M500.1 418.6h0M510.7 393.2h0M510.2 393.9h0M521.4 381.7h0M520.9 380.5h0M509.7 435h0M511 433.6h0M545.3 426.8h0M502.7 375.5h0M502.6 374.5h0M544.8 428.9h0M487.2 412.9h0M529.8 440.1h0M514.9 373.5h0M514 374h0M513.6 433h0M489.8 380.2h0M534.5 439.4h0M498.3 408.6h0M504.9 387h0M504.7 386.5h0M493.7 409.5h0M526.9 385.1h0M484.4 411.5h0M484.7 412h0M544.3 396.5h0M490.1 411.4h0M511.4 402.7h0M547 420.4h0M495.4 376.7h0M536.2 437.1h0M496.1 379h0M501.6 430.2h0M509.1 439.9h0M509.9 440h0M536.5 378.3h0M528.4 387.2h0M547.3 429.3h0M479.6 408h0M485.1 397.7h0M518.7 386h0M497 439.8h0M497.6 440.7h0M539 426.1h0M513.8 369.5h0M541.8 430.2h0M525 426.5h0M486.6 428.7h0M543.4 403.4h0M542.8 403.2h0M551.1 420.5h0M490.1 394.3h0M494.7 382.7h0M487 393.4h0M486.6 394h0M500 432.7h0M490.3 421.1h0M501 426.4h0"/>
<path stroke="#5160bd" stroke-width="1.2" stroke-linecap="round" d="M494.7 384.7h0M499.6 442.2h0M499.3 440.9h0M519.7 374.1h0M520.2 374.2h0M511.3 409.2h0M523.3 376.8h0M538.2 399.1h0M505.1 379.4h0M526.9 380.8h0M527.1 380.9h0M535.7 419.1h0M510 395.2h0M521.9 405.4h0M536 430.5h0M499.2 427.4h0M531.2 374.1h0M550.3 396.4h0M495.1 413.7h0M505.3 381.8h0M527.5 384.8h0M529.6 389.4h0M516.1 434.1h0M482.9 425.7h0M485.5 386.6h0M485.9 386.2h0M491.1 425.7h0M503.5 372.9h0M549.9 400.3h0M480.7 408.3h0M511.7 436.4h0M540.2 430.2h0M553.8 409.5h0M538.8 386.7h0M484 420.3h0M483.8 420.7h0M488.1 393.9h0M487.1 412.6h0M528.1 440.7h0M520.9 369.5h0M480.4 400h0M550.6 396h0M490.4 380.3h0M544.9 387.9h0M545.3 387.2h0M495.2 427.8h0M514.1 411.2h0M494.2 409.5h0M488.4 395.4h0M488.1 395.5h0M512.2 402.4h0M524.9 383.4h0M484.1 397.9h0M483.5 398.1h0M534.5 438.1h0M535.5 386.8h0M535.4 387.5h0M500.2 377.2h0M528.6 386.3h0M503.1 371.5h0M547.7 427.7h0M484.4 397.5h0M524.1 426.2h0M528.3 429.6h0M530.7 382.2h0M489 394.1h0M493.9 382.5h0M493.3 416.4h0"/>
<path stroke="#5160bd" stroke-width="1.6" stroke-linecap="round" d="M494.8 384.9h0M506 398.3h0M490.9 434.1h0M537.9 399h0M548.2 387.4h0M521 404h0M495 398.8h0M498.7 427.5h0M488.9 382.3h0M479.5 399.5h0M536.3 404.6h0M504.9 442.4h0M505.8 425.1h0M545.4 424.6h0M548.6 394.7h0M535.3 433.2h0M489.1 431.4h0M546.8 412.3h0M532.7 431.6h0M539.4 430h0M527.8 427h0M531 374.2h0M551.7 409.3h0M491.2 430.5h0M542.5 394.7h0M486.4 389.7h0M495.2 423.9h0M545.1 427.7h0M511.5 395.7h0M520.3 369.8h0M522 381.8h0M520.7 381.5h0M533.2 439.4h0M513.6 410.9h0M527.4 386.6h0M528.6 414.7h0M546.8 421.1h0M494.4 405.8h0M496.1 377.9h0M536.3 377.5h0M550.4 420.1h0M528.9 428.1h0M489.3 420.9h0"/>
<path stroke="#5160bd" stroke-width="2" stroke-linecap="round" d="M504.7 380.3h0M548.7 396.3h0M478.6 399.3h0M482.8 425.9h0M511.9 435.1h0M537 439.2h0M537 439h0M540.2 432.3h0M498.9 417.5h0M551.1 410.7h0M477.3 411.2h0M522.5 426.8h0M487.1 431.5h0M515.6 372.2h0M551.2 414.9h0M499.7 431.7h0"/>
</g></g>
<circle cx="516" cy="407.25" r="37.6" fill="none" stroke="#111" stroke-width="1.8"/>
<circle cx="355" cy="530" r="38" fill="#e6e6ee"/>
<g clip-path="url(#pl34)">
<path stroke="#4a59bc" stroke-width="0.8" stroke-linecap="round" d="M381.7 505.6h0M322.3 546.9h0M338 528.7h0M384.2 547.6h0M386.8 515.9h0M346.6 561.1h0M333.4 525.1h0M330.8 549.6h0M364.4 508.4h0M367.9 498.5h0M372.4 510.4h0M388.7 525.8h0M374.7 551.2h0M348.4 552.1h0M374.9 545.3h0M388.4 522.7h0M336.5 558.4h0M377.4 520.1h0M331.6 525.2h0M335.7 534.3h0M326.7 508.3h0M330.8 546h0M331.9 548.6h0M381 520.7h0M373.5 497.6h0M378.3 552h0M373 506.7h0M387.2 537.3h0M334.2 529.4h0M372.7 504.5h0M370.8 557.6h0M355 492.6h0M359.4 502.6h0M337.6 534.6h0M365.7 526.1h0M357.5 556.4h0M358.9 565.9h0M385.2 542.7h0M350.3 563.1h0M377.5 557.6h0M336.4 531.4h0M375.3 543.5h0M369.6 502.4h0M344.6 560h0M368.8 509.9h0M384.1 526.3h0M323.2 526.6h0M352.6 557.5h0M333.4 501h0M370.9 537.9h0M325.6 531.9h0M335.9 554.9h0M380.8 552.2h0M363 503.4h0M329 524.3h0M378 530.6h0M378.5 524.1h0M360.3 559.9h0M360.6 497.5h0M342.3 495.6h0M377.9 535.8h0M339.6 508.5h0M362.8 559h0M385.8 518.5h0M347.4 500.8h0M369.8 549.8h0M323.5 519.2h0M342.5 551h0M332.3 509.4h0M319.7 536.3h0M389.2 524.5h0M369.7 562.8h0M373.2 523.2h0M332 530.2h0M346.4 558.8h0M378.7 526.7h0M329.9 543h0M325.6 552.6h0M337 519h0M330.3 507.9h0M320.5 537.9h0M336.2 545.1h0M330.3 538h0M363.1 555.4h0M383.3 528.3h0M317.9 531h0M350.2 558h0M325.6 517.9h0M377.5 531h0M338.6 516h0M383 515.9h0M352.5 500.4h0M324.1 512.1h0M322.7 546.6h0M343.1 499.5h0M359.1 511.7h0M338.9 510h0M360.4 559.6h0M377.5 513.6h0M365.6 557.5h0M327.1 551.3h0M381.9 550.3h0M351 498.7h0M379.4 516.7h0M363 494.9h0M332.8 545.1h0M371.4 506.3h0M360.9 524.4h0M377.2 542.8h0M324.6 538.7h0M365.2 537.8h0M324.4 549.4h0M356.6 559.9h0M335.8 559.6h0M384.3 544.4h0M350.3 551.6h0M379.6 503.5h0M324.6 512.4h0M345.9 515.6h0M353.6 556h0M372.6 534.1h0M389.5 540.9h0M364.1 557.7h0M341.3 560.6h0M326.4 550.1h0M350.8 542.8h0M332.3 534.7h0M335 556.2h0M347.4 499.3h0M380.5 528h0M368.9 547.9h0M391.6 534.4h0M387.3 530.5h0M344.5 552.9h0M369 513.7h0M334.3 513.1h0M365.8 564.4h0M362.3 502.6h0M331.5 520h0M323.8 527.8h0M370.2 508.2h0M391.2 529.1h0M335.8 507.4h0M350.6 512.2h0M385.9 536.9h0M333.5 521.4h0M353.2 553.7h0M383.4 534.6h0M337.6 524.9h0M376.7 559.4h0M346.2 494.1h0M333.1 518.8h0M343 561.1h0M354.3 534.1h0M357.6 494.7h0M376.1 517.9h0M320.7 544.8h0M339.5 498.2h0M346.5 508.6h0M326.1 547.6h0M332.7 558.6h0M328.1 542.1h0M353.3 540.6h0M329.8 553.2h0M360.7 542h0M368 521.3h0M322.1 522.6h0M381.8 527.6h0M345.3 498.2h0M375.4 551.9h0M363.2 504.5h0M345.6 497.8h0M371.7 547.1h0M334.5 519.7h0M356.9 559.9h0M342 521.1h0M321.4 520.7h0M322.4 526.4h0M366.3 518.6h0M358.1 509.5h0M347.3 563.7h0M392.3 532.8h0M359.5 536.7h0M384.9 510.7h0M379.5 509.4h0M389.9 542.9h0M375.1 500.1h0M322.1 543.5h0M334.2 500.3h0M379.8 527.1h0M337.9 501.8h0M320.2 542.6h0M350.4 554.4h0M355.1 493.2h0M328.1 544.4h0M358.2 508.8h0M378.7 546.5h0M386 522.1h0M320.1 529.5h0M353.8 516.5h0M332.6 547.4h0M376.7 536.1h0M322.9 514.1h0M333.6 552.3h0M351.9 511.9h0M367.2 514.2h0M372.4 518.6h0M322 542.3h0M345.4 509.4h0M346.9 504.6h0M338.4 547.4h0M376.6 534.4h0M339.7 546.3h0M372.3 536.7h0M365.9 505.1h0M385.1 538.1h0M347.7 565.3h0M387.2 538.8h0M326.2 532.2h0M321.2 528.9h0M353.1 502.8h0M364.7 550.4h0M331.4 533.9h0M370.7 562.1h0M344 499.1h0M342.7 500h0M354 499h0M365.7 556.1h0M352.4 566.7h0M377.8 519.5h0M378.5 518.3h0M373.8 515h0M335 550.2h0M332.3 540.3h0M327.9 548.1h0M327.3 554.5h0M358.5 562h0M356.8 566h0M328.7 509.9h0M388.9 543.8h0M358.7 499.9h0M388 539.1h0M370.6 556.6h0M322.1 537.7h0M335.8 560.7h0M385.5 511.1h0M344.8 495.8h0M388.1 540h0M366.4 553.4h0M337.2 507.6h0M374.7 524.6h0M369 537.3h0M331.1 526.1h0M335.6 515.4h0M375.5 504.3h0M359.6 548.9h0M319.2 529.9h0M344.2 560.6h0M347.5 507.2h0M361.5 534.7h0M324.9 515.6h0M365.4 520.4h0M368.9 519.7h0M375.8 506.1h0M353.3 518.2h0M344.5 561.6h0M373.1 530.7h0M377.1 551.5h0M343.8 494.5h0M356.3 503.4h0M327.6 547.9h0M370.2 498.1h0M362.3 544h0M325.2 549.9h0M343.8 527.8h0M375.3 549.9h0M334.2 555.2h0M319 533.3h0M327.9 545.2h0M370.6 506.7h0M352.4 562.5h0M372.1 531.7h0M353.7 567.2h0M333 501.4h0M370.9 554.8h0M376.8 537.5h0M337.1 562.1h0M373.8 510.9h0M341.1 503.6h0M342.9 565.1h0M358.7 551.3h0M381.7 516.2h0M338.2 548.9h0M348.5 498.2h0M384.5 525.1h0M385.4 543.1h0M335 556.9h0M378.5 551.2h0M338.8 552.1h0M336.4 529.5h0M388.1 523.6h0M385.2 510.7h0M350.3 564.9h0M380.4 549.2h0"/>
<path stroke="#4a59bc" stroke-width="1.2" stroke-linecap="round" d="M329 514.4h0M336.3 514.4h0M332.5 522.4h0M326.3 549.4h0M387.9 544.2h0M343.8 553.5h0M320.9 519.5h0M351.5 564.5h0M375.9 504h0M342.6 507.8h0M332.7 504.8h0M372.9 513.2h0M335.1 560.9h0M367.1 538.7h0M318.3 522.7h0M362.4 551.6h0M361 562.5h0M334.4 551.8h0M369.1 554.8h0M351.8 561.2h0M353.6 493.9h0M369.8 557.1h0M325.2 513.4h0M372.3 524.7h0M388.6 536.3h0M339.2 561.6h0M388.2 514.2h0M357.9 513.6h0M348.4 515.2h0M358.5 551.7h0M352.4 533h0M336.5 548.1h0M390.4 526.4h0M389.1 521.6h0M361.7 558.9h0M367.3 509.7h0M373.9 542.6h0M346.7 562.6h0M354.6 492.7h0M352.6 526.3h0M350.5 544.9h0M321.7 527.1h0M334.2 499.9h0M331.2 505.8h0M368.4 553.2h0M353.5 501.2h0M377.7 534.9h0M372.5 560.4h0M382.4 513h0M356.3 495.5h0M337.4 510.9h0M381.5 555.9h0M328.4 547.6h0M356.9 495.6h0M335.4 553.1h0M327.2 506.8h0M327 510.8h0M366.1 558.5h0M347.6 509h0M343.6 499.3h0M345.7 503.9h0M335.2 552.3h0M368.6 546.2h0M333.3 509.8h0M355 508h0M320.8 516.2h0M320.3 525h0M370.6 515.5h0M337.8 556.5h0M360.8 562.4h0M364.7 523.3h0M328 519.2h0M379.8 503.7h0M378.8 501.8h0M353.3 566.8h0M365.2 502.9h0M340.5 551.9h0M385.6 519h0M341.3 531.9h0M330.3 557.6h0M363.5 561.5h0M349.7 519.1h0M339.1 536.9h0M321.2 522h0M371.4 542.4h0M384.7 523h0M332.7 519.7h0M343.3 552.9h0M335.8 553.4h0M334.6 545.2h0M327.3 529h0M318.8 530.7h0M346.4 493.9h0M325.5 507h0M330.6 516.7h0M378 547.6h0M377.3 522.3h0M319 534.9h0M329.6 541.8h0M379 501.4h0M331.8 544.6h0M321.8 546.2h0M328.9 523.7h0M356.7 567.1h0M341.3 562.6h0M389 540.8h0M374.3 525.9h0M345.7 506.1h0M336 560.1h0M339.7 532.6h0M367.7 538.7h0M389.4 537.5h0M350.3 500.3h0M363.1 564.1h0M385.8 541.5h0M378.8 519.4h0M373.1 557.4h0M379.8 514.4h0M336 549.5h0M358.5 563.5h0M345.5 504.7h0M359.3 513h0M351.2 556.3h0M325.3 551.5h0M319 522.9h0M364.3 519.2h0M356.1 552.9h0M390.1 540.7h0M364 565.1h0M340.9 503.4h0M344.8 495h0M381.3 547.4h0M339.5 543.4h0M382.7 548h0M352.3 502.6h0M374.1 552.9h0M372.5 531.4h0M363.7 511.8h0"/>
<path stroke="#4a59bc" stroke-width="1.6" stroke-linecap="round" d="M351.2 548h0M358.9 557.5h0M330.1 525h0M330.8 529.8h0M346.9 507.8h0M373.3 521.7h0M365.5 505.3h0M371.4 514.5h0M324.8 526.1h0M373.6 513.2h0M376.2 506.5h0M338.3 534.1h0M381.6 552.6h0M327.7 505.1h0M337.1 501.1h0M318.5 524.2h0M335.2 512.6h0M334.9 509.2h0M379.7 518.2h0M352 498h0M368.2 503.4h0M343.4 496.9h0M380.8 523.1h0M351.1 510.6h0M335.6 504.2h0M331.5 548.6h0M385 545.2h0M333 509.8h0M340.5 562.5h0M330.5 510.8h0M336 498.7h0M321.6 532.4h0M338.7 559.2h0M360.6 517.8h0M362.5 498.1h0M359.9 564.5h0M334.6 528.2h0M360.5 554.1h0M390.4 541h0M336.6 505.2h0M354.2 557.6h0M323.1 515.2h0M389.6 535.3h0M332.6 535.6h0M332.2 517.4h0M334.8 510.2h0M342.5 554.1h0M376.7 501.3h0M389.4 538.8h0M358.6 562.6h0M384.4 513h0M326.5 528.8h0M349.1 500h0M358.7 492.8h0M366.4 522h0M339.4 501.9h0M342.4 515.5h0M346.3 565.4h0M337.4 515.3h0M361.4 559.3h0M348.4 566.1h0M379.7 539.8h0M368.2 517.2h0M339.3 508.2h0M357.2 561h0M380.4 519.6h0M381.3 545.5h0M375.7 553.7h0M335.1 537.9h0M329.4 532h0M341.8 564h0M382.1 531.8h0M328.8 511.5h0M377.1 511h0M329.1 511.5h0M335.8 561.4h0M379.1 525.5h0M363.9 551.1h0"/>
</g>
<circle cx="355" cy="530" r="37.1" fill="none" stroke="#111" stroke-width="1.8"/>
<circle cx="434.4" cy="531.5" r="38" fill="#eeeef2"/>
<g clip-path="url(#pl35)">
<path stroke="#5563c0" stroke-width="0.8" stroke-linecap="round" d="M428.9 567.8h0M461.2 523.8h0M410.4 555.7h0M466.1 542.1h0M449.3 554h0M444.3 517.2h0M410.3 550.2h0M417.4 500.3h0M422 504.7h0M469.5 535.5h0M452.2 525.6h0M450.4 518.7h0M434.8 509.4h0M411 549.5h0M406.3 527.5h0M449.5 558.9h0M455.5 516.2h0M464.3 549.3h0M407.7 538.4h0M413.3 537.5h0M422.4 564.8h0M402.5 551.2h0M440.5 501.1h0M437.9 494.6h0M417.3 544.1h0M411 524.9h0M436 503h0M406.8 541.9h0M404.1 512.2h0M414.2 556.5h0M415.8 552.4h0M402.4 547.1h0M434 521.4h0M457 550.9h0M423.6 546.4h0M406.5 511h0M435.2 504h0M437.8 511.7h0M439 545.9h0M423.6 545.3h0M454.8 524.4h0M412.8 539.9h0M447.6 558.5h0M448.7 515.8h0M440.1 564h0M409.7 531.1h0M455 521.6h0M442.9 510.3h0M403.2 526.9h0M428.4 517.6h0M469.6 524.7h0M468.5 520.4h0M441.2 548.2h0M409.8 539.1h0M457.7 529.3h0M402.1 534.8h0M414 554.4h0M438 542.8h0M440 507.2h0M413.1 518.3h0M469.3 532.5h0M455 539h0M403.3 533.9h0M457.7 547h0M422.6 503.5h0M403.7 530.4h0M411.9 523.2h0M441.4 502.9h0M439.7 496.9h0M449.7 514.3h0M465.7 548h0M439.6 556.7h0M407.8 508.5h0M464 540h0M412.8 528.3h0M470 535.6h0M470.2 531.3h0M450.6 551.1h0M467.7 524.1h0M417 504.1h0M416 543.5h0M397.5 525.9h0M470.2 542.4h0M411.6 530.3h0M402.6 520.1h0M467.5 537h0M434 520.3h0M422.7 518.2h0M433 496.9h0M450.1 559h0M434 548.7h0M465.6 528.7h0M419 503.2h0M417.7 504.7h0M413 547.8h0M445.6 559h0M400.6 537.8h0M448.5 519.3h0M461.4 516.3h0M407.1 520.3h0M453.9 525.5h0M407.6 512.9h0M400.7 533.1h0M456.8 542.8h0M465.9 511.8h0M437.2 506.6h0M411.8 545.4h0M408.7 529.1h0M440.7 557.5h0M461.9 526.2h0M401.2 546.3h0M453.7 543.8h0M445 513.8h0M406.3 532h0M464.4 521.2h0M409 520.3h0M399.4 521.1h0M410.5 532.8h0M406.3 537.6h0M470.6 537h0M452.2 512.8h0M463.4 512.2h0M420.4 544.7h0M421.4 532.4h0M413.1 540.8h0M449.7 510.1h0M398.1 537.7h0M402.1 537.8h0M400.9 536.6h0M440.3 494.7h0M466.1 545.8h0M439.5 549.8h0M412.4 520.9h0M421.6 499.1h0M419.1 565.7h0M440.7 553.9h0M421.2 501.1h0M456.8 530.5h0M450.9 547.8h0M463 536.4h0M399.1 539.4h0M424.9 511.4h0M470.8 527.6h0M451.6 556.3h0M429.5 511h0M454.3 560.8h0M447.3 558.4h0M449.9 558.1h0M442.9 546.9h0M449 542.9h0M470.9 538.5h0"/>
<path stroke="#5563c0" stroke-width="1.2" stroke-linecap="round" d="M434.5 500.1h0M433.9 499.8h0M405.2 514.1h0M453.8 541.7h0M435.7 500.9h0M420.8 544.7h0M440.5 562.9h0M424.7 533.6h0M469.5 532.3h0M460.8 551.5h0M409.9 556.8h0M448.9 562h0M400.8 532.9h0M440.2 562.8h0M418.9 544.4h0M412.2 511.2h0M455.8 552.4h0M408.6 540.1h0M456.3 517.3h0M440.2 554.6h0M416.1 560.4h0M416 522h0M464.6 546.7h0M451.8 504.6h0M400.8 520.8h0M410 526.4h0M401.8 538.2h0M455.3 546.6h0M452 533.4h0M454.9 558.2h0M405.6 508.7h0M451.1 532.5h0M447.1 564.7h0M460 504.5h0M418.6 519.5h0M433.5 560.6h0M449.5 499.3h0M450.9 556.7h0M416.5 545.6h0M415.5 537.1h0M432.2 520.3h0M467.8 544.5h0M462.5 533.6h0M471.1 531.9h0M428.3 556.5h0M463.7 522.9h0M398.3 529.1h0M449.8 563.6h0M443.9 511.8h0M440.3 543.1h0M457.7 528.6h0M463.5 513.7h0M409.3 513.4h0M399.4 527.3h0M419.5 558.7h0M444.7 567.5h0M414.9 549.8h0M449.1 519.4h0M446.1 554.7h0M425.6 541.5h0M454.4 508.5h0M401.1 535.1h0M412.3 536.3h0M438.2 568h0"/>
<path stroke="#5563c0" stroke-width="1.6" stroke-linecap="round" d="M426.4 566.5h0M448.2 503.3h0M413.4 517.3h0M463.8 552.4h0M427.4 545.5h0M421.4 544.5h0M426.2 560.3h0M465.8 523.1h0M451.9 560.4h0M445.3 544.6h0M467 545.7h0M423.2 533.9h0M449.3 558.4h0M434.1 542.9h0M451.4 557.4h0"/>
</g>
<circle cx="434.4" cy="531.5" r="37.05" fill="none" stroke="#111" stroke-width="1.9"/>
<circle cx="515.4" cy="532" r="38.4" fill="#eeeef2"/>
<g clip-path="url(#pl36)">
<path stroke="#5563c0" stroke-width="0.8" stroke-linecap="round" d="M513.4 530h0M484.3 546.1h0M487 554.9h0M518.2 502.1h0M509.4 511.3h0M533.2 563.7h0M542.9 529.4h0M483.8 550h0M550.6 518h0M492 530.9h0M540.6 529.9h0M522.2 554.4h0M516.4 547.1h0M479.8 521.7h0M528.2 555.4h0M544.7 549.4h0M507.1 511.1h0M510.8 556.3h0M490.1 532.4h0M505.1 563.8h0M496.7 537.9h0M544.2 513h0M504.3 563.5h0M491.9 552.9h0M489.3 532.6h0M533.2 554.2h0M502.2 519.4h0M538.1 515h0M491.8 512.5h0M544.9 547h0M486.5 533.5h0M505.1 531.3h0M489.1 520.9h0M490.7 519.5h0M549.2 537.7h0M489.9 542.2h0M549.7 523.4h0M497.1 499.6h0M489.3 556.8h0M536.8 518.5h0M540.5 523.7h0M509.3 536.7h0M532.8 542.4h0M511.6 498.1h0M531.5 553h0M531.5 519.6h0M543.2 552.1h0M532.4 511.6h0M498.3 537.9h0M492.7 555.9h0M543.6 545.7h0M546.5 520.8h0M544.6 555.6h0M505.4 508.9h0M546.3 543.2h0M528.7 563.3h0M487.8 537.5h0M539.8 560.2h0M493.7 510.9h0M530.5 500.9h0M542 532.6h0M497.2 502.3h0M525.2 508.7h0M534.6 547h0M485.5 516.1h0M486.9 555.4h0M501.8 552.5h0M534.7 561.1h0M549.5 528h0M501.3 562.7h0M489.3 549.1h0M528.4 548.9h0M524.1 553.1h0M509.8 494.8h0M516 513.2h0M533.8 502.3h0M488.2 507.6h0M522.3 498.1h0M489 527.8h0M485.3 524.2h0M548.5 542.1h0M501.3 513.9h0M526.1 507.3h0M543.3 539.8h0M519.8 560.1h0M492.2 509.8h0M532.2 509h0M522.1 514.3h0M481.8 528.1h0M492 549.9h0M542.1 542.7h0M512 503.5h0M483.1 514.3h0M536.8 501.8h0M521.1 510.4h0M533.9 536.6h0M502.6 498.1h0M548.4 515.6h0M547.6 524h0M494.6 558.8h0M503 514h0M493.2 558.2h0M496.1 505.4h0M503.1 496.2h0M496.4 510.9h0M482.9 513h0M486.8 548.7h0M521.5 497.1h0M505.1 497.5h0M519.6 548.9h0M525.2 526h0M482.3 522.9h0M502.3 519.1h0M487.8 550.4h0M531.3 521.3h0M493.6 519h0M507.1 555.1h0M489.7 551.3h0M521.5 547.7h0M539.6 514.8h0M501.7 500.3h0M491.1 540h0M537.6 518.9h0M519.4 494.6h0M505.6 524.2h0M540.9 517.7h0M487.2 556.6h0M542.3 530.9h0M511.7 525.9h0M507.3 514.4h0M534.3 521.1h0M485.1 510.8h0M545.6 524.8h0M480.5 536.3h0M489.3 545.3h0M514.9 535.9h0M542.2 547.7h0M495.6 517.6h0M505.2 542.4h0M523.1 502.8h0M534.3 555.3h0M488.7 557.2h0M551.4 526.8h0M502.3 537h0M488.4 511.2h0M548.2 548.3h0M543.3 544.4h0M520.3 509.7h0M509 505.2h0M484.9 521.7h0M546.1 530h0M501.5 564.7h0M493.8 510.1h0M495.1 527.1h0M548.2 542.1h0M548.3 536.6h0M543.9 534.5h0M537.7 538h0M489.9 509.6h0M496.4 535.2h0M543.5 553h0M539.8 542h0"/>
<path stroke="#5563c0" stroke-width="1.2" stroke-linecap="round" d="M524.5 496.3h0M488 517.8h0M494.1 563.1h0M493 532.8h0M528.1 547.4h0M541.9 547.8h0M491.8 522.7h0M494.2 559.3h0M543.3 520h0M500.9 502.1h0M496 499.8h0M494.2 510.1h0M487.5 550.6h0M529.9 560h0M479.3 529.3h0M532.4 545.6h0M502 563.7h0M494.8 537.6h0M532.8 509.7h0M545.7 518.5h0M538.6 532.1h0M544.8 537.8h0M545.8 518.9h0M540.3 506.7h0M482.9 542.7h0M499.1 499.8h0M498.7 552.5h0M526 527.1h0M503.4 506.6h0M485.1 535.1h0M544.8 522.2h0M521.7 565.9h0M492.2 531.9h0M515.9 562.6h0M543.4 528.6h0M490 529.5h0M525.8 551.4h0M495.6 505.1h0M527.9 521.9h0M533.4 546.5h0M478.8 539.2h0M514.4 569.2h0M519.2 497.1h0M534.4 545.9h0M494.1 501.2h0M504.4 566.9h0M484.7 530h0M513 500.3h0M482.7 518h0M533.1 512h0M498.6 517.2h0M495.6 513.1h0M517.7 557.7h0M535.4 527.6h0M545.3 513.5h0M543.8 543.9h0M490.7 524.9h0M539.7 513.7h0M507.2 563.2h0M537.3 501.9h0M526.4 561.2h0M539.5 559.6h0M547 540.2h0"/>
<path stroke="#5563c0" stroke-width="1.6" stroke-linecap="round" d="M541.4 529.2h0M525.6 509.7h0M532.5 517.2h0M487 551.5h0M524.8 566h0M538.1 505.4h0M503.3 517.2h0M525.4 507.4h0M546.8 526.4h0M507.8 560.5h0M546.8 549.6h0M518.2 568.6h0M513.9 496.4h0M539.1 545h0M499.9 548.2h0"/>
</g>
<circle cx="515.4" cy="532" r="37.45" fill="none" stroke="#111" stroke-width="1.9"/>
</svg>
</body></html>
